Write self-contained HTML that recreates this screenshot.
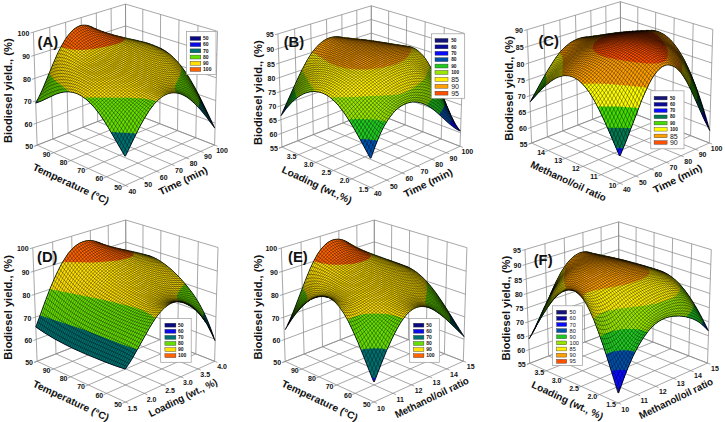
<!DOCTYPE html>
<html><head><meta charset="utf-8"><style>
html,body{margin:0;padding:0;background:#fff;}
svg{display:block;font-family:"Liberation Sans",sans-serif;}
text{fill:#111;}
</style></head><body>
<svg width="725" height="422" viewBox="0 0 725 422">
<defs><pattern id="p_yellowB" patternUnits="userSpaceOnUse" width="1" height="1" patternTransform="matrix(1.25 -1.55 1.25 1.55 0 0)"><rect width="1" height="1" fill="#fff000"/><path d="M0 0H1M0 1H1M0 0V1M1 0V1" stroke="#000" stroke-width="0.2" stroke-opacity="0.8"/></pattern>
<pattern id="p_navy" patternUnits="userSpaceOnUse" width="1" height="1" patternTransform="matrix(1.25 -1.55 1.25 1.55 0 0)"><rect width="1" height="1" fill="#14147a"/><path d="M0 0H1M0 1H1M0 0V1M1 0V1" stroke="#000" stroke-width="0.2" stroke-opacity="0.8"/></pattern>
<pattern id="p_blue" patternUnits="userSpaceOnUse" width="1" height="1" patternTransform="matrix(1.25 -1.55 1.25 1.55 0 0)"><rect width="1" height="1" fill="#0a0ae6"/><path d="M0 0H1M0 1H1M0 0V1M1 0V1" stroke="#000" stroke-width="0.2" stroke-opacity="0.8"/></pattern>
<pattern id="p_yellow" patternUnits="userSpaceOnUse" width="1" height="1" patternTransform="matrix(1.25 -1.55 1.25 1.55 0 0)"><rect width="1" height="1" fill="#ffe000"/><path d="M0 0H1M0 1H1M0 0V1M1 0V1" stroke="#000" stroke-width="0.2" stroke-opacity="0.8"/></pattern>
<pattern id="p_lime" patternUnits="userSpaceOnUse" width="1" height="1" patternTransform="matrix(1.25 -1.55 1.25 1.55 0 0)"><rect width="1" height="1" fill="#99e600"/><path d="M0 0H1M0 1H1M0 0V1M1 0V1" stroke="#000" stroke-width="0.2" stroke-opacity="0.8"/></pattern>
<pattern id="p_green2" patternUnits="userSpaceOnUse" width="1" height="1" patternTransform="matrix(1.25 -1.55 1.25 1.55 0 0)"><rect width="1" height="1" fill="#22c822"/><path d="M0 0H1M0 1H1M0 0V1M1 0V1" stroke="#000" stroke-width="0.2" stroke-opacity="0.8"/></pattern>
<pattern id="p_orange2" patternUnits="userSpaceOnUse" width="1" height="1" patternTransform="matrix(1.25 -1.55 1.25 1.55 0 0)"><rect width="1" height="1" fill="#ffa000"/><path d="M0 0H1M0 1H1M0 0V1M1 0V1" stroke="#000" stroke-width="0.2" stroke-opacity="0.8"/></pattern>
<pattern id="p_green" patternUnits="userSpaceOnUse" width="1" height="1" patternTransform="matrix(1.25 -1.55 1.25 1.55 0 0)"><rect width="1" height="1" fill="#66dd00"/><path d="M0 0H1M0 1H1M0 0V1M1 0V1" stroke="#000" stroke-width="0.2" stroke-opacity="0.8"/></pattern>
<pattern id="p_orange" patternUnits="userSpaceOnUse" width="1" height="1" patternTransform="matrix(1.25 -1.55 1.25 1.55 0 0)"><rect width="1" height="1" fill="#ff6400"/><path d="M0 0H1M0 1H1M0 0V1M1 0V1" stroke="#000" stroke-width="0.2" stroke-opacity="0.8"/></pattern>
<pattern id="p_steel" patternUnits="userSpaceOnUse" width="1" height="1" patternTransform="matrix(1.25 -1.55 1.25 1.55 0 0)"><rect width="1" height="1" fill="#0050aa"/><path d="M0 0H1M0 1H1M0 0V1M1 0V1" stroke="#000" stroke-width="0.2" stroke-opacity="0.8"/></pattern>
<pattern id="p_yellowC" patternUnits="userSpaceOnUse" width="1" height="1" patternTransform="matrix(1.25 -1.55 1.25 1.55 0 0)"><rect width="1" height="1" fill="#ffff00"/><path d="M0 0H1M0 1H1M0 0V1M1 0V1" stroke="#000" stroke-width="0.2" stroke-opacity="0.8"/></pattern>
<pattern id="p_blue2" patternUnits="userSpaceOnUse" width="1" height="1" patternTransform="matrix(1.25 -1.55 1.25 1.55 0 0)"><rect width="1" height="1" fill="#0a0aff"/><path d="M0 0H1M0 1H1M0 0V1M1 0V1" stroke="#000" stroke-width="0.2" stroke-opacity="0.8"/></pattern>
<pattern id="p_red" patternUnits="userSpaceOnUse" width="1" height="1" patternTransform="matrix(1.25 -1.55 1.25 1.55 0 0)"><rect width="1" height="1" fill="#ff5000"/><path d="M0 0H1M0 1H1M0 0V1M1 0V1" stroke="#000" stroke-width="0.2" stroke-opacity="0.8"/></pattern>
<pattern id="p_navy2" patternUnits="userSpaceOnUse" width="1" height="1" patternTransform="matrix(1.25 -1.55 1.25 1.55 0 0)"><rect width="1" height="1" fill="#0a0a9a"/><path d="M0 0H1M0 1H1M0 0V1M1 0V1" stroke="#000" stroke-width="0.2" stroke-opacity="0.8"/></pattern>
<pattern id="p_teal" patternUnits="userSpaceOnUse" width="1" height="1" patternTransform="matrix(1.25 -1.55 1.25 1.55 0 0)"><rect width="1" height="1" fill="#007070"/><path d="M0 0H1M0 1H1M0 0V1M1 0V1" stroke="#000" stroke-width="0.2" stroke-opacity="0.8"/></pattern>
<pattern id="p_tealg" patternUnits="userSpaceOnUse" width="1" height="1" patternTransform="matrix(1.25 -1.55 1.25 1.55 0 0)"><rect width="1" height="1" fill="#007a50"/><path d="M0 0H1M0 1H1M0 0V1M1 0V1" stroke="#000" stroke-width="0.2" stroke-opacity="0.8"/></pattern>
<pattern id="p_green3" patternUnits="userSpaceOnUse" width="1" height="1" patternTransform="matrix(1.25 -1.55 1.25 1.55 0 0)"><rect width="1" height="1" fill="#44dd00"/><path d="M0 0H1M0 1H1M0 0V1M1 0V1" stroke="#000" stroke-width="0.2" stroke-opacity="0.8"/></pattern></defs>
<rect width="725" height="422" fill="#fff"/>
<g><path d="M37.1 145.1L33.4 32.1M52.8 139L49.7 27.1M68.1 133L65.6 22.3M83.1 127.2L81.2 17.6M97.7 121.5L96.3 13M112 115.9L111.1 8.5M125.9 110.5L125.5 4.1M37.1 145.1L125.9 110.5M36.4 123.2L125.8 89.8M35.7 100.9L125.8 68.8M34.9 78.3L125.7 47.5M34.2 55.3L125.6 26M33.4 32.1L125.5 4.1M214.6 145.1L217.5 31.3M195.8 137.7L198 25.6M177.5 130.6L179 19.9M159.8 123.7L160.6 14.5M142.6 117L142.8 9.2M125.9 110.5L125.5 4.1M214.6 145.1L125.9 110.5M215.2 123L125.8 89.8M215.8 100.6L125.8 68.8M216.3 77.8L125.7 47.5M216.9 54.8L125.6 26M217.5 31.3L125.5 4.1M122.4 186.7L214.6 145.1M103.6 178.1L195.8 137.7M85.4 169.7L177.5 130.6M67.8 161.7L159.8 123.7M50.8 153.8L142.6 117M34.3 146.3L125.9 110.5M128.2 186.7L37.1 145.1M144.1 179.5L52.8 139M159.5 172.5L68.1 133M174.6 165.7L83.1 127.2M189.2 159L97.7 121.5M203.5 152.5L112 115.9M217.5 146.2L125.9 110.5M37.1 145.1L34.3 146.3M36.4 123.2L33.5 124.3M35.7 100.9L32.8 101.9M34.9 78.3L32 79.3M34.2 55.3L31.2 56.3M33.4 32.1L30.5 33" fill="none" stroke="#8a8a8a" stroke-width="0.75"/>
<defs><path id="sA" d="M125.1 156.4l-19.2-32.8-7.3-10.8-5.4-6.7-5.7-5.7-6.1-4.6-4.5-2.2-3.3-1.1-4.7-0.7-5 0.2-7.8 2.1-14 6.6-3.5 1.5-2.5 0.5 6.6-13.8 14.1-33.8 4.8-9.5 4.7-7.7 3.5-4.5 4.2-4.3 5.6-3.3 3.5-0.8 5 0.6 12.5 5.1 10.5 3.5 36.5 8.9 11 4.2 8.1 4.6 4.9 3.9 5.6 5.6 6.4 7.9 4.8 7.1 8.3 14.5 17 35-0.1 0.5-8.2-10.9-7.2-8.4-4.8-4.8-5.5-4.5-6.3-3.5-4.5-1.3-5-0.2-4.5 1-4.5 2.3-4 2.9-4.6 4.6-5.2 6.8-8.7 14.7-15.5 31.3z"/><clipPath id="cA"><use href="#sA"/></clipPath></defs>
<use href="#sA" fill="#0a0ae6"/>
<g clip-path="url(#cA)"><path d="M191.6 211l-191.5-0.1 0-210.8 241.8 0 0.1 103-0.4 3.6-29.2 14.8-0.5 2.9-0.7 0.7-33.8 24.6-0.6 0.9 1 10 2 10.8 3.3 11.7 8.6 26.8-0.1 1.1z" fill="#007070" fill-rule="evenodd"/><path d="M56.1 164.2l-0.5-0.4 4-13.7-15.7-36.8-5.3-11.2-1.5-1.8-36.7-18.6-0.4-3.8 0.1-77.8 241.8 0 0.1 69-0.4 4-42.5 21.5 0.6 6.8-1.2 6.2-20.9 20.3-2.2 2.7 1.3 17.8-0.1 4.8-40-19.8-25.2-1.3-55.3 32.1z" fill="#66dd00" fill-rule="evenodd"/><path d="M67.9 119.4l-0.5-0.8 2.1-20.7 0-5.5-0.4-0.8-14-11.2-6.2-6.9-48.4-19.4-0.5-5 0.1-49 241.8 0 0.1 14-0.2 2.3-0.7 1.5-54.7 43.7-5 4.6-0.4 4.9-0.9 3.8-4.5 9.5-1 3.2 0.3 2.8 2.3 3-2.9 16.5-0.1 7-0.6 1-16.5-16.5-4.5-1.3-9.7-1.5-15.3-0.8-43-0.2-0.8 0.3-2.4 2.9-13.5 18.6z" fill="#ffe000" fill-rule="evenodd"/><path d="M81.9 50.1l-10.8-0.6-9.6-2.6-60.9-30.4-0.5-1.6 0-14.8 121.8-0.1 5.2 0.1 1.9 0.5-8.6 34.5 0.7 1.8 3.5 2 0.3 0.7-0.5 1-5 2.6-11.3 3-15 2.8-11.2 1.1z" fill="#ff6400" fill-rule="evenodd"/></g>
<g opacity="0.7"><path d="M123.3 153.5l6.7-14.5 5.8-11.3 5.4-9.6 5.1-7.7 5.1-6.4 5-5 2.5-1.9 2.8-1.9 2.4-1.2 2.8-1.1 2.7-0.7 2.8-0.3 2.7 0.1 2.7 0.4 2.6 0.7 3 1.2 2.9 1.5 2.9 1.8 3.1 2.4 3.1 2.6 3.1 3 3.1 3.3 6 7.5 5.6 8.4M127.2 152.7l-7.8-13.5-6.4-10.6-5.7-8.7-5.1-7.1-5.3-6.5-5-5.2-4.9-4.3-4.8-3.4-4.8-2.4-5.1-1.6-5-0.5-5.2 0.2-5.1 1.2-5.6 2-6 2.9-7.8 4.5M121.4 150.2l5.7-12.5 5.8-11.1 5.4-9.2 5.4-7.8 5.4-6.4 2.5-2.5 2.8-2.5 2.5-1.9 2.8-1.7 2.8-1.4 2.7-1.1 2.8-0.7 3-0.4 3-0.1 3 0.4 3 0.6 3.2 1.2 2.9 1.3 3.2 1.8 3.1 2.2 3.1 2.4 2.8 2.6 2.8 2.9 2.7 3.3 2.5 3.3 5.1 8.1M129.1 148.6l-6.1-10.7-6.1-9.8-6.1-8.8-5.7-7.5-5.9-7-5.6-5.7-5.5-4.7-5.2-3.5-5.4-2.7-5.3-1.6-5.3-0.8-5.4 0.2-5.7 1.1-5.6 2.1-5.4 2.9-5.4 3.9M119.4 146.8l5.5-11.7 5.4-10.2 5.5-8.8 5.4-7.4 5.3-6.1 2.9-2.7 2.8-2.4 2.8-2 2.8-1.7 2.7-1.4 3.1-1.2 3-0.8 3.4-0.5 3-0.2 3.3 0.3 3.2 0.6 3.2 0.9 3.2 1.3 3.2 1.7 2.8 1.7 2.9 2.1 2.8 2.4 2.5 2.6 2.4 3 2.5 3.3 2.4 3.8 2.1 3.8M131 144.5l-5.5-9.5-5.4-8.4-5.8-8.1-6.3-7.9-6.6-7.3-6.2-6.1-5.8-4.8-5.8-3.9-5.7-2.9-5.6-1.8-5.5-1-2.9-0.1-2.9 0.1-5.3 0.9-5 1.8-2.5 1.3-2.4 1.5-4.5 3.7M117.5 143.5l5.1-10.8 5.2-9.4 5.4-8.4 5.4-7.1 5.7-6.1 2.8-2.6 3.1-2.5 2.8-2 3.1-1.8 3.1-1.5 3.1-1.2 3.3-0.9 3.3-0.6 3.3-0.2 3.3 0.1 3.3 0.5 3.2 0.8 3.2 1.1 3.4 1.5 2.9 1.6 2.5 1.8 2.5 2.1 2.5 2.6 2.2 2.6 2.2 3 2.2 3.4 2.1 3.9M132.9 140.4l-5.1-8.6-5.2-7.7-5.7-7.6-6.3-7.4-7.2-7.6-6.9-6.4-6.4-5.2-6.1-3.9-5.6-2.9-5.9-2.1-5.8-1.2-5.8-0.2-2.5 0.3-2.5 0.5-4.5 1.5-2.2 1.2-2.1 1.4-4 3.4M115.6 140.1l4.8-9.8 5.1-9 5.4-8.1 5.5-6.7 6-6.1 5.9-4.9 3.1-2.1 3.1-1.7 3.1-1.5 3.4-1.3 3.3-1 3.3-0.6 3.3-0.4 3.6 0 3.2 0.3 3.5 0.7 3.5 1 3.2 1.3 2.5 1.4 2.6 1.6 2.5 2.1 2.2 2.2 2.2 2.6 1.9 2.6 2.2 3.4 1.9 3.4M134.9 136.5l-4.9-7.9-4.8-6.8-5.4-6.8-6.1-6.7-7.8-7.9-7.4-6.8-6.8-5.4-6.6-4.4-6-3.1-5.9-2.3-5.8-1.4-5.7-0.5-4.8 0.4-4.2 1.3-2.2 1.1-1.9 1.2-3.7 3.1M113.6 136.7l4.9-9.4 5.1-8.5 5.1-7.2 5.7-6.7 6-5.8 6.3-4.9 3.1-2 3.4-1.9 3.1-1.4 3.3-1.3 3.7-1.1 3.3-0.7 3.6-0.4 3.3-0.1 3.5 0.2 3.2 0.4 3.2 0.8 3.2 1.1 2.5 1.2 2.6 1.6 2.2 1.7 2.2 2.1 2.3 2.5 1.9 2.5 3.7 6.3M136.8 132.6l-4.5-7-4.9-6.5-5.1-6-6-6.3-8.8-8.4-7.7-6.8-7.4-5.7-6.6-4.3-6.3-3.3-5.9-2.4-5.8-1.7-5.4-0.8-4.5 0.2-3.9 1-3.8 1.9-3.5 2.8M111.7 133.4l4.8-8.9 5.2-8.1 5.1-6.8 5.7-6.3 6.3-5.8 6.3-4.7 6.5-3.7 6.7-2.8 3.7-1.2 3.3-0.7 3.6-0.6 3.2-0.2 3.6 0 3.2 0.3 3.5 0.7 2.9 0.9 2.5 1 2.3 1.3 2.2 1.6 2.3 2 1.9 2.1 1.9 2.4 3.8 6M138.7 128.8l-4.5-6.5-4.5-5.7-5.1-5.7-5.8-5.6-9.4-8.6-8.3-7.1-7.4-5.5-6.9-4.5-6.2-3.5-5.9-2.6-6.1-2-5.2-1-4.2-0.2-3.9 0.7-3.6 1.6-3.2 2.3M109.8 130.1l4.8-8.3 5.2-7.6 5.1-6.5 5.7-6 6.3-5.5 6.6-4.7 6.5-3.7 7-3 7-2 3.6-0.6 3.2-0.4 3.6 0 3.2 0.2 3.2 0.4 2.9 0.7 2.5 1 2.3 1.1 2.3 1.5 1.9 1.6 1.9 1.9 2 2.3 1.9 2.6 1.9 3.1M140.6 125.1l-4.2-5.6-4.5-5.2-5.1-5.4-5.7-5.3-10.1-8.8-8.6-7-7.7-5.7-6.9-4.5-6.2-3.5-6.2-2.9-6.1-2.3-4.9-1.3-3.9-0.4-3.7 0.3-3.3 1.1-3.2 1.9M107.9 126.9l5.1-8.2 5.2-7.1 5.4-6.4 5.7-5.6 6.3-5.2 6.6-4.5 6.8-3.7 7-3 7-2 3.6-0.7 3.2-0.4 3.6-0.2 3.2 0.1 3.2 0.4 2.6 0.5 2.2 0.8 2.3 1 2.3 1.4 1.9 1.5 2 1.8 1.9 2.1 3.5 5M142.5 121.6l-4.2-5.1-4.5-4.8-4.8-4.7-5.7-5.1-11-9.1-8.6-6.8-7.3-5.4-7-4.5-6.2-3.6-6.5-3.3-6.4-2.8-4.6-1.6-3.9-0.7-3.4 0-3.3 0.7-3 1.3M106 123.8l5.1-7.7 5.5-7 5.4-5.9 6.1-5.6 6.3-5 6.5-4.3 6.8-3.6 7.3-3.1 7-2.1 6.5-1.2 6.5-0.2 3.2 0.2 2.6 0.5 2.3 0.6 2.2 0.9 2 1.1 2 1.3 1.9 1.7 2 2 3.5 4.6M144.4 118.2l-4.2-4.5-4.5-4.5-5.1-4.6-5.7-4.8-11.6-9.2-8.3-6.4-7-5-7-4.6-6.5-3.8-6.8-3.7-6.1-3.1-4.6-1.8-3.7-1.1-3.3-0.4-3.1 0.3-3 0.9M104.1 120.8l5.5-7.5 5.4-6.5 5.8-5.9 6-5.3 6.3-4.8 6.5-4.1 6.8-3.6 7.4-3 6.6-2.1 6.5-1.3 6.5-0.5 2.9 0.1 2.6 0.3 2.3 0.5 2.3 0.8 3.9 2.1 2 1.5 1.9 1.8 3.6 4.2M146.4 115l-9.1-8.3-11.1-9.1-19.6-14.9-6.7-4.7-6.7-4.4-15.9-9.4-5.2-2.9-4.1-1.9-3.4-1.2-3.1-0.7-3-0.2-2.8 0.4M102.2 117.9l5.5-6.9 5.8-6.4 6-5.9 6-5 6.3-4.6 6.6-4 6.8-3.5 7.3-3.1 6.9-2.2 6.2-1.4 6.2-0.6 5.5 0.3 2.3 0.4 2.3 0.7 3.9 1.9 3.7 2.8 3.5 3.8M148.3 112l-11.7-9.4-18.3-13.8-12.3-9-10-6.7-20.9-13-5.8-3.2-3.1-1.5-3.1-1-2.8-0.6-2.8-0.1M100.3 115.2l5.8-6.8 5.8-5.9 6.1-5.6 6.3-5.1 6.6-4.6 6.5-3.9 6.8-3.4 7.3-3 6.6-2.2 6.2-1.5 6.2-0.7 5.2 0.1 4.3 0.9 4 1.6 3.6 2.5 3.6 3.4M150.2 109.2l-36.2-26.2-14-9.7-30-19.3-2.8-1.5-2.8-1.2-2.6-0.8-2.5-0.5M98.4 112.6l6.2-6.6 6.1-5.9 6-5.3 6.3-4.9 6.6-4.4 6.6-3.8 6.7-3.3 7.3-3.1 6.6-2.2 6-1.5 5.8-0.9 5.3 0 4.3 0.6 3.9 1.4 3.7 2.2 3.6 3.1M152.1 106.7l-13.6-9-30.2-21.2-22.4-14.7-14-9.9-5.7-3.4-2.5-1.1-2.6-0.9M96.5 110.1l6.5-6.4 6.4-5.9 6.4-5.3 6-4.4 6.3-4.1 6.8-3.8 7.1-3.5 7.3-3.1 6.3-2.2 5.9-1.5 5.9-0.9 4.9-0.2 4 0.4 4 1.2 3.6 1.9 3.7 2.8M153.9 104.4l-7.4-4.3-8.3-5.4-26.5-18.3-22.5-14.9-18.6-13.9-4-2.5-3.6-1.8M94.7 107.8l6.7-6.4 6.5-5.5 6.3-5.1 6.4-4.5 6.2-3.9 6.8-3.8 7.1-3.4 7.3-3.1 6.3-2.3 5.9-1.6 5.6-1 4.9-0.3 4.1 0.4 3.9 1 3.7 1.7 3.3 2.3M155.8 102.2l-6.8-3.4-8-4.8-27.4-18.6-18.4-12.1-8.5-6.2-15.1-12.3-3.7-2.6-3.1-1.9M92.8 105.7l6.8-6.1 6.7-5.6 6.4-4.9 6.3-4.3 6.6-4 6.8-3.8 7.4-3.5 7.2-3.1 6.3-2.3 5.7-1.5 5.5-1.1 4.7-0.4 4 0.2 3.7 0.9 3.7 1.5 3.3 2M157.7 100.4l-7.1-3.3-8-4.6-45.2-30.1-8.9-6.5-15.3-13.3-6.6-5.1M90.9 103.7l7.1-6.1 6.8-5.4 6.4-4.7 6.3-4.2 6.5-4 6.9-3.6 7.6-3.7 7.3-3.1 6-2.2 5.6-1.7 5.3-1.1 4.6-0.5 4.1 0.1 3.7 0.6 3.6 1.3 3.4 1.9M159.6 98.7l-3.6-1.3-3.6-1.6-8.3-4.7-44.9-29.7-5.3-3.9-4.7-3.8-15.3-14-5.5-4.6M89.1 101.9l6.8-5.7 6.7-5.3 6.4-4.6 6.3-4.1 6.6-3.9 7.1-3.9 8-3.8 7.5-3.3 6-2.2 5.6-1.7 5.3-1.2 4.4-0.6 4 0.1 3.7 0.5 3.4 1.1 3.4 1.7M161.5 97.2l-3.6-1.2-3.6-1.5-3.9-1.9-4.4-2.6-44.9-29.6-5.9-4.4-5.3-4.4-19.6-18.8M87.2 100.2l6.8-5.6 6.5-5 6.3-4.5 6.7-4.2 6.8-4.1 7.2-3.7 8.2-4 7.6-3.3 6-2.3 5.3-1.7 5-1.2 4.3-0.6 4.1-0.1 3.7 0.4 3.4 1 3.3 1.5M163.3 96l-3.6-1.1-3.5-1.5-3.9-1.9-4.5-2.6-38.6-25.2-6.2-4.2-6.3-4.7-5.5-4.9-19.1-19M85.4 98.7l6.1-5.1 6.5-5 6.3-4.4 6.7-4.3 6.9-3.9 7.4-4 8.9-4.3 7.8-3.4 5.7-2.3 5.3-1.7 5-1.2 4.4-0.7 3.7-0.2 3.7 0.3 3.4 0.9 3.4 1.4M165.2 94.9l-3.6-1-3.6-1.5-3.9-1.9-4.1-2.3-38.6-25.2-6.9-4.7-6.2-4.7-5.9-5.3-5.5-5.5-13-13.6M83.6 97.3l5.8-4.9 6.1-4.7 6.4-4.4 6.6-4.3 6.9-3.9 7.8-4.1 9.5-4.6 7.8-3.5 5.7-2.3 5.3-1.8 4.7-1.2 4.4-0.8 3.7-0.2 3.7 0.2 3.4 0.8 3.4 1.3M167 94.1l-3.6-1.1-3.5-1.4-3.9-1.9-4.2-2.4-38.9-25.4-6.8-4.7-6.2-4.8-5.9-5.3-6.1-6.3-12.1-13M81.7 96.1l5.5-4.8 5.8-4.5 6.1-4.2 6.3-4.1 7.2-4.1 7.8-4.1 10.4-5.1 8.2-3.7 5.6-2.3 5.4-1.8 4.7-1.3 4.3-0.8 3.8-0.3 3.7 0.2 3.4 0.8 3.1 1.1M168.8 93.5l-3.2-1-3.6-1.5-3.8-1.9-4.2-2.5-39.5-25.8-6.9-4.7-6.2-4.9-5.9-5.4-6.1-6.3-11.8-12.8M79.9 95l5.2-4.6 5.5-4.4 5.7-4.1 6.4-4 7.2-4.2 7.8-4.2 11-5.4 8.7-4 5.7-2.3 5.3-1.9 4.7-1.3 4.1-0.8 3.8-0.3 3.7 0.2 3.4 0.6 3.1 1.1M170.7 93l-3.3-1.1-3.5-1.5-7.7-4.3-23.5-15.6-17-11-6.6-4.6-6.2-4.9-5.5-5.1-5.8-5.9-12.1-13.1M78.1 94.1l4.9-4.6 5.1-4.2 5.4-4 6.1-3.9 7.2-4.2 7.8-4.2 11.4-5.6 9.3-4.4 5.7-2.3 5.3-2 4.7-1.4 4.4-0.9 3.7-0.3 3.8 0.1 3.4 0.6 3.1 1.1M172.5 92.8l-3.3-1.2-3.2-1.5-7.4-4.3-23.2-15.5-18.5-12.1-6.2-4.4-5.9-4.6-5.6-5.1-5.2-5.3-12.7-13.5M76.3 93.4l4.5-4.6 4.9-4.2 5.1-3.9 5.7-3.8 7.2-4.2 8.2-4.4 11.3-5.6 10.3-4.9 6-2.5 5.3-2 4.7-1.4 4.1-0.8 3.7-0.4 3.7 0.1 3.5 0.6 3.1 1.1M174.3 92.8l-6.2-2.9-7-4.2-21.1-14.4-21-13.8-6.8-4.8-5.6-4.4-5-4.5-18.5-18.7M74.5 92.8l4.5-4.8 4.5-4.2 5.1-4 5.5-3.6 6.9-4.2 7.8-4.2 10.2-5.1 12.1-5.8 6.3-2.7 5.3-2 5-1.6 4.1-0.8 3.7-0.4 3.7 0.1 3.5 0.6 3.1 1.2M176.1 92.9l-5.5-2.9-6.4-4-22-15.3-21.9-14.5-6.9-4.8-5-3.9-4.4-3.9-19-18.5M72.7 92.4l4.2-4.8 4.5-4.4 4.8-4 5.1-3.6 6.6-4 8.2-4.5 22.3-11 6.6-2.9 5.6-2.1 5-1.6 4.4-1 3.7-0.4 3.7 0.2 3.5 0.6 3.1 1.2M177.9 93.2l-4.9-2.9-5.1-3.3-23.9-17.1-22.8-15.1-6.5-4.7-8-6.4-14.2-13.5-5.7-4.9M71 92.1l4.1-5.2 4.2-4.3 4.8-4.2 5.1-3.7 6.3-3.9 7.8-4.4 8.7-4.4 13.1-6.4 6.9-3.1 5.9-2.3 5.3-1.8 4.4-1 4-0.5 3.8 0.2 3.4 0.7 3.4 1.3M179.7 93.7l-9-6.2-24.9-18.3-23.4-15.7-6.5-4.6-7.1-5.7-14.2-12.8-6-4.7M69.2 91.9l3.9-5.1 4.1-4.7 4.5-4.1 5.1-3.9 6-3.9 7.8-4.4 8.4-4.4 12.2-5.9 7.5-3.5 6.2-2.6 5.9-2 4.7-1.1 4.1-0.5 3.7 0.2 3.7 0.8 3.4 1.4M181.5 94.3l-22.4-17.3-9-6.7-9.6-6.8-16.9-11.2-6.8-4.9-5.9-4.6-13.3-11.5-3.7-2.8-3.4-2.1M67.5 91.8l3.5-5 3.5-4.3 3.8-3.9 4.1-3.6 4.5-3.3 5.7-3.6 6.5-3.7 7.8-4 12.5-6.2 7.8-3.5 6.8-2.8 5.9-1.8 5-1.1 4.3-0.2 4 0.5 4 1.4M183.2 95.1l-16.6-14-13.5-10.5-11.7-8.4-22.5-15.3-5-3.8-9.9-8.2-4.6-3.5-3.7-2.5-3.4-1.7M65.7 91.9l3.2-4.9 3.5-4.6 3.5-3.9 3.8-3.6 3.8-3.1 4.8-3.2 5.9-3.6 6.9-3.8 9.8-5 11.5-5.4 7.2-3 6.2-2.2 5.3-1.3 4.6-0.4 4.3 0.3 4 1.2M185 96l-7.7-7.3-8.3-7.3-8.2-6.8-8.7-6.7-10.7-7.8-21-14.1-17.2-13.1-4.6-2.8-4.2-1.9M64 92.1l3.1-5.3 3.2-4.4 3.5-4.2 3.5-3.6 3.8-3.2 4.1-3 5.7-3.7 5.9-3.4 9-4.7 12.1-5.9 7.5-3.2 6.6-2.3 5.5-1.5 5-0.7 4.3 0.2 4 1M186.8 97.1l-7.4-7.8-7.7-7.2-8.5-7.4-9.3-7.4-12-8.7-20.9-14.1-13.4-9.8-4.6-2.9-4-1.8M62.3 92.3l3.1-5.5 3.2-4.7 3.5-4.5 3.4-3.7 3.8-3.4 4.2-3.2 5.6-3.8 5.9-3.5 8.7-4.6 11.6-5.5 7.8-3.4 6.5-2.3 5.6-1.4 4.9-0.6 4.6 0.2 4 1.1M188.5 98.3l-7-8.2-7.7-7.7-9.1-8.3-10.3-8.3-12.2-9-18.8-12.6-11.7-8.1-5.5-3.2-4.5-1.8M60.5 92.7l2.9-5.3 3.1-5.1 3.2-4.4 3.5-4 3.4-3.5 4.1-3.4 5.1-3.6 5.6-3.6 7.7-4.3 9.8-4.9 8.5-3.8 7.2-2.7 6.2-1.7 5.2-0.9 4.7 0 4 0.8M190.2 99.6l-7-8.9-7.6-8.3-8.8-8.3-10.6-8.8-7-5.4-7.3-5.2-25.2-16.6-6.4-3.8-2.6-1.1-2.5-0.9M58.8 93.2l2.9-5.6 3.1-5.4 3.5-5 3.4-4.3 3.5-3.5 4.1-3.6 5-3.8 5.3-3.5 7.2-4.1 8.5-4.4 8.8-3.9 7.2-2.7 6.2-1.7 5.3-0.9 4.7 0 4.3 0.7M191.9 101.1l-3.1-4.7-3.5-4.7-3.8-4.6-3.8-4.2-8.8-8.7-10.9-9.4-6.2-4.8-6.4-4.7-14.3-9.6-15-9.1-4-2-3.7-1.3M57.1 93.7l3.2-6.4 3.1-5.6 3.1-4.8 3.5-4.5 3.5-3.8 4.1-3.8 4.7-3.8 5.3-3.7 6.8-4.1 7.4-3.8 8.5-3.8 7.2-2.8 5.9-1.6 5.6-1 5-0.2 4.3 0.6M138.9 40.8l0.3 0.1M193.7 102.6l-3.2-5.1-3.5-5-3.8-4.9-3.8-4.5-4.1-4.4-4.7-4.6-10.9-9.7-6.1-4.9-6.1-4.5-6.6-4.7-6.9-4.4-7.9-4.8-6.5-3.6-4.3-2-3.7-1.2M55.5 94.4l3.1-6.8 3.1-5.9 3.1-5 3.5-4.8 3.4-4 4.1-4.1 4.7-3.9 5-3.7 6.2-4 6.8-3.6 8.2-3.8 6.9-2.6 6-1.7 5.6-1 5-0.2 4.6 0.6M135.4 40l0.6 0.2M195.4 104.2l-3.2-5.4-3.5-5.4-3.5-4.9-3.7-4.7-4.1-4.6-4.4-4.6-5.3-5-5.6-5-6.1-5.1-6.1-4.6-6.3-4.5-6.6-4.3-6.8-4-6.8-3.6-4.3-2-4-1.2M53.8 95l3.1-7 3.1-6.1 3.4-5.9 3.5-4.9 3.7-4.6 4.1-4.2 4.7-4.2 5-3.8 6.2-4 6.4-3.5 7.6-3.5 6.7-2.4 5.6-1.4 5.7-0.8 5.2 0 4.7 0.7M197 105.9l-3.1-5.8-3.2-5.3-3.4-5.2-3.8-5-3.8-4.5-4.3-4.8-5.3-5.3-5.6-5.1-5.8-5-6.1-4.8-6.4-4.6-6-4-6.2-3.7-5.9-3-4.9-2.2-4.4-1.3M52.1 95.8l3.1-7.3 3.1-6.4 3.4-6.1 3.4-5.3 3.8-4.9 4.1-4.5 4.6-4.4 5-4.1 5.6-3.8 6.1-3.4 7.1-3.3 6.3-2.3 5.7-1.4 5.3-0.7 5.3 0 4.7 0.7M198.7 107.7l-3.1-6.2-3.1-5.6-3.5-5.4-3.8-5.3-3.7-4.8-4.4-4.9-5.3-5.5-5.6-5.3-5.8-5.2-6.1-4.9-6.3-4.6-6-3.9-5.7-3.3-5.5-2.7-5-2-4.3-1.1M50.4 96.6l3.1-7.6 3.4-7.2 3.4-6.3 3.4-5.5 3.8-5.2 4.3-5.1 4.7-4.6 4.7-4 5.2-3.7 5.9-3.4 6.4-3 6.1-2.2 5.4-1.3 5.3-0.6 5 0.1 5 0.9M200.4 109.6l-3.1-6.5-3.2-5.9-3.4-5.8-3.4-5.1-3.8-5-4.1-4.9-4.9-5.4-5.3-5.3-5.5-5.1-5.8-4.9-6.1-4.6-6-4.1-5.3-3.2-5.1-2.5-4.9-2-4.4-1.3M125.5 37.9l-0.3-0.1M124.7 37.7l-0.6 0M48.8 97.4l3-7.7 3.4-7.5 3.4-6.6 3.7-6.3 4.1-5.8 4-5 4.4-4.7 4.6-4.2 5.3-3.9 5.2-3.2 5.5-2.7 5.8-2 5.4-1.3 5.1-0.6 5 0.2 4.8 0.8M122 37.1l0.3 0.1M202.1 111.6l-3.1-6.9-3.2-6.2-3.4-6-3.4-5.4-3.8-5.2-4-5.1-4.7-5.3-4.9-5.2-5.6-5.3-5.5-4.8-6-4.7-5.7-4-5.1-3.1-5-2.6-4.7-1.8-4.4-1.2M47.1 98.2l3.4-8.5 3.4-7.6 3.7-7.4 3.7-6.5 4-6.1 4-5.2 4.4-4.9 4.3-4.1 5-4 4.9-3.1 5.2-2.5 5.1-1.9 5.2-1.1 5.1-0.5 5 0.3 4.8 1M203.7 113.6l-3.1-7.2-3.1-6.3-3.4-6.3-3.4-5.6-3.5-5-4-5.4-4.7-5.6-4.9-5.4-5.2-5.2-5.5-5-5.8-4.7-5.4-3.9-5.1-3.1-4.7-2.5-4.4-1.7-4.4-1.2M132.5 39.4l-0.3 0M45.5 99l3.3-8.6 3.7-8.4 3.7-7.6 4-7.2 4-6.4 4-5.6 4.1-4.7 4.3-4.4 4.3-3.7 4.6-3.1 4.9-2.5 4.9-1.7 4.8-1.1 4.9-0.3 4.7 0.3 4.8 1.1M115.1 35.3l0.3 0.1M205.4 115.6l-3.1-7.3-3.1-6.6-3.4-6.5-3.5-5.8-3.7-5.7-3.7-5.1-4.7-5.9-4.6-5.3-4.9-5.1-5.2-4.9-5.5-4.6-5.4-4.1-4.8-3.1-4.7-2.5-4.4-1.7-4.1-1.1M136 40.2l-0.3-0.1M43.9 99.8l3.6-9.2 4-9.2 3.6-7.7 4-7.6 4-6.6 4-5.9 4.1-5 4-4.3 4.3-3.8 4.3-3 4.3-2.3 4.6-1.6 4.5-1 4.5-0.2 4.5 0.5 4.8 1.2M111.6 34.3l0.3 0.1M207 117.7l-3.1-7.4-3.1-6.7-3.4-6.7-3.4-6-3.7-6-3.7-5.4-4.4-5.7-4.3-5.3-4.6-5-4.9-4.9-4.8-4.3-5.2-4.1-4.8-3.3-4.4-2.5-4.2-1.9-4.1-1.2M42.2 100.6l4.3-10.6 3.9-9.1 4-8.5 4-7.8 3.7-6.4 3.7-5.8 3.6-5 4-4.6 4-3.8 4-3 4-2.2 4.3-1.7 4.3-0.8 4.2-0.2 4.5 0.6 4.5 1.2M208.6 119.8l-3-7.4-3.4-7.4-3.4-6.8-3.4-6.2-3.7-6.2-4.1-6.1-4-5.5-4.3-5.4-4.6-5.3-4.5-4.7-4.6-4.1-4.8-3.9-4.5-3.2-4.2-2.4-4.2-1.9-4.1-1.3M40.6 101.3l9.4-22.2 4-8.6 3.9-8 3.7-6.7 3.4-5.5 3.4-4.8 3.6-4.5 3.7-3.7 3.7-2.9 3.7-2.2 4-1.6 3.9-0.8 4-0.1 4.2 0.7 4.5 1.4M210.2 122l-6.7-15.4-3.4-6.9-3.7-6.9-3.7-6.4-4-6.3-4-5.7-4-5.3-4-4.7-4.2-4.6-4.3-4.1-4.5-3.8-4.2-3-4.2-2.6-4.2-2-3.8-1.2M39 102l12.4-28.7 6.7-14.2 3.4-6.3 3-5.1 3.1-4.5 3.3-4.3 3.4-3.5 3.7-3.1 3.4-2 3.6-1.5 3.7-0.6 3.7 0.1 3.9 0.8 3.9 1.4M211.9 124.2l-7.4-16.5-7.1-13.9-7-12.2-3.7-5.6-3.7-5.2-3.7-4.6-3.9-4.6-4-4-3.9-3.6-3.9-3.1-3.9-2.6-3.9-2.1-3.6-1.5M37.4 102.6l5.1-11.3 10.9-25.3 4.6-9.8 3-5.9 2.7-4.8 3.1-4.7 2.7-3.6 3.4-3.8 3.4-2.9 3.3-2.1 3.1-1.2 3.4-0.6 3.3 0.2 3.7 0.9 3.6 1.5M213.5 126.3l-8.6-18.4-7.4-14.7-6.7-11.9-6.4-9.8-3.4-4.5-3.6-4.4-3.4-3.5-3.6-3.5-3.6-3-3.6-2.6-3.6-2.1-3.6-1.7" fill="none" stroke="#000" stroke-width="0.55"/></g>
<path d="M125.5 156.1l8.4-17.6 5.4-11 5.1-9.3 4.8-7.6 4.7-6.2 2.6-2.8 2.5-2.4 2.1-1.7 2.5-1.7 2.5-1.3 2.4-0.9 2.5-0.6 2.4-0.2 2.4 0.1 2.7 0.4 2.7 0.9 2.6 1.2 2.7 1.5 2.6 1.8 5.4 4.7 5.9 6.2 6.3 7.7 8.1 10.9M124.9 156.2l-16.7-28.8-4.4-7.1-4.1-6-4.7-6.1-4.7-5.1-4.6-4.2-4.6-3.2-4.2-2.1-4.4-1.3-4.7-0.5-4.7 0.4-4 0.9-3.9 1.4-14.1 6.6-5.3 2M35.8 103.1l3-5.9 3.4-7.2 11.4-27.4 4.5-10.1 4.9-9.2 2.4-4 2.4-3.5 3.1-3.6 3-3 3.1-2.1 3.1-1.4 3-0.6 3.1 0.1 3.3 0.8 3.4 1.5M214.7 127.9l-12.8-26.6-5.5-10.9-5.5-9.9-5.2-8.2-6.1-8.1-3-3.4-3.3-3.4-3.3-3-3.3-2.5-3.3-2.1-3-1.6" fill="none" stroke="#000" stroke-width="0.8"/>
<text x="33.1" y="148.8" font-size="7" text-anchor="end" font-weight="bold">50</text>
<text x="32.3" y="126.8" font-size="7" text-anchor="end" font-weight="bold">60</text>
<text x="31.6" y="104.4" font-size="7" text-anchor="end" font-weight="bold">70</text>
<text x="30.8" y="81.8" font-size="7" text-anchor="end" font-weight="bold">80</text>
<text x="30" y="58.8" font-size="7" text-anchor="end" font-weight="bold">90</text>
<text x="29.3" y="35.5" font-size="7" text-anchor="end" font-weight="bold">100</text>
<text x="118.1" y="189.9" font-size="7" text-anchor="middle" font-weight="bold">50</text>
<text x="99.3" y="181.2" font-size="7" text-anchor="middle" font-weight="bold">60</text>
<text x="81.2" y="172.9" font-size="7" text-anchor="middle" font-weight="bold">70</text>
<text x="63.6" y="164.8" font-size="7" text-anchor="middle" font-weight="bold">80</text>
<text x="46.6" y="156.9" font-size="7" text-anchor="middle" font-weight="bold">90</text>
<text x="132.3" y="194" font-size="7" text-anchor="middle" font-weight="bold">40</text>
<text x="148.2" y="186.7" font-size="7" text-anchor="middle" font-weight="bold">50</text>
<text x="163.7" y="179.5" font-size="7" text-anchor="middle" font-weight="bold">60</text>
<text x="178.9" y="172.6" font-size="7" text-anchor="middle" font-weight="bold">70</text>
<text x="193.6" y="165.8" font-size="7" text-anchor="middle" font-weight="bold">80</text>
<text x="208" y="159.2" font-size="7" text-anchor="middle" font-weight="bold">90</text>
<text x="222" y="152.8" font-size="7" text-anchor="middle" font-weight="bold">100</text>
<rect x="186.6" y="31.6" width="29.4" height="43" fill="#fff" stroke="#9a9a9a" stroke-width="0.7"/>
<rect x="190.1" y="36.5" width="10.7" height="3.9" fill="#0a0a80" stroke="#333" stroke-width="0.4"/>
<text x="203.1" y="40.2" font-size="5" font-weight="bold" fill="#222">50</text>
<rect x="190.1" y="42.7" width="10.7" height="3.9" fill="#0a0ae6" stroke="#333" stroke-width="0.4"/>
<text x="203.1" y="46.4" font-size="5" font-weight="bold" fill="#222">60</text>
<rect x="190.1" y="48.9" width="10.7" height="3.9" fill="#007070" stroke="#333" stroke-width="0.4"/>
<text x="203.1" y="52.6" font-size="5" font-weight="bold" fill="#222">70</text>
<rect x="190.1" y="55.1" width="10.7" height="3.9" fill="#66dd00" stroke="#333" stroke-width="0.4"/>
<text x="203.1" y="58.8" font-size="5" font-weight="bold" fill="#222">80</text>
<rect x="190.1" y="61.3" width="10.7" height="3.9" fill="#ffe000" stroke="#333" stroke-width="0.4"/>
<text x="203.1" y="65" font-size="5" font-weight="bold" fill="#222">90</text>
<rect x="190.1" y="67.5" width="10.7" height="3.9" fill="#ff6400" stroke="#333" stroke-width="0.4"/>
<text x="203.1" y="71.2" font-size="5" font-weight="bold" fill="#222">100</text>
<text x="11.8" y="90.7" font-size="11.5" font-weight="bold" text-anchor="middle" textLength="104.7" lengthAdjust="spacingAndGlyphs" transform="rotate(-90 11.8 90.7)">Biodiesel yield., (%)</text>
<text x="69.5" y="187" font-size="10" font-weight="bold" text-anchor="middle" textLength="83" lengthAdjust="spacingAndGlyphs" transform="rotate(25 69.5 187)">Temperature (°C)</text>
<text x="184.5" y="184" font-size="10" font-weight="bold" text-anchor="middle" textLength="53" lengthAdjust="spacingAndGlyphs" transform="rotate(-26 184.5 184)">Time (min)</text>
<text x="37.6" y="46.7" font-size="14.8" font-weight="bold">(A)</text></g>
<g><path d="M281.9 147L277.9 33.9M297.8 140.8L294.6 28.9M313.3 134.7L310.7 24M328.3 128.7L326.5 19.3M343 122.9L341.8 14.7M357.3 117.3L356.8 10.2M371.3 111.7L371.3 5.8M281.9 147L371.3 111.7M281.4 133.4L371.3 99M281 119.7L371.3 86.1M280.5 105.8L371.3 73M280 91.7L371.3 59.8M279.5 77.5L371.3 46.5M279 63.1L371.3 33.1M278.4 48.6L371.3 19.5M277.9 33.9L371.3 5.8M460 146.3L464 33.3M441.2 138.9L444.3 27.5M422.9 131.8L425.2 21.8M405.2 124.9L406.7 16.3M388 118.2L388.7 11M371.3 111.7L371.3 5.8M460 146.3L371.3 111.7M460.5 132.7L371.3 99M461 119L371.3 86.1M461.5 105.1L371.3 73M462 91L371.3 59.8M462.5 76.8L371.3 46.5M463 62.5L371.3 33.1M463.5 48L371.3 19.5M464 33.3L371.3 5.8M367.9 188.8L460 146.3M348.9 180.2L441.2 138.9M330.6 171.8L422.9 131.8M312.8 163.7L405.2 124.9M295.7 155.8L388 118.2M279 148.2L371.3 111.7M373.7 188.8L281.9 147M389.6 181.4L297.8 140.8M405.1 174.2L313.3 134.7M420.1 167.2L328.3 128.7M434.8 160.4L343 122.9M449 153.8L357.3 117.3M462.9 147.4L371.3 111.7M281.9 147L279 148.2M281.4 133.4L278.5 134.5M281 119.7L278 120.8M280.5 105.8L277.5 106.8M280 91.7L277 92.7M279.5 77.5L276.5 78.5M279 63.1L276 64.1M278.4 48.6L275.4 49.5M277.9 33.9L274.9 34.8" fill="none" stroke="#8a8a8a" stroke-width="0.75"/>
<defs><path id="sB" d="M370.6 158.6l-16.2-29.5-10-16-8-10.1-5.9-5.4-4.4-2.8-5-2.2-5-1.1-6 0.3-6 1.8-6.5 3.7-4.2 3.5-5.4 5.6-6.2 7.7 15.5-34.7 5.8-11.8 5-9 5-7.6 5.9-6.6 5.6-4.3 4.8-2.3 4.5-1 5.2 0 30.8 3.5 38.5 6 3.7 1 5.1 2.8 6.2 5.9 4.3 6.1 3.2 5.8 5.5 12 14.4 35.2 4.5 8.8 4.6 6.5-0.5 0.3-2.5-1.3-4.9-3.3-14.9-13.6-8.7-6.4-5.3-2.5-4.7-1.3-6.3-0.3-4 0.8-6.2 2.8-4.5 3.2-3.4 3.1-5.2 6.5-4.5 7.2-4.2 8.5-9.5 24.5z"/><clipPath id="cB"><use href="#sB"/></clipPath></defs>
<use href="#sB" fill="#0a0aff"/>
<g clip-path="url(#cB)"><path d="M290.1 211l-47.5 0-0.6-0.4 0.1-210.5 241.8 0-0.1 100.8-31.9 15.4-0.4 4.3-2.8 4.5-28.8 34.3 4.2 16.3-52-17.2-2-0.4-32.9 16.5-39.1 21-7 14.5-1 0.9z" fill="#0050aa" fill-rule="evenodd"/><path d="M309.9 165.3l-0.3-0.9 2.6-11.8 1-7 0.5-13.5-0.5-2.2-26.3-21.6-0.8-4.8-16-7.9-26.7-11.8-1.3-1 0-82.7 241.8 0-0.2 83.8-39.1 15.2-0.1 6.3-2.1 4.7-8.8 11.6-17.1 19.4-0.2 1.3 2.3 12.5 0 2.1-41.2-16.3-8.3-1.3-9-0.5-19.6 9.7-30.6 16.7z" fill="#22c822" fill-rule="evenodd"/><path d="M314.4 141.4l-0.5 0.1-0.4-2.9 0-18.5-17.1-22-2.5-11.1-51.7-23.9-0.1-63 241.8 0 0 61.9-2 1.3-36 15.3-8.1 4-0.8 7-1.1 3.4-8.6 11.9-12.2 23.2-0.3 1.5 0.9 8.3-0.3 1.1-29-17.1-5.8-1.5-6.5-0.9-16.5-0.5-9 0.5-34.2 21.9z" fill="#99e600" fill-rule="evenodd"/><path d="M314.4 118.6l-0.1-16.2 0.9-10.8-6.1-8.5-7-13-59.7-30.1-0.4-7.6 0.1-32.3 241.8 0 0.1 32-0.3 5-53.4 28.8-1.1 1.7-2.6 7.4-1.7 3-3.8 4-6.5 5.1-5 3.1-4.7 2.3-4.8 1.5-5.7 1-47.8 2.2-16.5 0-15.7 21.4z" fill="#fff000" fill-rule="evenodd"/><path d="M368.1 69.4l-11.5 0.1-10.2-0.9-8.3-2-7.5-3.2-21-13-65.7-47.3-1.5-1.1-0.2-1.6 11.9-0.4 143.5 0 11.8 0.4-5.6 39.5 0 5 0.3 0.5 0.8-1.1 0.5 1.5 0.7-0.2 4.6 2.8 0.5 2.2-1.2 3-2.4 3.3-3.2 2.8-4 2.5-5 2.2-12.1 3.2-15.2 1.8z" fill="#ffa000" fill-rule="evenodd"/></g>
<g opacity="0.7"><path d="M368.8 155.5l4.3-11.5 4.5-10.5 4.6-8.8 4.5-7 4.8-6 2.6-2.6 2.5-2.2 2.9-2.1 2.8-1.6 2.8-1.3 2.8-1 2.5-0.6 2.7-0.4 2.8 0 2.7 0.2 2.7 0.5 2.6 0.8 2.7 1.1 2.9 1.4 4.9 3.1 5.3 4.3 19 17.6M372.7 153.1l-19-31.2-5.1-7.8-4.5-6.1-4.7-5.6-4.7-4.6-4.6-3.5-4.6-2.6-2.8-1.1-2.7-0.8-2.7-0.4-2.9-0.2-3 0.2-2.9 0.6-2.9 0.9-2.5 1.1-2.9 1.5-2.5 1.7-2.7 2.2-2.5 2.3-5.1 5.7-4.7 6.7M366.9 151.9l4.5-11.4 4.6-9.7 4.9-8.6 4.8-7 2.6-3.1 2.6-2.8 2.5-2.4 2.9-2.3 2.8-1.9 3.1-1.8 2.8-1.3 3.1-1 2.8-0.7 3-0.4 3.1 0 3 0.3 2.9 0.6 3 1 2.9 1.2 2.9 1.5 2.8 1.7 3.1 2.3 6.4 5.5 6.2 6.6 6.6 8.1M374.7 147.5l-6.2-8.8-15.4-23.2-4.5-6.2-3.8-4.8-4.4-4.9-4.6-4.3-4.7-3.4-4.6-2.4-2.7-1.1-2.7-0.8-2.7-0.4-3-0.2-2.9 0.1-2.9 0.4-2.9 0.8-2.6 1-2.8 1.4-2.5 1.6-2.5 1.9-2.5 2.2-4.8 5.4-4.5 6.2M364.9 148.3l4.6-10.5 4.9-9.6 5.2-8.5 5.1-7 2.6-2.9 2.9-2.9 2.8-2.5 2.9-2.2 3.1-2 3.2-1.8 3.1-1.3 3-1 3.1-0.7 3-0.4 3 0 3.3 0.3 3 0.5 3.2 1 3.2 1.3 3.1 1.7 3.2 2 2.8 2.2 2.7 2.4 2.8 2.8 5.3 6.6 5 7.5M376.6 142.3l-7.4-9.4-16.7-23.2-7-8.6-4.4-4.5-4.6-4-4.6-3.1-4.6-2.4-2.7-1-2.8-0.7-2.6-0.5-3-0.2-2.9 0.1-2.7 0.3-2.8 0.7-2.6 0.9-2.6 1.2-2.5 1.5-4.7 3.6-4.6 4.8-4.5 6.1M363 144.7l4.9-10.4 5.2-9.3 5.2-7.9 5.4-6.9 5.8-5.8 3.2-2.6 3.1-2.3 3.2-2 3.1-1.6 3.1-1.4 3.3-1.1 3.1-0.7 3.3-0.4 3 0 3.3 0.2 3.2 0.6 3.2 1 3.2 1.3 2.9 1.5 2.8 1.8 2.5 2.1 2.5 2.3 2.4 2.7 2.5 3.1 2.4 3.4 4.4 7.6M378.6 137.5l-3.6-3.7-4.2-4.9-17-22.1-4.1-5-3.5-3.8-4.3-4.3-4.4-3.5-4.3-2.8-4.6-2.3-2.7-1-3-0.9-2.7-0.4-2.9-0.3-3 0-2.6 0.3-2.6 0.5-2.6 0.8-2.5 1-2.3 1.2-2.5 1.7-2.2 1.7-2.4 2.3-2.2 2.3-4.2 5.5M361.1 141.1l5.2-10.1 5.2-8.7 5.5-7.8 5.8-6.8 6-5.8 3.2-2.6 3.5-2.4 3.1-1.9 3.4-1.8 3.1-1.3 3.4-1.1 3-0.7 3.3-0.5 3.3-0.1 3.3 0.2 3.2 0.5 2.9 0.8 2.9 1.1 2.8 1.5 2.6 1.7 2.5 2 2.5 2.5 2.1 2.5 4.3 6.2 4.2 7.7M380.6 133.1l-4.3-3.8-4.5-4.9-4.8-5.7-12.8-15.8-3.8-4.4-3.5-3.6-4.3-3.9-4.4-3.3-4.3-2.7-4.2-2-5.4-1.8-5.7-0.9-2.9-0.1-2.7 0.2-2.6 0.4-2.5 0.7-2.6 0.9-2.2 1.1-4.5 3-4.3 4-4.3 5.2M359.1 137.5l5.6-9.8 5.5-8.6 5.8-7.6 6.1-6.7 6.4-5.8 6.6-4.8 3.1-1.9 3.4-1.7 3.4-1.4 3.4-1.1 3-0.7 3.3-0.5 3.3-0.2 3.2 0.1 3 0.4 2.9 0.8 2.8 1 2.6 1.4 2.5 1.7 2.3 1.8 2.2 2.2 2.2 2.6 4 6 3.9 7.6M382.5 129.1l-4.5-3.6-5.2-5.2-4.9-5.4-13-15.4-6.9-7.2-4.1-3.5-4.3-3.2-4.3-2.6-4.3-2-5.7-1.9-5.6-1-5.3 0-2.6 0.3-2.6 0.6-4.5 1.7-4.5 2.6-4.4 3.7-4 4.6M357.2 134.1l5.9-9.7 5.8-8.4 6.1-7.5 6.1-6.4 6.7-5.7 6.9-4.9 3.4-2 3.4-1.7 3.4-1.4 3.1-1 3.3-0.8 3.3-0.5 3.3-0.2 2.9 0.1 2.9 0.3 2.7 0.6 2.5 1 2.3 1.1 2.3 1.4 2.2 1.8 2.2 2.2 2.2 2.5 2.2 3 1.8 3.1 3.7 7.1M384.5 125.4l-4.9-3.4-5.5-5.1-5.2-5.5-13-14.8-6.9-6.8-4.1-3.3-4.3-3.1-4-2.4-4.3-2-5.4-1.8-5.6-1.2-5.3-0.2-2.6 0.2-2.6 0.4-4.5 1.5-4.5 2.3-4.1 3.2-4 4.1M355.3 130.6l5.8-8.9 6.2-8.3 6.5-7.5 6.4-6.4 6.9-5.8 6.9-4.8 6.8-3.6 6.5-2.4 3.3-0.9 3-0.5 3.3-0.3 2.9 0 2.6 0.2 2.7 0.5 2.6 0.8 2.2 1.1 2.3 1.4 2.2 1.7 2.2 2.1 2 2.3 3.7 5.5 3.7 7M386.4 122.1l-2.6-1.5-2.6-1.8-5.5-4.8-5.5-5.6-13-14.2-6.9-6.6-4.1-3.2-4-2.8-4-2.3-4.2-2.1-5.4-1.9-5.7-1.3-5.3-0.4-4.9 0.4-4.5 1.1-4.5 2-4.2 2.7-4 3.6M353.3 127.3l6.2-8.8 6.5-8.1 6.5-7.1 6.7-6.4 7-5.7 6.9-4.6 6.8-3.7 3.3-1.4 3.4-1.1 6.3-1.5 3.3-0.3 2.9-0.1 2.6 0.2 2.4 0.4 2.3 0.7 2.2 1 2.3 1.3 2 1.4 2.2 2.1 1.9 2.1 3.8 5.3 3.4 6.4M388.4 119.1l-2.7-1.4-2.6-1.6-5.8-4.8-5.5-5.3-13.3-14.1-6.9-6.4-4-3.1-4.1-2.7-3.9-2.3-4-1.9-5.4-2-5.4-1.4-5.2-0.6-5 0.1-4.5 0.8-4.5 1.6-4.2 2.3-4.1 3.2M351.4 124.1l6.5-8.7 6.9-8 6.7-7.1 6.7-6.1 7-5.5 6.9-4.5 6.8-3.6 6.4-2.5 6.3-1.6 5.9-0.6 2.6 0.1 2.4 0.3 2.3 0.6 2.3 0.9 2.2 1.2 2 1.3 2 1.7 1.9 2 3.8 4.9 3.4 6M390.3 116.4l-2.6-1.3-3-1.7-5.8-4.6-5.5-5.2-13.3-13.7-7.2-6.4-3.7-2.9-4-2.6-3.7-2.1-4-2-5.4-2.1-5.3-1.5-5.3-0.8-5-0.1-4.5 0.5-4.6 1.2-4.1 1.9-4.2 2.6M349.5 120.9l6.9-8.4 6.8-7.6 6.7-6.8 7.1-6.3 6.9-5.3 6.6-4.3 6.8-3.6 6.4-2.6 6.3-1.7 5.9-0.8 2.7 0 2.3 0.3 2.3 0.4 2 0.7 2.3 1 2 1.2 1.9 1.5 2 1.7 3.8 4.6 3.5 5.5M392.2 114l-2.6-1.2-2.9-1.7-3-2.1-2.9-2.3-5.8-5.4-13.3-13.3-7.2-6.3-3.7-2.8-3.7-2.4-3.7-2.1-3.9-2-5.5-2.2-5.3-1.6-5-1-5-0.4-4.6 0.2-4.5 0.9-4.5 1.5-4.1 2M347.6 117.9l7.2-8.3 7.1-7.6 7.1-6.8 6.7-5.7 6.9-5.2 6.6-4.2 6.5-3.5 6.4-2.6 6.3-1.8 5.9-0.9 5 0 4.3 1 2.3 0.9 2 1 3.9 3 3.6 3.8 3.5 4.9M394.2 111.8l-2.7-1.1-2.9-1.7-5.8-4.3-5.8-5.2-13.7-13.4-6.9-5.9-7.1-5-7.3-4-5.4-2.3-5.4-1.8-5.3-1.2-5-0.7-4.9 0-4.5 0.4-4.5 1.1-4.2 1.5M345.7 115l7.5-8.2 7.1-7.3 7.1-6.5 7-5.8 6.6-4.9 6.6-4.2 6.5-3.4 6.1-2.5 6-1.9 6-1.1 5-0.2 4.3 0.6 2.3 0.7 2 0.9 3.9 2.4 3.9 3.6 3.5 4.3M396.1 109.9l-2.7-1.1-2.9-1.7-2.9-2-3.3-2.5-5.7-5.2-13-12.5-6.9-5.9-7.1-5-7.4-4.1-5.1-2.3-5.4-1.9-5.3-1.4-5-0.9-4.9-0.4-4.6 0.1-4.8 0.6-4.4 1M343.7 112.2l7.9-8.1 7.2-7 7-6.3 6.7-5.4 6.7-4.8 6.2-4 6.5-3.4 6.1-2.6 6-2 6-1.3 5-0.4 4.6 0.4 4.3 1.2 4 2 3.9 3.1 3.5 3.7M398 108.3l-2.6-1.2-3-1.7-5.8-4.3-5.8-5-13.3-12.7-6.6-5.5-6.8-4.9-7.1-4-5.1-2.4-5.1-2-5.4-1.7-5-1.1-5.2-0.8-4.9-0.3-5.1 0.2-4.7 0.5M341.8 109.6l7.9-7.8 7.5-7 6.7-5.9 6.7-5.3 6.3-4.5 6.3-3.9 6.2-3.4 6.1-2.7 6.3-2.2 6-1.4 5-0.6 4.7 0.1 4.3 0.9 4.2 1.7 3.9 2.5 3.6 3.2M399.9 106.9l-2.6-1.3-3-1.8-5.8-4.3-5.8-5-12.7-12-6.6-5.5-6.8-4.9-6.7-4-4.9-2.4-5.1-2.1-5.1-1.7-5.3-1.5-5.2-1-5.2-0.8-5.4-0.3-5.4 0M339.9 107.2l8.2-7.8 7.5-6.8 6.8-5.7 6.3-5 6.4-4.4 5.9-3.7 6.2-3.4 5.8-2.6 6.4-2.3 5.9-1.6 5.4-0.8 4.6-0.1 4.4 0.5 4.2 1.3 3.9 1.9 3.9 2.8M401.8 105.7l-5.3-3-5.8-4.4-5.5-4.8-13-12.1-6.3-5.3-6.5-4.7-6.7-4.1-4.9-2.5-4.8-2.1-5.1-1.9-5-1.5-5.3-1.4-5.5-1.1-5.7-0.8-6.2-0.7M338.1 104.9l8.5-7.8 7.1-6.3 6.8-5.6 6.4-4.9 6-4.2 5.9-3.7 5.6-3 5.8-2.7 6.1-2.4 6.3-1.8 5.3-1 5-0.4 4.6 0.2 4.3 0.9 4.2 1.6 3.9 2.2M403.7 104.6l-5.3-3.2-5.5-4.2-5.5-4.8-12.7-11.8-5.9-5-6.5-4.8-6.8-4.2-4.6-2.4-4.5-2.1-4.8-2-5.1-1.7-10.5-2.9-14-2.9M336.2 102.9l15.6-13.9 6.8-5.5 6.1-4.6 6-4.1 5.6-3.5 5.6-3.1 5.8-2.7 6.1-2.4 6-1.9 5.7-1.3 5-0.6 4.6 0 4.6 0.6 4.2 1.1 4.2 1.9M405.5 103.8l-4.9-3.3-5.5-4.4-17.2-15.7-6-5.1-6.5-4.9-6.8-4.3-8.8-4.6-9.3-3.8-9.7-3.1-16.9-4.5M334.3 101l15.7-13.6 6.4-5.2 6.1-4.5 5.7-4 5.6-3.4 5.6-3.1 5.5-2.7 6.1-2.5 6.1-2 5.6-1.4 5.3-0.8 5-0.3 4.5 0.3 4.6 0.8 4.2 1.4M407.4 103.1l-4.6-3.3-5.2-4.3-16.6-15.2-5.9-5.2-6.6-5-6.8-4.4-8.5-4.6-9-4-8.6-3-19.9-6.2M332.4 99.3l15.4-13.2 6.4-5.1 6.1-4.5 5.7-3.9 5.3-3.3 5.6-3.1 5.6-2.8 5.8-2.4 6-2.1 6-1.6 5.3-1 4.9-0.5 4.9 0.1 4.6 0.5 4.5 1.1M409.3 102.6l-8.8-7.3-15.7-14.5-6.3-5.5-6.6-5.2-7.1-4.8-8.2-4.6-9.1-4.2-7.4-2.8-15.7-5.3-6.8-2.5M330.6 97.8l15-12.9 6.4-5.1 5.8-4.2 5.7-3.9 5.3-3.4 5.6-3.1 5.6-2.7 5.8-2.5 6-2.2 5.7-1.6 5.6-1.2 5.3-0.6 4.9-0.2 4.8 0.3 4.6 0.8M411.1 102.2l-6.8-6-15.4-14.5-6.6-6-7.2-5.8-7.2-4.9-8.2-4.8-8.8-4.1-8-3.3-16.9-6.1-6.6-2.6M328.7 96.4l14.4-12.3 6.4-5.1 5.8-4.3 5.7-3.9 5.3-3.3 5.7-3.2 5.5-2.8 5.8-2.5 6.1-2.2 5.7-1.7 5.6-1.3 5.3-0.8 5.2-0.3 4.8 0.1 4.8 0.5M413 102l-18.7-18.1-7.6-7.1-7.9-6.5-7.8-5.5-8.3-4.9-9-4.5-7.8-3.2-17.2-6.5-7.4-3.2M326.9 95.2l13.7-11.8 6.1-4.9 6.1-4.5 5.7-4 5.4-3.4 5.6-3.2 5.6-2.8 5.8-2.5 5.7-2.2 6-1.9 5.7-1.3 5.5-0.9 5.3-0.5 5.1-0.1 4.8 0.4M414.8 102l-14.2-14.7-9.6-9.2-8.5-7.3-8.4-6.2-8.6-5.2-9.1-4.6-8-3.5-17.6-6.8-7.7-3.4M325 94.2l13.4-11.7 6.2-4.9 6-4.6 5.8-3.9 5.3-3.4 5.6-3.2 5.6-2.8 5.8-2.6 5.8-2.2 5.7-1.8 5.6-1.4 5.6-1 5.2-0.6 5.5-0.2 5.1 0.3M416.6 102.1l-11.3-12.6-10.2-10.3-9.1-8.1-4.4-3.5-4.7-3.3-8.6-5.3-9.4-4.9-8.4-3.7-18.1-7.2-7.4-3.3M323.2 93.4l12.7-11.4 6.2-5 5.7-4.4 5.8-4 5.6-3.6 5.7-3.3 5.5-2.8 5.9-2.7 5.8-2.2 6-1.9 5.6-1.4 5.6-1.1 5.5-0.6 5.5-0.2 5.1 0.2M418.4 102.3l-10-12-5.1-5.6-4.8-4.9-4.7-4.5-4.7-4.1-4.7-3.8-4.7-3.4-8.9-5.6-9.8-5.1-7.4-3.3-18.5-7.4-8.3-3.7M321.4 92.7l6.2-5.9 6.2-5.4 6.1-5.1 5.8-4.4 5.7-4.1 5.7-3.7 5.6-3.2 5.9-3.1 5.8-2.6 5.8-2.2 6-1.9 5.7-1.5 5.6-1 5.5-0.6 5.4-0.2 5.1 0.2M420.2 102.7l-4.5-6-4.8-6.1-4.5-5.2-4.8-5.1-4.7-4.7-4.7-4.2-4.7-3.9-5-3.7-4.7-3.1-4.6-2.8-10-5.3-8.7-3.9-18.1-7.3-7.7-3.3M319.6 92.2l5.9-5.8 5.8-5.3 5.8-4.9 6.1-4.8 5.8-4.1 5.9-3.9 5.7-3.3 5.9-3.1 5.8-2.7 6.1-2.3 6-1.9 5.7-1.4 5.5-1 5.6-0.6 5.4-0.1 5.1 0.2M422 103.2l-4.2-6.1-4.4-6-4.5-5.5-4.5-5-4.4-4.5-4.7-4.4-5.1-4.3-5-3.8-4.9-3.3-4.9-3.1-5.2-2.8-5.5-2.8-10.4-4.6-23.8-9.5M317.8 91.8l5.9-5.9 5.8-5.5 5.8-5 5.8-4.6 5.7-4.2 6-4 6-3.5 5.8-3.1 5.9-2.6 6.1-2.4 6-1.9 5.6-1.3 5.6-1 5.5-0.5 5.5 0 5.1 0.4M423.8 103.9l-4.2-6.6-4.1-5.9-4.2-5.4-4.4-5.3-4.5-4.7-4.7-4.5-5-4.3-5-3.9-5-3.4-5.2-3.3-5.5-3-5.7-2.9-12.6-5.4-21.4-8.2M316 91.6l5.5-5.9 5.5-5.3 5.5-5 5.8-4.7 5.7-4.3 6-4.1 6-3.6 5.9-3.1 5.9-2.8 6-2.4 6.1-1.9 5.6-1.4 5.6-1 5.6-0.5 5.2 0 5.1 0.5M407.5 46.2l0.6 0.1M425.6 104.6l-3.9-6.4-4.1-6.4-4.1-5.7-4.2-5.1-4.4-5-4.7-4.6-4.7-4.2-5.4-4.2-5.2-3.6-5.6-3.5-5.8-3.2-6-3-6.9-3.1-7.7-3.1-18.7-6.7M314.2 91.5l5.2-5.8 5.5-5.5 5.5-5.1 5.5-4.6 5.7-4.4 6-4.2 6-3.7 5.9-3.2 5.8-2.8 6.1-2.4 6.1-2 5.6-1.4 5.6-0.9 5.3-0.5 5.2 0.1 4.8 0.6M427.3 105.5l-3.8-6.9-3.8-6.2-4.1-6.1-4.1-5.3-4.5-5.1-4.4-4.6-4.7-4.2-5.3-4.3-5.3-3.7-5.8-3.7-6.1-3.4-6.7-3.3-7.8-3.3-8.2-3.3-8.1-2.8-8.6-2.6M312.4 91.5l4.9-5.6 5.2-5.5 5.1-5 5.5-4.8 5.4-4.3 5.7-4.1 5.7-3.7 5.9-3.4 5.9-2.9 5.8-2.5 5.7-2 5.7-1.6 5.4-1 5-0.6 4.9 0 4.9 0.4M400.2 45.1l0.3 0M429.1 106.5l-3.8-7.3-3.8-6.6-3.8-5.9-4.1-5.6-4.5-5.3-4.4-4.7-4.7-4.3-5.3-4.4-5.6-4-6.1-3.9-6.4-3.5-7-3.3-8.3-3.6-7.9-2.9-7.9-2.5-7.7-2M310.7 91.7l4.8-5.9 4.9-5.3 4.8-4.9 5.1-4.7 5.5-4.5 5.4-4.1 5.6-3.8 6-3.5 5.5-2.9 5.9-2.6 5.7-2.1 5.7-1.7 5.4-1.1 5-0.6 5-0.1 4.6 0.5M430.8 107.6l-3.5-7.2-3.7-7-3.8-6.2-4.1-5.9-4.4-5.6-4.5-4.7-4.7-4.5-5.3-4.4-5.9-4.3-6.1-3.9-6.7-3.6-7.3-3.5-8.3-3.4-7.9-2.8-7.2-2.1-7.2-1.5M308.9 92.1l4.5-5.8 4.9-5.7 4.8-5 4.8-4.6 5.4-4.7 5.4-4.2 5.7-3.9 5.6-3.5 5.6-3 5.8-2.6 5.5-2.1 5.8-1.8 5.3-1.1 5-0.6 4.7-0.1 4.6 0.5M432.5 108.9l-3.4-7.7-3.8-7.4-3.8-6.5-3.7-5.7-4.1-5.4-4.4-5-4.7-4.6-5-4.3-5.9-4.4-6.2-4-6.4-3.6-7.3-3.5-8.6-3.6-7.6-2.6-7-1.9-6.6-1.2M343.2 37.4l-0.6-0.1M307.2 92.5l4.5-6 4.5-5.5 4.8-5.4 4.8-4.7 5.1-4.6 5.1-4.1 5.7-4 5.6-3.6 5.6-3.2 5.8-2.7 5.5-2.2 5.8-1.8 5.3-1.1 5.1-0.7 4.7 0 4.3 0.5M434.2 110.2l-3.4-8.1-3.4-7.1-3.5-6.4-3.7-6-4.1-5.7-4.1-5-4.4-4.6-5-4.5-5.6-4.4-6.2-4.1-6.4-3.7-6.9-3.5-8.4-3.5-7.7-2.7-6.7-1.8-6.3-1.1M347.3 37.9l-0.3 0M305.4 93.1l4.5-6.4 4.5-5.7 4.5-5.2 4.8-4.9 5.1-4.8 5.1-4.2 5.4-3.9 5.6-3.8 5.6-3.2 5.5-2.7 5.5-2.2 5.8-1.9 5.4-1.2 4.7-0.6 4.7 0 4.4 0.5M436 111.6l-3.1-7.7-3.5-7.6-3.4-6.7-3.8-6.4-3.7-5.6-4.1-5.2-4.1-4.4-4.7-4.5-5.6-4.6-5.5-3.9-6.2-3.8-6.6-3.4-8.4-3.7-7.7-2.8-6.5-1.8-6-1M352.2 38.4l-0.9-0.1M303.7 93.8l4.2-6.2 4.2-5.6 4.4-5.5 4.5-4.9 4.8-4.7 4.8-4.2 5-4 5.3-3.7 5.3-3.3 5.6-3 5.2-2.3 5.5-2 5.4-1.4 5.1-0.9 4.4-0.3 4.4 0.4M382.4 42.2l0.8 0.2M437.6 113l-3-8-3.4-7.9-3.5-7-3.7-6.6-3.8-5.8-3.7-5-4.1-4.6-4.7-4.6-5.6-4.8-5.5-4-5.9-3.6-6.3-3.3-7.9-3.4-8-3-6.4-1.7-5.8-0.9M302 94.6l3.8-6 4.2-5.9 4.2-5.3 4.4-5.2 4.5-4.7 4.7-4.4 5.1-4.2 5.3-3.9 5.3-3.4 5.3-3 5.2-2.4 5.2-2 5.4-1.6 5.1-0.9 4.5-0.3 4.4 0.2M379.4 41.8l0.6 0.1M439.3 114.6l-3-8.4-3.1-7.5-3.4-7.3-3.4-6.5-3.8-6.1-3.7-5.3-4.1-4.9-4.4-4.5-5.3-4.7-5.2-4-5.5-3.7-6.1-3.3-7.3-3.3-8-3-6.2-1.8-5.8-1M359.5 39.1l-0.3 0M300.3 95.6l3.8-6.3 4.2-6.2 4.1-5.5 4.5-5.4 4.4-4.8 4.5-4.3 5-4.4 5-3.8 5-3.4 5.3-3.1 5.2-2.6 5.2-2 5.2-1.5 5-1 4.5-0.4 4.4 0.3M376.5 41.3l0.6 0.1M441 116.1l-3-8.6-3.1-7.8-3.4-7.5-3.4-6.7-3.8-6.3-3.7-5.5-4.1-5.1-4-4.4-5-4.6-4.9-3.9-5.2-3.6-5.8-3.3-6.7-3.1-7.8-3-6.5-1.9-5.5-1.1M364.5 39.7l-0.6-0.1M298.6 96.7l3.8-6.6 4.2-6.4 4.1-5.8 4.1-5.3 4.5-5 4.4-4.5 4.7-4.3 4.7-3.8 5-3.6 5-3 4.9-2.6 5.2-2.2 5.2-1.6 5.1-1.1 4.5-0.4 4.1 0.2M372.7 40.7l1.2 0.2M442.7 117.7l-3.1-8.9-3-7.9-3.4-7.8-3.4-6.9-3.4-6-3.7-5.7-4.1-5.4-4-4.6-4.7-4.5-4.9-4.2-5.3-3.6-5.2-3.1-6-2.9-6.9-2.7-6.6-2.1-5.8-1.2M368.3 40.1l-0.3 0M296.9 97.9l3.8-6.8 4.2-6.7 4.1-6.1 4.1-5.5 4.4-5.2 4.5-4.7 4.7-4.5 5-4.2 5-3.6 4.9-3.1 5-2.5 4.9-2 5.1-1.6 5.1-1 4.5-0.3 4.1 0.3M444.3 119.2l-3-8.9-3-8.1-3.4-8-3.4-7.1-3.4-6.2-3.7-6-4.1-5.5-4-4.8-4.6-4.7-4.7-4-4.9-3.6-4.9-3-5.8-2.9-6-2.3-6.8-2.2-5.6-1.1M372.1 40.6l-0.6 0M295.3 99.2l3.8-7.1 3.8-6.4 4.1-6.4 4.1-5.7 4.1-5.2 4.4-5 4.4-4.4 4.7-4.2 4.7-3.7 4.6-3.1 4.7-2.7 4.9-2.2 4.8-1.7 4.9-1.1 4.8-0.5 4.1 0.1M446 120.8l-3-9-3.1-8.2-3.3-8.1-3.4-7.3-3.4-6.4-3.7-6.2-3.7-5.4-4.1-5.1-4.3-4.7-4.3-3.9-4.6-3.6-4.9-3.2-5.2-2.7-5.4-2.2-6.3-2-5.6-1.3M377.1 41.4l-0.6-0.1M375.6 41.2l-0.6-0.1M293.6 100.6l3.8-7.3 4.1-7.2 4.1-6.6 4.1-5.9 4.1-5.4 4.4-5.2 4.4-4.6 4.7-4.4 4.7-3.7 4.6-3.2 4.6-2.6 4.9-2.2 4.9-1.6 4.8-0.9 4.5-0.4 4.2 0.3M447.6 122.3l-3.3-9.8-3.3-9-3.4-8-3.3-7.3-3.4-6.5-3.7-6.3-3.7-5.5-4-5.2-4.1-4.5-4.3-4.1-4.3-3.4-4.6-3-4.8-2.6-5.2-2.1-5.7-1.8-5.6-1.2M292 102.2l3.7-7.5 4.1-7.5 3.8-6.3 4.1-6.3 4.1-5.7 4-5.2 4.1-4.6 4.4-4.4 4.4-3.8 4.3-3.2 4.3-2.7 4.3-2.2 4.6-1.8 4.6-1.2 4.5-0.6 4.2-0.1M361.3 39.3l0.9 0.1M449.3 123.7l-3.3-9.6-3.4-8.9-3.3-8.1-3.4-7.4-3.3-6.7-3.7-6.6-3.7-5.8-4-5.5-4-4.7-4-4-4-3.4-4.3-3-4.6-2.5-4.5-1.9-5.1-1.7-5.4-1.2M384.7 42.6l-0.6-0.1M383.2 42.4l-0.3 0M290.4 103.8l4-8.2 4.1-7.7 4-7.1 4.1-6.5 4.1-5.9 4.1-5.4 4-4.8 4.4-4.5 4-3.6 4.4-3.3 4.3-2.7 4.3-2.1 4.3-1.6 4.2-1 4.6-0.6 4.2 0.1M450.9 125.1l-3.3-9.3-3.6-9.6-3.7-8.7-3.6-8.1-3.7-7.3-3.7-6.6-3.7-5.9-3.6-5.2-3.7-4.5-3.7-3.8-4-3.4-4-2.8-4.2-2.4-4.3-1.8-4.5-1.4-5.1-1M387.9 43.2l-0.6-0.1M288.7 105.6l4.4-9.1 4-7.8 4.1-7.4 4-6.8 4.1-6.2 4.1-5.6 4-5 3.8-4.1 4-3.8 4-3.2 4-2.7 4.4-2.2 4.2-1.7 4.3-1 4.2-0.5 4.2 0.1M452.5 126.4l-7.5-19.7-3.6-8.7-3.7-8.1-3.6-7.4-3.4-6.3-3.7-6.2-3.3-5-3.4-4.4-3.4-3.8-3.7-3.4-3.6-2.8-3.7-2.3-3.9-1.8-4.3-1.5-4.5-1M392.3 43.9l-0.5-0.1M287.1 107.5l8.7-18 4.4-8.1 4-7 4-6.5 3.8-5.4 4-5.3 3.8-4.3 3.7-3.7 4-3.3 4-2.7 4-2.1 4-1.5 4.3-1 4.2-0.4 4.2 0.2M454.1 127.6l-9-22.4-7.6-17.1-6.7-13.3-3.3-5.7-3.1-4.7-3-4.1-3.4-3.9-3.3-3.2-3.4-2.6-3.4-2.2-3.6-1.7-3.9-1.3-3.9-0.9M395.6 44.4l-0.3-0.1M285.5 109.5l9.3-19.6 4.3-8.4 4.1-7.3 4-6.8 3.7-5.7 3.7-5.1 3.8-4.4 3.7-3.8 3.7-3.2 3.7-2.6 4-2.1 4-1.5 3.9-0.8 4-0.3 4.2 0.3M455.7 128.7l-13.5-31.6-5.8-12.7-5.7-11.5-2.8-4.8-2.7-4.3-2.7-3.8-3.1-3.7-3-3-3.1-2.5-3.3-2.2-3.4-1.6-3.3-1.2-3.6-0.8M399.1 44.9l-0.3 0M284 111.6l10.1-21.8 8-15.8 3.7-6.5 3.4-5.6 3.4-5 3.4-4.4 3.4-3.8 3.7-3.4 3.4-2.6 3.7-2.2 3.7-1.6 3.7-0.9 3.6-0.5 4 0.2M347 37.9l0.3 0.1M457.4 129.7l-6.4-13.3-11.4-26.4-4.6-10-4.5-9.1-4.2-7.3-2.8-3.9-2.7-3.4-2.7-2.9-2.8-2.3-3-2.1-3.1-1.6-3-1.1-3.3-0.8M402.3 45.4l-0.3-0.1M282.4 113.8l11.9-26.1 7.4-15 3.4-6.3 3.4-5.7 3.1-4.8 3-4.2 3.4-3.9 3.4-3.3 3.4-2.6 3.7-2.2 3.4-1.4 3.7-0.9 3.6-0.3 4 0.3M459 130.5l-3.4-5.6-4-7.9-4.2-9.3-12.5-29.6-4.2-8.7-3.7-6.4-2.4-3.6-2.4-3.1-2.4-2.6-2.8-2.5-2.4-1.8-2.7-1.5-2.8-1.1-3-0.8M405.5 45.9l-0.6-0.1M404 45.7l-0.3 0" fill="none" stroke="#000" stroke-width="0.55"/></g>
<path d="M371.1 158.1l3.9-11.5 4.3-10.6 4.2-8.8 4.5-7.6 4.6-6 2.2-2.4 2.5-2.4 2.6-1.9 2.5-1.6 2.5-1.3 2.8-1 2.2-0.6 2.4-0.3 2.5-0.1 2.4 0.1 4.8 1.1 5 2.2 4.1 2.4 4.3 3.3 12.8 11.7 4.3 3.6 4 2.8 3.8 1.8M370.4 158.5l-10-18.6-6.1-10.9-5.5-9.1-5.1-7.7-5-6.5-4.7-5-4.7-3.9-2.4-1.6-2.5-1.3-2.7-1.1-2.7-0.8-2.7-0.4-2.7-0.1-2.7 0.2-2.9 0.6-2.6 0.8-2.8 1.2-2.6 1.5-2.8 1.9-2.8 2.2-2.7 2.5-5.4 6.1-5.2 7.2M281.1 115.4l13.8-30.6 6.1-13 6.4-12 2.8-4.5 2.7-3.9 3.1-3.8 3.4-3.5 3.1-2.6 3.4-2.1 3.4-1.5 3.3-0.9 3.4-0.3 3.7 0.2M340.6 37.1l0.9 0.1M460.3 130.8l-2.2-2.7-2.2-3.2-2.1-3.8-2.4-4.9M450.8 114.9l-3.9-8.9-12.2-30-3.6-7.7-3.6-6.4-2.1-3.2-2.4-3.1-2.2-2.3-2.4-2.2-2.4-1.8-2.5-1.3-2.7-1.1-2.7-0.6" fill="none" stroke="#000" stroke-width="0.8"/>
<text x="277.8" y="150.7" font-size="7" text-anchor="end" font-weight="bold">55</text>
<text x="277.3" y="137" font-size="7" text-anchor="end" font-weight="bold">60</text>
<text x="276.8" y="123.3" font-size="7" text-anchor="end" font-weight="bold">65</text>
<text x="276.3" y="109.3" font-size="7" text-anchor="end" font-weight="bold">70</text>
<text x="275.8" y="95.2" font-size="7" text-anchor="end" font-weight="bold">75</text>
<text x="275.3" y="81" font-size="7" text-anchor="end" font-weight="bold">80</text>
<text x="274.8" y="66.6" font-size="7" text-anchor="end" font-weight="bold">85</text>
<text x="274.2" y="52" font-size="7" text-anchor="end" font-weight="bold">90</text>
<text x="273.7" y="37.3" font-size="7" text-anchor="end" font-weight="bold">95</text>
<text x="363.5" y="192" font-size="7" text-anchor="middle" font-weight="bold">1.5</text>
<text x="344.6" y="183.3" font-size="7" text-anchor="middle" font-weight="bold">2.0</text>
<text x="326.3" y="174.9" font-size="7" text-anchor="middle" font-weight="bold">2.5</text>
<text x="308.6" y="166.8" font-size="7" text-anchor="middle" font-weight="bold">3.0</text>
<text x="291.5" y="158.9" font-size="7" text-anchor="middle" font-weight="bold">3.5</text>
<text x="377.8" y="196.2" font-size="7" text-anchor="middle" font-weight="bold">40</text>
<text x="393.8" y="188.6" font-size="7" text-anchor="middle" font-weight="bold">50</text>
<text x="409.3" y="181.3" font-size="7" text-anchor="middle" font-weight="bold">60</text>
<text x="424.5" y="174.2" font-size="7" text-anchor="middle" font-weight="bold">70</text>
<text x="439.2" y="167.3" font-size="7" text-anchor="middle" font-weight="bold">80</text>
<text x="453.5" y="160.5" font-size="7" text-anchor="middle" font-weight="bold">90</text>
<text x="467.4" y="154" font-size="7" text-anchor="middle" font-weight="bold">100</text>
<rect x="431.4" y="33.8" width="33.3" height="64.5" fill="#fff" stroke="#9a9a9a" stroke-width="0.7"/>
<rect x="435" y="38.5" width="13" height="3.9" fill="#14147a" stroke="#333" stroke-width="0.4"/>
<text x="451.2" y="42.2" font-size="4.8" font-weight="bold" fill="#222">50</text>
<rect x="435" y="44.9" width="13" height="3.9" fill="#0a0a9a" stroke="#333" stroke-width="0.4"/>
<text x="451.2" y="48.6" font-size="4.8" font-weight="bold" fill="#222">60</text>
<rect x="435" y="51.3" width="13" height="3.9" fill="#0a0aff" stroke="#333" stroke-width="0.4"/>
<text x="451.2" y="55" font-size="4.8" font-weight="bold" fill="#222">70</text>
<rect x="435" y="57.7" width="13" height="3.9" fill="#0050aa" stroke="#333" stroke-width="0.4"/>
<text x="451.2" y="61.4" font-size="4.8" font-weight="bold" fill="#222">80</text>
<rect x="435" y="64.1" width="13" height="3.9" fill="#22c822" stroke="#333" stroke-width="0.4"/>
<text x="451.2" y="67.8" font-size="4.8" font-weight="bold" fill="#222">90</text>
<rect x="435" y="70.5" width="13" height="3.9" fill="#99e600" stroke="#333" stroke-width="0.4"/>
<text x="451.2" y="74.2" font-size="4.8" font-weight="bold" fill="#222">100</text>
<rect x="435" y="77.4" width="13" height="3.9" fill="#fff000" stroke="#333" stroke-width="0.4"/>
<text x="451.2" y="82.3" font-size="7" fill="#444">85</text>
<rect x="435" y="84.3" width="13" height="3.9" fill="#ffa000" stroke="#333" stroke-width="0.4"/>
<text x="451.2" y="89.2" font-size="7" fill="#444">90</text>
<rect x="435" y="91.2" width="13" height="3.9" fill="#ff5000" stroke="#333" stroke-width="0.4"/>
<text x="451.2" y="96.1" font-size="7" fill="#444">95</text>
<text x="262.3" y="92.7" font-size="11.5" font-weight="bold" text-anchor="middle" textLength="104.7" lengthAdjust="spacingAndGlyphs" transform="rotate(-90 262.3 92.7)">Biodiesel yield., (%)</text>
<text x="315.5" y="188.1" font-size="10" font-weight="bold" text-anchor="middle" textLength="76" lengthAdjust="spacingAndGlyphs" transform="rotate(25 315.5 188.1)">Loading (wt.,%)</text>
<text x="429.5" y="186.1" font-size="10" font-weight="bold" text-anchor="middle" textLength="53" lengthAdjust="spacingAndGlyphs" transform="rotate(-26 429.5 186.1)">Time (min)</text>
<text x="283.7" y="47.2" font-size="14.8" font-weight="bold">(B)</text></g>
<g><path d="M531.6 143L527.1 29.7M547.4 136.9L543.6 24.7M562.8 130.9L559.8 19.9M577.8 125.1L575.5 15.2M592.5 119.4L590.8 10.6M606.8 113.8L605.8 6.1M620.8 108.4L620.4 1.7M531.6 143L620.8 108.4M531 127.4L620.8 93.7M530.4 111.6L620.7 78.8M529.7 95.7L620.6 63.7M529.1 79.5L620.6 48.5M528.4 63.1L620.5 33.1M527.8 46.5L620.5 17.5M527.1 29.7L620.4 1.7M709.3 143L712.8 29.5M690.6 135.7L693.2 23.6M672.4 128.5L674.2 17.9M654.7 121.6L655.7 12.3M637.5 114.9L637.8 6.9M620.8 108.4L620.4 1.7M709.3 143L620.8 108.4M709.8 127.4L620.8 93.7M710.3 111.6L620.7 78.8M710.8 95.6L620.6 63.7M711.3 79.4L620.6 48.5M711.8 63L620.5 33.1M712.3 46.3L620.5 17.5M712.8 29.5L620.4 1.7M617 184.5L709.3 143M598.2 175.9L690.6 135.7M580 167.6L672.4 128.5M562.4 159.5L654.7 121.6M545.3 151.7L637.5 114.9M528.7 144.1L620.8 108.4M622.8 184.5L531.6 143M638.6 177.3L547.4 136.9M654.1 170.3L562.8 130.9M669.2 163.5L577.8 125.1M683.9 156.9L592.5 119.4M698.2 150.4L606.8 113.8M712.2 144.1L620.8 108.4M531.6 143L528.7 144.1M531 127.4L528.1 128.5M530.4 111.6L527.4 112.7M529.7 95.7L526.8 96.7M529.1 79.5L526.1 80.5M528.4 63.1L525.5 64.1M527.8 46.5L524.8 47.4M527.1 29.7L524.1 30.6" fill="none" stroke="#8a8a8a" stroke-width="0.75"/>
<defs><path id="sC" d="M619.9 156.1l-0.6-0.5-15.9-37-8.7-17.5-4-6.7-5-7-5.6-5.9-4-2.9-5-2.3-4.5-0.8-4.7 0.5-4.8 1.6-6 3.5-5 3.9-5 4.8-9.7 10.6-0.1-0.5 14-25.5 10-16 4-5.3 4.8-5.3 8-6.2 5.8-2.8 5.5-1.5 35.7-5 27.5-2 6.3 0 3.7 0.8 6.8 3 3.7 2.7 4.5 4.2 5.8 7.4 6.8 11.2 5.7 12 6.8 17 7.2 21.8 5.3 18.7-4.6-8.7-12.9-29-5.3-10.3-4.2-6.7-5.6-6.1-3.2-2.2-4.8-1.3-2.5 0.3-4.7 2.2-4.5 4.2-4.1 5.6-2.7 4.8-7.5 16.2-17.2 45-5.5 13z"/><clipPath id="cC"><use href="#sC"/></clipPath></defs>
<use href="#sC" fill="#0a0a9a"/>
<g clip-path="url(#cC)"><path d="M683.9 211l-199.8-0.1 0-210.8 240.8 0-0.1 121.8-0.9 0.6-14.8 4.5-1.2 1.1-37.3 18.7-0.5 1.2 0.4 8.6 2.3 13.3 11.1 41.1z" fill="#0a0aff" fill-rule="evenodd"/><path d="M524.9 210.9l-40 0.1-0.9-0.4 0.1-210.5 240.8 0 0.1 100.3-0.4 1.7-20.5 6.9-0.6 0.6-1.4 5.3-32.7 14.1-0.1 7.1 0.7 15 2.4 17-0.3 0.5-47-19.7-2-0.6-7 0.1-70.9 29-20.3 33.5z" fill="#007a50" fill-rule="evenodd"/><path d="M558.1 148.9l-0.5-0.2 2.6-9.6 1.8-9.2 0.7-5.8-0.6-1.6-20.5-18-7-6.8-0.5-3.9-25.1-12.7-24.4-13.2-0.6-4 0.1-63.8 240.8 0 0 80.4-0.8 0.7-26 9.9-0.5 0.8-0.3 5.2-1.2 4.4-27.1 12.4-0.2 5 0.6 23.7-38.3-14.5-23-0.4-50 21.2z" fill="#44dd00" fill-rule="evenodd"/><path d="M563.6 123.9l-0.7-0.1-0.1-0.9 1.7-14-0.1-2-18.8-21 0.9-7.5-0.9-4.5-61.3-37-0.2-36.8 240.8 0 0.1 54-0.4 3.5-34 14.7 0.3 7.6-1.1 7.7-20.9 10.8-0.4 2.5 0.2 15.7-0.3 1.8-29.8-10.5-22-1.3-17.2 0-2.3 0.4-33.5 16.9z" fill="#ffff00" fill-rule="evenodd"/><path d="M565.9 100.5l-0.4-7.6-3.4-16.8 0.9-15.2-0.5-3.3-1.2-2.5-5.7-5.7-58.7-49 7.5-0.4 220.5 0.1 0.1 19-0.1 5.5-0.5 1.8-43.9 26.2-0.2 1.5 2 9.3-0.4 10.7-13.1 10-0.7 12.8-21-9.5-36.7-3.3-13.5-0.5-13 0.2-1.5 0.3-16.5 16.4z" fill="#ffa000" fill-rule="evenodd"/><path d="M656.4 63.6l-9.5-0.1-13.5-1.5-16.5-2.5-11.5-2.5-6.3-2.2-4.2-2.7-2.1-3 0-3.2 2.2-3.8 3.9-3.2 5.7-2.8 7-2 11.5-2 8.5-0.9 13.3-0.1 7.2 1 4.6 2.3 4.4 4.5 4.9 6.7 1.8 5.5-0.1 5.8-1.8 3.6-3.5 2.1-6 1z" fill="#ff5000" fill-rule="evenodd"/></g>
<g opacity="0.7"><path d="M617.8 152l5.8-13.8 14.8-37.8 4.2-9.7 3.9-8 4.4-7.8 1.9-2.8 2.3-2.7 2.2-2.3 2.2-1.8 2.2-1.3 2.1-0.9 2.2-0.4 2.5 0 2.1 0.5 2.4 1 2.4 1.6 2.4 2 2.3 2.6 2.3 3 4.3 6.7 4.7 8.8 16.5 35.3M621.7 152.1l-8.1-18.9-6.2-13.6-5.4-11.3-5.2-9.4-4.7-7.6-4.8-6.2-2.2-2.4-2.5-2.3-2.1-1.8-2.5-1.6-2.5-1.3-2.7-1-2.4-0.5-2.7-0.3-2.6 0.2-2.7 0.4-2.6 0.8-2.6 1.1-2.6 1.4-2.8 1.8-5.8 4.6-6.2 6-8 8.7M615.9 147.3l5.4-12.8 14.9-36.4 4.5-10.1 3.8-7.7 4.5-7.5 2.2-3 2.2-2.7 2.2-2.1 2.2-1.8 2.2-1.3 2.2-0.9 2.5-0.5 2.4 0 2.5 0.5 2.4 1 2.4 1.5 2.3 1.9 2.4 2.4 2.6 3.1 4.8 7.2 5.3 9.4 5.7 11.6 8.7 19M623.6 147.5l-7.1-16.4-6.1-13.3-5.8-11.5-5.2-9.1-5.1-7.8-4.7-5.9-4.7-4.6-2.5-2-2.4-1.5-2.5-1.3-2.7-1-2.4-0.6-2.7-0.3-2.7 0.1-2.6 0.3-2.7 0.7-2.8 1.1-2.6 1.3-2.8 1.7-5.9 4.3-6.5 6.1-7.4 7.8M613.9 142.7l4.9-11 14.8-35.2 4.5-9.7 4.1-8.1 4.5-7.4 2.2-3 2.2-2.6 2.3-2.2 2.2-1.8 2.1-1.4 2.5-1.1 2.5-0.6 2.5-0.2 2.4 0.4 2.7 0.9 2.4 1.2 2.7 2 2.6 2.4 2.6 2.9 2.6 3.3 2.9 4.1 5.5 9.5 6 11.9 6.8 15.2M625.6 142.7l-6.5-14.7-6.2-12.9-5.4-10.4-5.5-9.3-5.1-7.5-5-6.2-2.5-2.5-2.5-2.2-2.5-1.8-2.5-1.6-2.4-1.2-2.8-1-2.4-0.6-2.7-0.3-2.6 0-2.7 0.3-2.6 0.6-2.9 0.9-2.9 1.3-2.8 1.6-5.9 4.1-6.2 5.5-7.5 7.4M612 138.1l19.3-43.8 4.8-10 4.2-7.8 4.8-7.5 2.2-2.9 2.2-2.4 2.2-2.1 2.2-1.8 2.2-1.3 2.5-1.1 2.5-0.7 2.7-0.2 2.8 0.3 2.7 0.9 2.7 1.3 2.7 1.9 2.6 2.2 2.6 2.7 2.6 3.2 2.8 3.9 5.6 9 5.7 11.1 6.1 13.5M627.5 137.7l-6.2-13.6-5.8-11.8-5.8-10.6-5.4-8.8-5.1-7.1-5.1-5.9-5-4.5-2.4-1.8-2.8-1.7-2.5-1.2-2.7-1-2.7-0.7-2.7-0.3-2.7 0-2.6 0.2-2.7 0.6-2.9 0.9-2.8 1.2-2.9 1.5-5.8 3.8-6.3 5.2-7.3 6.7M610 133.6l19-41.5 4.8-9.6 4.5-8 4.8-7.2 4.5-5.2 2.2-2.1 2.5-1.9 2.2-1.4 2.5-1.1 2.4-0.6 2.8-0.3 2.7 0.2 2.8 0.7 2.7 1.1 2.9 1.8 2.7 2.1 2.9 2.7 2.6 2.9 2.8 3.6 2.8 4.1 2.8 4.5 5.5 10.2 5.5 12.4M629.4 132.6l-5.8-12.4-5.8-11.4-5.8-10.1-5.5-8.4-5.4-7.1-5-5.5-5-4.3-2.5-1.7-2.8-1.6-2.4-1.2-2.8-0.9-2.7-0.7-2.7-0.4-2.7 0-2.6 0.2-2.6 0.4-2.9 0.8-2.9 1.1-2.9 1.4-5.9 3.6-6.3 4.7-7.2 6.4M608.1 129.1l18.7-39.1 5.1-9.8 4.5-7.7 4.8-6.9 2.2-2.7 2.5-2.7 2.2-1.9 2.5-1.9 2.2-1.3 2.5-1.1 2.8-0.7 2.8-0.3 2.7 0.1 2.7 0.6 2.7 1 3 1.6 2.9 2.1 3 2.5 2.6 2.7 2.8 3.4 2.5 3.4 2.8 4.3 5.2 9.4 5.3 11.6M631.4 127.5l-5.9-12-5.5-10.2-5.8-9.7-5.4-7.9-5.4-6.7-5.1-5.2-5.3-4.4-5.2-3.2-2.5-1.1-2.7-0.9-2.7-0.7-2.7-0.4-2.7-0.1-2.7 0.2-2.6 0.4-2.9 0.7-5.5 2.2-5.9 3.2-6.3 4.4-7.6 6M606.1 124.7l18.7-37.3 5.2-9.4 4.4-7.4 4.8-6.6 4.8-5.2 2.2-1.9 2.5-1.9 2.2-1.2 2.5-1.2 2.8-0.8 2.7-0.4 2.8 0 3 0.5 3 0.9 3 1.4 2.9 1.9 2.9 2.3 2.9 2.7 2.6 2.9 2.8 3.6 2.5 3.7 2.8 4.6 2.4 4.5 4.8 10.2M633.3 122.3l-5.9-11.4-5.4-9.7-5.5-8.6-5.5-7.5-5.4-6.4-5.3-5.2-5.3-4.1-5.3-3-5.2-2-2.7-0.7-2.7-0.3-2.7-0.2-2.6 0.2-5.3 0.9-5.5 1.9-5.9 3-6.4 3.9-7.8 5.7M604.2 120.4l19-36.1 5.2-8.9 4.4-7 4.8-6.3 4.4-4.6 2.2-1.9 2.6-1.8 2.5-1.5 2.4-1.1 2.8-0.9 3.1-0.4 2.7-0.1 3.1 0.4 3 0.9 3 1.2 2.9 1.7 2.9 2.1 2.9 2.5 2.6 2.6 2.5 3.1 2.6 3.5 2.5 3.8 2.4 4.3 4.8 9.8M635.2 117.1l-5.2-9.7-5.5-9.3-5.4-8.2-5.5-7.1-5.4-6.1-5.4-5-5.3-4-5.5-3.1-5.2-1.9-5.5-1.1-5.3-0.1-5.3 0.8-5.5 1.7-5.9 2.7-6.4 3.6-8.2 5.3M602.3 116.2l19-34.3 5.1-8.5 4.5-6.7 4.8-6 4.7-4.8 4.7-3.5 2.5-1.4 2.5-1.1 2.8-0.9 3.1-0.5 2.7-0.1 3.1 0.3 3 0.6 2.9 1.1 3 1.4 2.9 1.9 2.9 2.3 2.6 2.4 2.6 2.8 2.5 3.3 2.5 3.6 2.5 4 4.5 8.9M637.2 112l-5.2-9.2-5.5-8.8-5.5-7.6-5.5-6.7-5.4-5.7-5.3-4.6-5.3-3.7-5.6-3-5.2-1.8-5.1-1-5.4-0.2-5.3 0.7-5.5 1.5-5.7 2.3-6.1 3.1-9.1 5.1M600.3 112.2l19.4-33.1 4.8-7.6 4.5-6.3 4.7-5.8 4.8-4.6 4.7-3.5 2.5-1.4 2.5-1.1 2.8-0.9 3.1-0.7 3-0.2 3 0.2 3 0.6 3 0.9 3 1.2 2.9 1.6 2.6 1.9 2.6 2.2 2.6 2.5 2.5 3 2.6 3.3 2.4 3.8 4.6 8.3M639.1 106.9l-5.2-8.6-5.5-8.2-5.2-6.8-5.4-6.3-5.4-5.3-5.4-4.4-5.3-3.5-5.6-2.8-5.2-1.8-5.1-1-5.1-0.3-5.3 0.6-5.2 1.2-5.7 2-6 2.6-10.1 5M598.4 108.3l19.7-31.8 4.8-7.2 4.5-6 4.4-5.2 4.8-4.4 4.7-3.4 2.5-1.4 2.5-1.2 2.8-0.9 3-0.7 3.1-0.3 3 0.1 3.3 0.4 3 0.8 3 1 2.9 1.5 2.6 1.6 2.6 2 2.6 2.4 2.6 2.7 2.5 3.1 2.2 3.1 4.6 7.7M641 102l-5.2-8.1-5.2-7.2-5.1-6.4-5.5-5.9-5.4-5-5.4-4.2-5.6-3.5-5.6-2.6-5.2-1.6-5.1-1-5.1-0.3-5 0.5-4.9 1-5.5 1.7-17 6.8M596.5 104.5l5.2-7.6 15.1-23.3 4.8-6.8 4.2-5.3 4.4-4.9 4.8-4.2 4.7-3.3 5-2.4 2.7-1 3.1-0.7 3.1-0.3 3 0 3.3 0.3 3 0.6 3 0.9 2.9 1.3 2.6 1.5 2.7 1.8 2.5 2.1 2.6 2.5 2.5 2.9 2.2 2.8 4.4 6.8M643 97.3l-4.9-7.2-5.2-6.8-5.2-6-5.4-5.5-5.4-4.7-5.4-3.9-5.7-3.3-5.5-2.5-4.9-1.5-5.2-1-5.1-0.3-5 0.3-4.7 0.8-4.9 1.3-18.5 6.3M594.6 101l5.8-8.1 15.2-22 4.4-6 4.2-5 4.4-4.7 4.8-4 4.7-3.2 4.6-2.2 2.8-1 3.1-0.7 3.1-0.4 3-0.1 3.3 0.2 3 0.4 3 0.8 2.9 1.1 2.7 1.2 2.6 1.6 2.6 1.9 2.5 2.2 4.8 5.2 4.4 6.1M644.9 92.8l-4.9-6.7-5.2-6.4-5.2-5.6-5.4-5.1-5.4-4.4-5.4-3.6-5.3-2.9-5.6-2.4-4.9-1.4-5.2-1-4.8-0.3-5 0.2-4.1 0.6-4.7 1-14.7 4.4-5.2 1.3M592.6 97.6l6.2-8 15.5-21.2 4.5-5.6 3.8-4.4 4.4-4.5 4.5-3.6 4.7-3.1 4.6-2.2 2.8-1 3.1-0.8 3.1-0.4 3-0.2 3.3 0 3 0.4 3 0.6 2.9 0.9 2.7 1.1 2.6 1.4 2.6 1.6 2.6 2 4.8 4.6 4.4 5.5M646.8 88.5l-4.9-6.3-5.2-5.9-5.1-5.2-5.2-4.5-5.4-4.1-5.4-3.4-5.3-2.8-5.6-2.2-4.9-1.4-4.9-0.9-4.8-0.4-5 0.2-3.8 0.4-4.1 0.8-15.1 3.8-6.4 1.3M590.7 94.5l6.9-8.3 15.4-20.1 4.2-5 3.5-3.8 4.4-4.3 4.5-3.5 4.4-2.9 4.6-2.2 2.8-1 3.1-0.9 3.1-0.5 3-0.3 3-0.1 3.3 0.2 3 0.5 3 0.7 5.2 2.1 2.6 1.4 2.6 1.7 4.8 4 4.8 5.1M648.7 84.5l-4.9-5.9-5.2-5.5-5.1-4.9-5.2-4.2-5.1-3.6-5.3-3.2-5.4-2.6-5.6-2.1-4.6-1.2-4.8-0.9-4.9-0.4-4.7 0-7.1 0.8-16 3.5-7.3 1.1M588.8 91.6l7.2-8.1 16.1-19.9 7-7.7 4.1-3.8 4.5-3.4 4.4-2.8 4.6-2.2 5.9-1.9 5.8-0.9 6.3-0.1 3 0.3 3 0.6 2.9 0.8 2.7 1 5.2 2.6 4.8 3.5 4.7 4.5M650.7 80.8l-4.9-5.5-4.9-4.9-5.2-4.6-5.1-3.9-5.1-3.4-5.4-3-5.4-2.5-5.6-2-4.6-1.2-4.8-0.8-4.6-0.4-4.7-0.1-7.7 0.9-16.3 3-7 0.6M586.9 89l7.5-8 16.5-19.3 6.7-7 4.1-3.7 4.4-3.2 4.4-2.7 4.3-2 5.9-2 5.8-1 6.3-0.2 6 0.6 5.3 1.4 5.2 2.2 5.1 3.2 4.8 3.8M652.6 77.5l-4.9-5.2-4.9-4.6-4.9-4.1-5.1-3.7-5.1-3.2-5.4-2.9-5.3-2.3-5.6-1.9-4.7-1.2-4.5-0.7-4.6-0.5-4.8 0-7.3 0.6-16.7 2.7-3.9 0.3-3.7 0.1M585 86.6l6.9-6.9 16.4-18.4 7.4-7.5 4.1-3.5 4.1-3 4.4-2.6 4.3-2.1 5.9-2 5.8-1.1 6.1-0.5 5.9 0.4 5.6 1.1 5.3 1.8 5.1 2.6 5.1 3.5M654.5 74.6l-4.6-4.6-4.9-4.5-4.8-3.9-5.2-3.6-5.1-3-5.4-2.7-5.3-2.2-5.3-1.8-4.7-1.1-4.5-0.8-4.6-0.4-4.5-0.1-7.4 0.5-17 2.4-4.2 0.2-3.9-0.1M583.1 84.5l7.2-6.9 16.2-17.4 7.3-7.1 4.1-3.5 4.1-2.9 4.4-2.6 4.4-2 5.5-1.9 5.8-1.3 6.1-0.6 6 0.1 5.6 0.8 5.5 1.5 5.2 2.2 5.1 2.9M656.4 72.1l-4.6-4.5-4.5-4-4.9-3.8-4.8-3.2-5.2-3-5-2.5-5.4-2.1-5.6-1.8-4.6-1.1-4.6-0.8-4.6-0.5-4.5-0.1-7.4 0.3-17 2.2-4.6 0.1-4.2-0.2M581.3 82.6l7.2-6.6 16.4-17 7.3-6.9 3.8-3.1 4.1-2.8 4.1-2.4 4.4-2.1 5.5-2 5.9-1.3 6-0.8 6-0.1 5.6 0.6 5.6 1.1 5.4 1.9 5.1 2.4M658.3 70l-4.6-4.4-4.6-4-4.5-3.4-4.8-3.1-5.2-2.9-5-2.4-5.4-2.1-5.6-1.7-4.3-1-4.6-0.8-4.6-0.5-4.5-0.2-7.4 0.3-17.4 1.9-4.8 0.1-4.2-0.4M579.4 81l7.5-6.7 16.2-16.2 7-6.4 3.8-3 4.1-2.8 4-2.4 4.4-2.1 5.6-2 5.5-1.4 6.1-0.9 5.9-0.4 6 0.3 5.5 0.9 5.5 1.5 5.4 2M660.2 68.2l-4.3-4.1-4.5-3.9-4.6-3.3-4.8-3.2-4.8-2.6-5.1-2.3-5.4-2.1-5.6-1.7-4.7-1-4.6-0.8-4.5-0.5-4.5-0.2-7.5 0.2-17.6 1.7-4.9 0-4.2-0.4M577.6 79.6l7.5-6.5 16.1-15.7 7-6.3 3.8-2.9 4.1-2.8 4.1-2.3 4-2 5.6-2.1 5.5-1.4 5.8-1 6-0.5 5.6 0 5.9 0.6 5.8 1.1 5.7 1.7M662.1 66.9l-4.3-4.2-4.6-3.9-4.5-3.3-4.5-2.9-4.8-2.6-5.1-2.3-5.4-2-5.3-1.6-4.7-1.1-4.6-0.7-4.5-0.6-4.6-0.2-7.7 0.1-17.7 1.5-4.8 0-4.5-0.4M575.7 78.4l7.5-6.4 16.2-15.3 7-6.1 3.8-2.9 3.7-2.5 4.1-2.3 4.1-2 5.2-2 5.6-1.6 5.7-1.1 6-0.7 6-0.2 5.9 0.4 5.7 0.8 6.1 1.3M663.9 65.8l-4.2-4.2-4.2-3.7-4.3-3.1-4.5-3-4.8-2.6-4.8-2.2-5.4-2-5.6-1.7-4.7-1.1-4.6-0.8-4.6-0.5-4.8-0.3-8 0-17.8 1.4-4.8-0.1-4.5-0.4M573.9 77.4l7.2-6 16.1-15 7-6 3.8-2.9 3.8-2.5 4.1-2.3 4-2 5.3-2 5.5-1.7 5.8-1.2 5.7-0.8 5.9-0.3 5.9 0.1 6.1 0.5 6.3 0.9M665.8 65.2l-3.9-4.1-4.3-3.8-4.2-3.2-4.5-3-4.5-2.5-4.8-2.3-5.1-1.9-5.6-1.7-4.7-1.2-4.9-0.9-4.9-0.6-4.8-0.3-8.4 0-18 1.2-4.8 0-4.2-0.4M572.1 76.7l6.8-5.7 16.2-14.8 7-6 3.8-2.8 3.7-2.5 4.1-2.3 4.1-2 5.2-2.1 5.3-1.6 5.4-1.3 6.1-1 5.9-0.5 6.2-0.1 6.1 0.3 6.6 0.6M667.7 64.9l-4-4.2-3.9-3.7-4.2-3.4-4.2-2.9-4.5-2.6-4.8-2.3-5.1-2-5.6-1.8-5-1.2-4.9-0.9-4.9-0.6-5.2-0.4-8.3 0-18.3 1.1-4.6 0-4.2-0.4M570.2 76.1l6.6-5.4 15.8-14.4 7-5.9 3.8-2.8 4.1-2.8 4.1-2.3 4-2 5-2 5.2-1.7 5.5-1.4 5.7-1 6-0.7 6.2-0.3 6.4 0 7.2 0.3M669.5 64.9l-3.9-4.4-3.9-3.9-3.9-3.3-4.2-3-4.5-2.7-4.5-2.2-5.1-2.1-5.6-1.8-5-1.3-5.3-1-5.2-0.7-5.1-0.4-8.7 0-18.6 1-4.2 0-4-0.2M568.4 75.8l7.2-6.1 15.5-14 6.4-5.3 3.8-2.9 3.7-2.5 4.1-2.4 4.1-2 4.9-2.1 5.3-1.8 5.5-1.4 5.7-1.2 6-0.8 6.2-0.4 6.7-0.2 7.5 0.1M671.3 65.3l-3.9-4.7-3.9-4.1-3.9-3.5-4.2-3.1-4.5-2.8-4.4-2.3-5.1-2.1-5.4-1.7-5.3-1.4-5.2-1-5.2-0.8-5.5-0.4-8.9 0-18.6 1-7.6-0.2M566.6 75.6l6.6-5.6 14.8-13.5 7-5.8 4.1-3.1 3.8-2.5 4.1-2.4 4-2.1 5-2.2 5.2-1.8 5.2-1.4 5.8-1.2 5.9-0.9 6.3-0.6 6.7-0.4 8-0.2M673.1 66l-3.5-4.7-3.9-4.3-3.9-3.8-4.2-3.3-4.2-2.8-4.5-2.4-4.7-2.1-5.7-2-5.3-1.4-5.6-1.2-5.5-0.8-5.7-0.4-8.7-0.1-18.3 1-7.9 0M564.9 75.6l20-18.1 7.7-6.5 4.1-3.1 3.8-2.6 4-2.4 4.4-2.3 5-2.2 4.9-1.7 5.2-1.6 5.7-1.2 6-1 6.3-0.7 15.3-0.9M674.9 67l-3.5-5-3.9-4.7-3.9-3.9-3.8-3.3-4.2-3-4.5-2.6-4.8-2.2-5.6-2-5.7-1.6-5.5-1.2-5.8-0.9-6.1-0.5-9.8 0-17.7 1-6.8 0.2M563.1 75.8l18.7-17.3 8.3-7.1 4.1-3.1 4.1-2.8 4.1-2.5 4.4-2.3 5-2.2 4.9-1.9 5.2-1.5 5.7-1.4 6-1 6.2-0.8 15.7-1.1M676.7 68.4l-3.5-5.4-3.9-5-3.9-4.3-3.8-3.5-4.2-3.2-4.5-2.7-4.7-2.3-5.4-2-5.6-1.7-5.9-1.3-6.1-0.9-6.4-0.6-5.3-0.1-5.9 0.1-22.4 1.5M561.3 76.2l17.2-16.2 8.9-7.8 4.4-3.5 4.1-2.8 4.4-2.7 4.4-2.4 4.9-2.3 5.3-1.9 5.2-1.6 5.7-1.4 6-1.1 6.2-0.8 15.7-1.2M678.5 70l-3.5-5.8-3.6-5-3.5-4.3-3.9-3.9-4.1-3.4-4.2-2.8-4.4-2.4-5.4-2.2-5.9-2-5.9-1.4-6.2-1.1-6.6-0.7-6.3-0.1-6.8 0.1-19.3 1.6M587.3 36.8l-0.3 0M559.6 76.7l15.8-15.4 9.9-8.8 4.4-3.5 4.4-3.1 4.4-2.7 4.4-2.4 5-2.3 5.2-2 5.2-1.6 5.7-1.4 6-1.1 6.2-0.9 15.7-1.2M680.3 72l-3.2-5.8-3.6-5.5-3.5-4.6-3.5-3.9-3.9-3.6-4.1-3.1-4.5-2.6-4.7-2.3-6-2.2-5.9-1.7-6.1-1.2-6.4-0.8-6.6-0.3-7.1 0-7.6 0.5-8.9 1M593.9 36l-0.9 0.1M591.6 36.3l-0.8 0.1M557.9 77.3l14.1-14.3 9.9-9 4.5-3.7 4.4-3.3 4.1-2.6 4.3-2.6 5-2.4 4.9-2.1 5.2-1.8 5.2-1.4 5.7-1.3 6-1 6.5-0.7 7.3-0.6M646.1 30.4l2.9-0.1M682 74.2l-3.2-6.2-3.2-5.4-3.5-5.1-3.5-4.3-3.8-3.9-3.9-3.1-4.1-2.7-4.4-2.4-5.7-2.3-5.9-1.9-6.2-1.5-6.4-1-6.6-0.4-7.1-0.1-7.3 0.4-7.5 0.9M599.1 35.2l-0.9 0.2M596.8 35.6l-0.5 0.1M556.1 78.1l12.9-13.5 9.9-9.3 4.4-3.8 4.4-3.4 4.1-2.8 4.4-2.7 4.7-2.4 4.9-2.3 4.9-1.8 5.2-1.6 5.4-1.3 5.7-1.1 6-0.8 6.1-0.5M640.6 30.7l1.7-0.1M645.8 30.4l0.8 0M683.7 76.7l-2.8-6.1-3.2-5.9-3.2-5.1-3.5-4.7-3.5-4-3.8-3.6-3.8-2.8-4.5-2.7-5.3-2.5-5.9-2.2-5.9-1.6-6.1-1.1-6.7-0.7-6.8-0.3-7.1 0.3-7.3 0.7M603.8 34.5l-0.9 0.1M554.4 79l11.6-12.6 9.6-9.4 8.5-7.3 4.1-3 4.1-2.6 4.3-2.6 4.4-2.1 4.6-2 4.9-1.8 5.1-1.5 5.2-1.2 5.3-0.9 5.7-0.7M632.3 31.2l1.8-0.2M635.9 30.9l1.1-0.1M685.5 79.5l-2.9-6.6-3.1-6.3-3.2-5.5-3.2-4.7-3.5-4.4-3.5-3.5-3.8-3.2-3.8-2.6-5.4-2.8-5.6-2.4-5.9-1.8-5.8-1.3-6.4-0.9-6.6-0.4-6.8 0-6.7 0.6M608.7 33.8l-1.1 0.1M606.7 34l-0.6 0.1M605 34.3l-0.3 0.1M552.7 80l10.6-12 9.6-9.7 8.5-7.6 4.1-3.1 4.1-2.8 4.3-2.6 4.4-2.3 4.6-2.1 4.6-1.7 4.9-1.5 5.1-1.3 5.4-1.1 5.3-0.7M628.8 31.4l1.5-0.1M632 31.1l0.9 0M687.2 82.5l-2.9-7.1-2.8-6.2-3.1-6-3.2-5.1-3.5-4.7-3.5-3.9-3.8-3.5-3.8-2.8-4.7-2.7-5.6-2.6-5.6-2-5.9-1.6-6.1-1-6.6-0.5-6.8-0.1-6.4 0.5M612 33.3l-0.9 0.1M610 33.5l-0.3 0.1M551 81.2l10.3-12.1 9.2-9.7 8.5-7.8 4.1-3.3 4.1-2.8 4.3-2.8 4.4-2.3 4.3-2.1 4.6-1.8 4.9-1.6 5.1-1.4 5.1-1 5.1-0.7M625.9 31.7l0.8-0.1M628.8 31.4l0.3 0M688.8 85.7l-2.8-7.6-2.8-6.6-3.1-6.4-3.2-5.5-3.1-4.6-3.5-4.3-3.5-3.5-3.8-3.1-4.7-3-5.3-2.8-5.6-2.2-5.5-1.7-5.8-1.1-6.4-0.8-6.5-0.1-6.5 0.3M615.8 32.8l-1.1 0.1M549.3 82.4l9.6-11.7 8.9-9.8 4.4-4.4 4.1-3.7 4.1-3.4 3.8-2.8 4-2.7 4.4-2.6 4.3-2.2 4.3-1.8 4.6-1.7 4.5-1.3 4.9-1.2 5-0.8M620.8 32.2l0.9-0.1M623.5 31.9l0.3-0.1M690.5 89l-2.8-8-2.8-7.1-3.1-6.8-3.1-5.9-3.2-4.9-3.5-4.6-3.4-3.7-3.8-3.3-4.7-3.3-5.3-3-5.6-2.4-5.6-1.7-5.8-1.3-6.3-0.7-6.5-0.2-6.2 0.3M617 32.6l-0.3 0M547.7 83.8l9.2-11.8 8.9-10.2 8.2-8.1 4.1-3.5 4-3.1 4.1-2.8 4-2.5 4.3-2.2 4.3-2 4.6-1.7 4.6-1.4 4.8-1.1 4.8-0.9M618.8 32.4l0.6-0.1M692.2 92.5l-2.8-8.5-2.8-7.5-2.8-6.6-3.1-6.3-3.1-5.3-3.2-4.6-3.4-4.1-3.8-3.7-4.4-3.4-5.3-3.3-5.3-2.6-5.2-2-5.5-1.4-5.8-1-6.3-0.4-5.9 0.1M621.7 32.1l-0.9 0M546 85.2l8.9-11.8 8.5-10.2 8.2-8.4 4.1-3.7 3.8-3.1 4-2.9 4-2.6 4.1-2.2 4.3-2 4.3-1.7 4.2-1.4 4.5-1.2 4.8-1M614.6 32.9l0.6-0.1M693.8 96l-2.7-8.9-2.8-7.8-2.8-7-3.1-6.7-3.1-5.7-3.1-4.8-3.5-4.4-3.8-4-4.4-3.7-4.9-3.3-5.3-2.9-5.3-2.1-5.5-1.6-5.4-1-6-0.5-6.2 0.1M623.8 31.8l-0.3 0.1M544.4 86.7l8.8-12.2 8.2-10.2 7.9-8.4 4.1-3.9 3.7-3.2 3.7-2.8 4.1-2.7 4-2.4 4-2 4-1.6 4.3-1.5 4.5-1.3 4.5-0.9M611.1 33.4l0.6-0.1M695.4 99.7l-2.7-9.3-2.7-8.3-2.8-7.2-3.1-7.1-3.1-6-3.1-5.1-3.5-4.7-3.7-4.3-4.4-4-4.7-3.4-4.9-3-5.3-2.4-5.2-1.7-5.4-1.2-6.1-0.6-5.9 0M626.4 31.6l-0.3 0M542.7 88.3l8.5-12.3 8.2-10.5 7.9-8.8 3.7-3.7 3.8-3.4 3.7-2.9 3.7-2.7 3.7-2.2 4-2.2 4-1.7 4.3-1.6 4.3-1.3 4.5-1M607.6 33.9l0.9-0.1M609.4 33.6l0.3 0M697.1 103.3l-2.7-9.6-2.8-8.6-2.7-7.6-3.1-7.3-3.1-6.4-3.1-5.4-3.4-5-3.5-4.2-4.3-4.4-4.7-3.8-5-3.3-4.9-2.5-5.2-1.9-5.2-1.3-5.7-0.7-5.7-0.1M629.4 31.3l-0.3 0.1M541.1 89.9l8.8-13.1 8.2-10.8 7.8-9.1 3.7-3.8 3.5-3.2 3.7-3 3.7-2.7 3.7-2.3 4-2.2 4-1.7 4.3-1.6 4.2-1.2 4.5-0.9M606.1 34.1l0.3 0M698.7 107l-2.7-9.9-2.7-8.9-2.7-7.8-3.1-7.7-3.1-6.7-3.1-5.7-3.4-5.4-3.8-4.8-4-4.4-4.7-4.1-4.6-3.3-4.9-2.8-4.9-2-5.2-1.5-5.4-0.8-5.7-0.2M633.2 31.1l-1.2 0M539.5 91.6l8.8-13.5 8.1-11.3 7.5-9.1 6.8-7 3.4-2.9 3.5-2.6 3.7-2.5 3.7-2.1 3.7-1.8 3.9-1.6 4-1.2 4.2-1M601.4 34.9l0.6-0.1M602.9 34.6l0.3 0M700.3 110.7l-2.7-10.1-3-10.1-2.7-8-3.1-7.9-3-6.8-3.4-6.5-3.4-5.6-3.8-5-4.3-4.9-4.7-4.3-4.6-3.5-4.9-2.8-4.9-2.1-5.2-1.4-5.4-0.7-5.3-0.1M537.9 93.3l9-14.3 7.8-11.3 7.5-9.4 3.4-3.9 3.4-3.4 3.4-3.1 3.5-2.6 3.7-2.5 3.7-2.2 3.6-1.7 4-1.6 4-1.1 4.2-1M599.7 35.1l0.3 0M701.9 114.3l-2.7-10.3-2.7-9.2-2.7-8.4-3-8.2-3.1-7.3-3.3-6.9-3.4-5.9-3.4-5.1-4.1-5.1-4.3-4.5-4.3-3.8-4.6-3.2-4.6-2.4-4.9-1.8-4.8-1.1-5.1-0.4M536.3 95l9.3-15.2 7.8-11.6 7.1-9.4 6.5-7.3 3.1-2.9 3.4-2.8 3.4-2.4 3.7-2.3 3.7-1.8 3.7-1.5 3.9-1.2 4-0.9M596.5 35.6l0.6-0.1M703.4 117.8l-2.9-11.4-3-10.2-3-9.2-3-8.2-3.3-7.9-3.4-6.9-3.4-5.9-3.7-5.6-4.3-5.5-4.3-4.6-4.3-3.7-4.6-3.1-4.6-2.3-4.9-1.7-5.1-0.8-5.1-0.2M534.7 96.8l9.9-16.6 7.8-12 6.8-9.3 3.4-4.2 3.1-3.3 3-3 3.4-2.8 3.4-2.5 3.4-2 3.7-1.8 3.7-1.4 3.6-1.1 4-0.8M594.8 35.9l0.3-0.1M705 121.2l-2.9-11.3-3-10.3-2.9-9.3-3.1-8.4-3.3-8.2-3.3-7.2-3.4-6.4-3.7-6-4-5.5-4-4.7-4-3.9-4.3-3.4-4.3-2.6-4.5-1.9-4.6-1.1-4.7-0.5M533.1 98.6l10.5-18.1 7.4-11.9 6.8-9.7 3.1-3.9 3.1-3.5 3.1-3.1 3.4-2.9 3.3-2.5 3.4-2 3.4-1.6 3.7-1.4 3.6-1 4-0.7M592.8 36.2l0.3-0.1M706.6 124.5l-2.9-11.1-3.3-11.3-3.2-10.1-3.3-9.2-3.4-8.2-3.3-7.4-3.7-7-3.7-6.2-3.9-5.7-4-4.8-4-4-4.3-3.4-4.3-2.6-4.5-1.8-4.5-1-4.5-0.3M531.5 100.4l11.7-20.7 6.8-11.2 6.1-9.2 5.9-7.4 3.1-3.2 3-2.8 3.1-2.4 3.1-2 3.4-1.7 3.4-1.4 3.3-0.9 3.7-0.8M589 36.6l0.6 0M590.8 36.4l0.3 0M708.1 127.6l-3.2-11.9-3.5-11.9-3.3-10-3.5-10-3.7-9-3.6-8.1-3.6-7.1-4-6.7-4-5.8-4-4.8-3.9-3.9-4.3-3.3-4.3-2.4-4.2-1.5-4.5-0.8-4.5 0" fill="none" stroke="#000" stroke-width="0.55"/></g>
<path d="M620.1 155.9l6.1-14.9 15.1-39.8 3.9-9.2 3.5-7.5 4.2-7.5 1.9-2.8 2.2-2.8 1.9-2 2.2-1.9 2.2-1.4 2.2-0.8 2.2-0.4 2.1 0.1 2.1 0.5 2.4 1.2 2.1 1.4 2.4 2.2 2.1 2.4 2.3 3.2 3.7 6.1 3.9 7.6 13.4 29.9 5.5 11M619.4 155.8l-9-21.4-5.9-13.3-5.5-11.5-4.8-9.2-4.7-7.9-4.5-5.9-4.3-4.6-2.2-1.8-2.5-1.6-2.4-1.3-2.5-0.9-2.4-0.6-2.7-0.2-2.3 0.1-2.7 0.5-2.6 0.9-2.6 1.1-2.5 1.5-2.8 1.9-5.9 4.8-6.2 6.3-8.2 9.2M530.3 101.7l12.6-22.9 6.1-10.6 5.8-9 5.5-7.3 2.8-3 3.1-2.9 3-2.5 3.1-2 3.1-1.6 3.4-1.4 3.3-0.9 3.4-0.6M586.4 36.9l0.6-0.1M709.7 130.5l-3.5-12.4-3.5-11.6-3.6-10.8-3.6-10-3.6-9.2-3.6-8.3-3.6-7.5-3.3-6.1-3.7-5.8-3.7-4.9-3.6-4.1-3.7-3.3-3.6-2.6-4-2-3.9-1.2-4.2-0.5" fill="none" stroke="#000" stroke-width="0.8"/>
<text x="527.5" y="146.6" font-size="7" text-anchor="end" font-weight="bold">55</text>
<text x="526.9" y="131" font-size="7" text-anchor="end" font-weight="bold">60</text>
<text x="526.2" y="115.2" font-size="7" text-anchor="end" font-weight="bold">65</text>
<text x="525.6" y="99.2" font-size="7" text-anchor="end" font-weight="bold">70</text>
<text x="524.9" y="83" font-size="7" text-anchor="end" font-weight="bold">75</text>
<text x="524.3" y="66.6" font-size="7" text-anchor="end" font-weight="bold">80</text>
<text x="523.6" y="49.9" font-size="7" text-anchor="end" font-weight="bold">85</text>
<text x="522.9" y="33.1" font-size="7" text-anchor="end" font-weight="bold">90</text>
<text x="612.6" y="187.7" font-size="7" text-anchor="middle" font-weight="bold">10</text>
<text x="593.9" y="179" font-size="7" text-anchor="middle" font-weight="bold">11</text>
<text x="575.8" y="170.7" font-size="7" text-anchor="middle" font-weight="bold">12</text>
<text x="558.2" y="162.6" font-size="7" text-anchor="middle" font-weight="bold">13</text>
<text x="541.1" y="154.8" font-size="7" text-anchor="middle" font-weight="bold">14</text>
<text x="626.8" y="191.8" font-size="7" text-anchor="middle" font-weight="bold">40</text>
<text x="642.8" y="184.5" font-size="7" text-anchor="middle" font-weight="bold">50</text>
<text x="658.3" y="177.4" font-size="7" text-anchor="middle" font-weight="bold">60</text>
<text x="673.5" y="170.4" font-size="7" text-anchor="middle" font-weight="bold">70</text>
<text x="688.2" y="163.7" font-size="7" text-anchor="middle" font-weight="bold">80</text>
<text x="702.6" y="157.1" font-size="7" text-anchor="middle" font-weight="bold">90</text>
<text x="716.6" y="150.7" font-size="7" text-anchor="middle" font-weight="bold">100</text>
<rect x="650.8" y="90.8" width="33.2" height="58" fill="#fff" stroke="#9a9a9a" stroke-width="0.7"/>
<rect x="654.1" y="96.3" width="13" height="3.6" fill="#14147a" stroke="#333" stroke-width="0.4"/>
<text x="669.9" y="99.7" font-size="4.8" font-weight="bold" fill="#222">50</text>
<rect x="654.1" y="102.5" width="13" height="3.6" fill="#0a0a9a" stroke="#333" stroke-width="0.4"/>
<text x="669.9" y="105.9" font-size="4.8" font-weight="bold" fill="#222">60</text>
<rect x="654.1" y="108.8" width="13" height="3.6" fill="#0a0aff" stroke="#333" stroke-width="0.4"/>
<text x="669.9" y="112.2" font-size="4.8" font-weight="bold" fill="#222">70</text>
<rect x="654.1" y="115" width="13" height="3.6" fill="#007a50" stroke="#333" stroke-width="0.4"/>
<text x="669.9" y="118.4" font-size="4.8" font-weight="bold" fill="#222">80</text>
<rect x="654.1" y="121.3" width="13" height="3.6" fill="#44dd00" stroke="#333" stroke-width="0.4"/>
<text x="669.9" y="124.7" font-size="4.8" font-weight="bold" fill="#222">90</text>
<rect x="654.1" y="127.5" width="13" height="3.6" fill="#ffff00" stroke="#333" stroke-width="0.4"/>
<text x="669.9" y="131" font-size="4.8" font-weight="bold" fill="#222">100</text>
<rect x="654.1" y="134.1" width="13" height="3.6" fill="#ffa000" stroke="#333" stroke-width="0.4"/>
<text x="669.9" y="138.7" font-size="7" fill="#444">85</text>
<rect x="654.1" y="140.7" width="13" height="3.6" fill="#ff5000" stroke="#333" stroke-width="0.4"/>
<text x="669.9" y="145.2" font-size="7" fill="#444">90</text>
<text x="513" y="88.5" font-size="11.5" font-weight="bold" text-anchor="middle" textLength="104.7" lengthAdjust="spacingAndGlyphs" transform="rotate(-90 513 88.5)">Biodiesel yield., (%)</text>
<text x="567" y="184.3" font-size="10" font-weight="bold" text-anchor="middle" textLength="82" lengthAdjust="spacingAndGlyphs" transform="rotate(25 567 184.3)">Methanol/oil ratio</text>
<text x="679" y="181.8" font-size="10" font-weight="bold" text-anchor="middle" textLength="53" lengthAdjust="spacingAndGlyphs" transform="rotate(-26 679 181.8)">Time (min)</text>
<text x="538.4" y="46.1" font-size="14.8" font-weight="bold">(C)</text></g>
<g><path d="M37.1 361.3L32.8 247.8M56 353.9L52.6 241.9M74.3 346.7L71.7 236.2M92.1 339.8L90.3 230.6M109.3 333L108.2 225.2M126.1 326.4L125.7 220M37.1 361.3L126.1 326.4M36.3 339.4L126 305.8M35.4 317.1L125.9 284.9M34.6 294.4L125.9 263.6M33.7 271.3L125.8 242M32.8 247.8L125.7 220M214.6 361.3L218 247.5M195.8 353.9L198.3 241.7M177.6 346.7L179.3 236M159.9 339.7L160.9 230.5M142.7 333L143 225.2M126.1 326.4L125.7 220M214.6 361.3L126.1 326.4M215.3 339.3L126 305.8M215.9 316.9L125.9 284.9M216.6 294.2L125.9 263.6M217.3 271.1L125.8 242M218 247.5L125.7 220M122.5 403.4L214.6 361.3M103.6 394.7L195.8 353.9M85.4 386.2L177.6 346.7M67.8 378L159.9 339.7M50.7 370.1L142.7 333M34.2 362.4L126.1 326.4M128.3 403.4L37.1 361.3M147.3 394.7L56 353.9M165.7 386.2L74.3 346.7M183.5 378L92.1 339.8M200.8 370.1L109.3 333M217.5 362.4L126.1 326.4M37.1 361.3L34.2 362.4M36.3 339.4L33.4 340.5M35.4 317.1L32.5 318.1M34.6 294.4L31.6 295.4M33.7 271.3L30.7 272.2M32.8 247.8L29.8 248.7" fill="none" stroke="#8a8a8a" stroke-width="0.75"/>
<defs><path id="sD" d="M125.4 368.9l-7-2-13-4.7-32-13.5-19.8-10.3-10.2-6.2-7.5-5.3 14.2-38.3 6.7-15.5 5-9.7 6.3-9.9 6.4-6.9 5.1-3.5 5-2 3.3-0.6 5.5 0.3 19 6.1 35.7 8.4 8.8 3.8 6.8 4.3 7.7 6.1 7.5 7.3 7.6 8.6 6.7 8.7 5.7 9 6 11.5 4.8 11 3.7 10.3 0.5 2.1-7.7-14.9-5-7-5.8-6.1-5.8-4.2-6.5-3-5-1-2.2 0-3 0.8-4.5 2.2-4.5 3.5-7.3 8.2-7.5 11.9-16.4 29.5-7.3 11z"/><clipPath id="cD"><use href="#sD"/></clipPath></defs>
<use href="#sD" fill="#0a0ae6"/>
<g clip-path="url(#cD)"><path d="M191.4 421.9l-191.3 0 0-210.8 241.8 0 0.1 115.3-0.4 3.6-26.5 8.9-21.5 9.2-14.6 6.8-0.1 11.7 2.2 16.8 2.8 12.3 7.6 25.7-0.1 0.5z" fill="#007070" fill-rule="evenodd"/><path d="M179.1 373.7l-41.7-24.1-15.3-5.2-38-14.6-44.5-14.5-39.2-14.6-0.4-4.1 0.1-85.5 241.8 0 0.1 78.8-0.4 3.8-37.2 18.9-0.8 0.9-0.5 2.4 0.2 2 1 2.5-0.4 1.1-24.1 16.1-0.5 2.3-0.5 13.2 0.3 20.6z" fill="#66dd00" fill-rule="evenodd"/><path d="M178.9 335.1l-29.5-21.1-4.3-2.5-4.5-2-11.4-3.4-26.3-6.4-52.5-10.4-49.8-19.8-0.6-4.1 0.1-54.3 241.8 0 0.1 17-0.4 6.4-54 46.4-5.8 6.2-4 5.8-1 4 1.4 3 1.6 1.2 6.1 1.7 2.1 1.3-2.4-0.3-1.5 0.6-2.7 6.1-3 8.9-0.3 2 0.9 8.2-0.1 5.5z" fill="#ffe000" fill-rule="evenodd"/><path d="M91.4 262.4l-28.5-0.3-12.3-6.5-50.1-28.7-0.5-5.8 0.1-10 127-0.1 9.8 0.4-7.7 37.5 0.3 2 2.8 1.2 1.3 1.3 0.1 1-0.5 1-2.1 1.5-2.9 1.2-9.1 2.2-11.7 1.3-16 0.8z" fill="#ff6400" fill-rule="evenodd"/></g>
<g opacity="0.7"><path d="M123.3 368.5l3.2-4.9 3.9-6.4 16.7-29.3 4.1-6.5 3.5-4.9 4.7-5.5 2.5-2.4 2.5-2 2.5-1.7 2.4-1.3 2.5-0.9 2.4-0.6M174.8 302l0.9-0.2M177.5 301.7l2.1 0.1 2.4 0.4 2.4 0.7 2.3 0.9 4.6 2.7 4.6 3.8 4.4 4.8 4.4 5.7 4.3 6.8 4.4 8.3M127.2 366.4l-36.7-15.1-9.6-4.3-8.2-3.9-8.5-4.4-8.6-4.9-8.8-5.5-9.2-6.3M121.4 367.9l5.8-9.6 16.7-28.9 5.1-7.9 4.4-5.9 2.5-2.9 2.8-2.8 2.8-2.4 2.8-2 2.8-1.5 2.7-1.1 2.7-0.7 2.8-0.4M178.5 301.9l0.9 0.1M180 302.1l3.9 0.9 3.7 1.7 3.8 2.2 3.7 2.9M195.9 310.5l1.7 1.6M202 317l4.9 6.4 4.7 7.5M129.1 363.5l-12.8-6-29.3-12.6-13.6-6.6-7.9-4.3-8.1-4.8-8.5-5.6-9.5-6.6M119.5 367.2l16-27.9 5.5-9.1 6-9.1 5.4-6.8 2.8-3 3.1-2.8 3.1-2.3 3.1-1.8 3-1.4 3.4-0.9 3-0.4 3.3 0M182.2 302.6l0.3 0M184.5 303.3l0.3 0.2M186.3 304.1l0.3 0.1M188 304.9l0.6 0.3M198.4 312.7l5.8 6.1 5.6 7.3M131.1 360.4l-5.8-3.1-6.4-3.1-29.1-12.8-7.8-3.6-7.1-3.7-7.6-4.3-7.8-4.8-8.5-5.8-9.8-7.1M117.5 366.6l13.9-24.4 7-11.7 7-10.3 3.1-4 3.2-3.5 3.4-3.2 3.4-2.7 3.4-2.2 3.4-1.6 3.3-1 3.6-0.7 3.6 0 3.9 0.4M194.3 308.6l3.4 2.6 3.3 3 3.5 3.5 3.5 3.9M133 357.2l-6.1-3.4-6.4-3.3-29.1-12.9-7.8-3.8-7.1-3.8-7.6-4.4-7.8-5.1-8.6-6.1-9.6-7.2M115.6 365.9l12.6-22.5 8.6-14.2 3.8-5.6 3.8-5.1 3.8-4.4 3.4-3.5 3.7-3.1 4-2.7 4-2 4-1.3 3.9-0.7 4.2-0.1 4.1 0.5 4.4 1.2M184.4 302.6l0.9 0.4M187.6 303.9l4.5 2.5 4.5 2.9 4.7 3.7 4.9 4.4M135 353.9l-6.2-3.6-6.4-3.2-29.1-13.2-7.8-3.8-7.1-3.9-7.7-4.6-8.1-5.4-8.5-6.4-9.4-7.4M113.7 365.3l7.7-14.3 6.4-11.3 5.8-9.3 5.1-7.4 4.7-6.2 4.7-5.1 4.7-4.1 4.9-3.4 5.2-2.4 2.7-0.9 2.8-0.6 2.6-0.3 2.7-0.1 2.7 0.2 2.9 0.4 5.8 1.6 6 2.7 6.4 3.7 6.9 5M136.9 350.5l-5.8-3.4-6.1-3.1-29.5-13.4-8.2-4.1-7.1-3.9-7.9-4.9-8.1-5.7-8.6-6.7-9.1-7.6M111.8 364.6l7.1-13.4 6.1-10.8 5.7-9.3 5.1-7.5 5-6.6 4.7-5.2 4.7-4.2 5-3.5 5.2-2.6 2.7-1 2.7-0.7 5.4-0.8 5.6 0.2 5.8 1.2 6 2 6.5 3.1 7.4 4.3M138.8 347l-6.1-3.4-7.1-3.5-21.2-9.6-8.3-3.9-7.2-3.7-6.5-3.7-8.2-5.2-8.5-6.1-8.6-7-8.8-7.8M109.9 363.9l6.4-12.4 5.8-10.3 5.4-9 5.4-8 5.1-6.7 4.7-5.3 5-4.6 4.9-3.6 5.2-2.9 5.5-2 5.4-1 5.6-0.1 5.8 0.7 6.4 1.6 6.7 2.5 7.5 3.5M140.7 343.4l-11.9-6-29-13.1-8.1-4.2-7.1-4.1-8.6-5.5-8.4-6.3-8.6-7.3-8.9-8.3M108 363.2l5.8-11.3 5.8-10.5 5.4-9 5.4-8.1 5-6.7 5.1-5.7 4.9-4.7 5-3.7 5.2-3 5.5-2.1 5.4-1.3 5.6-0.4 5.9 0.3 6.3 1.2 6.8 2 7.8 2.9M142.7 339.9l-9.7-4.6-28.8-12.9-9.1-4.7-8.4-4.7-8.8-5.9-8.8-6.7-8.6-7.6-8.6-8.5M106.2 362.4l5.7-11.4 5.5-9.9 5.4-9 5.4-8.1 5-6.7 5-5.8 5-4.7 5-3.8 5.2-3.1 5.2-2.3 5.7-1.5 5.6-0.7 5.9 0 6.3 0.7 6.8 1.5 8.1 2.4M144.6 336.4l-23.7-10.2-12.1-5.5-10.6-5.3-9.3-5.4-9.2-6.2-9-7.1-8.7-8-8.3-8.7M104.3 361.7l5.4-10.9 5.5-10 5.4-9.1 5-7.6 5.1-6.8 5-5.9 5-4.8 5-4 5.2-3.3 5.2-2.4 5.7-1.9 5.6-1 5.9-0.3 6.4 0.4 7.1 1.1 8.4 1.9M146.5 333l-16.4-6.5-15.4-6.7-12.5-6.2-10.9-6.2-5-3.3-4.7-3.4-9.1-7.3-8.6-8.2-8.4-9.2M102.4 361l5.5-11 5.1-9.4 5.4-9.2 5-7.7 5.1-6.8 5-5.9 5-5 5-4 5.2-3.5 5.5-2.7 5.4-1.9 5.9-1.3 5.9-0.5 6.4 0.1 7.1 0.7 8.4 1.5M148.4 329.6l-6.5-2.1-6.7-2.5-14.3-5.9-15-7.3-6.4-3.5-5.7-3.4-5-3.3-5.1-3.7-4.6-3.6-4.7-4.1-4.4-4.1-4.3-4.4-4.3-4.8-4-4.8M100.6 360.2l5.4-11 5.1-9.5 5.1-8.6 5-7.8 5.1-6.8 5-6 5-5 5.3-4.4 5.2-3.6 5.5-2.8 5.4-2 6-1.5 6.1-0.8 6.4-0.1 6.9 0.4 8.4 1.1M150.3 326.3l-5.8-1.5-5.8-1.8-6.4-2.4-7-2.9-8.4-3.9-7.9-4-6.7-3.7-6.3-3.8-5.4-3.5-5-3.7-4.7-3.8-4.7-4.1-4.3-4.2-4.4-4.6-4.3-4.9-4-5.1M98.7 359.5l5.1-10.4 5.1-9.6 5.1-8.7 5-7.8 5.1-7 5-6 5-5.2 5.3-4.5 5.2-3.6 5.5-3 5.7-2.3 6-1.7 6.2-1 6.4-0.3 7.1 0.2 8.2 0.8M152.2 323.2l-5.5-1.1-5.5-1.5-5.8-2-6.3-2.5-8.1-3.7-8.6-4.3-7.3-4-6.7-4-5.3-3.6-5.3-3.9-5-4.1-4.7-4.2-4.4-4.3-4.3-4.7-4.4-5.1-4-5.3M96.9 358.8l5.1-10.5 5-9.6 5.1-8.7 5.1-7.9 5-6.9 5-6.1 5-5.2 5.3-4.6 5.2-3.7 5.5-3.1 5.7-2.4 6-1.9 6.2-1.1 6.7-0.6 7.1 0 7.9 0.6M154.1 320.2l-5.2-0.7-5.2-1.2-5.4-1.6-6-2.4-7.6-3.3-9.2-4.6-7.7-4.2-6.9-4.2-5.7-3.8-5.3-4-5-4.1-4.7-4.2-4.6-4.7-4.4-4.8-4.3-5.3-4.1-5.4M95 358l5.1-10.5 5.1-9.6 5.1-8.8 5-7.8 5-7 5.1-6.1 4.9-5.2 5.3-4.7 5.6-4 5.4-3.2 5.8-2.5 5.9-1.9 6.2-1.3 6.7-0.8 7.2-0.2 7.6 0.4M156 317.4l-4.9-0.3-4.8-0.9-5.5-1.5-5.7-2.1-7.2-3.2-9.3-4.6-8-4.4-6.9-4.2-6-4.1-5.6-4.2-5.1-4.1-4.9-4.5-4.7-4.8-4.4-4.9-4.3-5.4-4-5.6M93.2 357.3l5.1-10.6 5-9.6 5.1-8.8 5.1-7.9 5-7 5-6.1 5-5.3 5.2-4.7 5.6-4.1 5.5-3.3 5.7-2.6 6-2.1 6.5-1.6 6.7-0.9 6.8-0.3 7.6 0.3M157.9 314.9l-4.6-0.1-4.8-0.7-5.2-1.3-5.7-2-6.9-3-9.3-4.7-8-4.4-7.3-4.4-6-4.1-5.6-4.2-5.3-4.3-5-4.6-4.7-4.8-4.6-5.3-4.4-5.5-4-5.6M91.4 356.5l5-10.6 5.1-9.7 5.1-8.7 5-8 5-7 5-6.2 5-5.3 5.3-4.8 5.5-4.1 5.5-3.4 5.7-2.8 6.3-2.3 6.5-1.7 6.7-1 6.9-0.5 7.3 0.2M159.8 312.5l-4.6 0.2-4.8-0.5-5.2-1.2-5.4-1.9-6.6-2.9-9.1-4.6-8.2-4.6-7.3-4.5-6.3-4.2-5.9-4.5-5.4-4.4-4.9-4.6-4.7-4.9-4.7-5.3-4.3-5.5-4.1-5.8M89.6 355.7l4.7-9.9 5.1-9.8 5-8.9 5-8 5.1-7.1 5-6.2 5.3-5.8 5.2-4.8 5.6-4.3 5.4-3.4 6.1-3.1 6.3-2.4 6.4-1.7 6.7-1.2 6.9-0.6 7.1 0.1M161.7 310.4l-4.6 0.4-4.5-0.4-4.9-1-5.4-1.8-6.3-2.7-8.4-4.3-8.7-4.8-7.5-4.7-6.4-4.3-6.2-4.7-5.6-4.7-5-4.6-4.7-4.8-4.6-5.3-4.4-5.5-4.3-6.1M87.7 355l4.8-10 5-9.8 5.1-8.9 5-8 5-7.2 5-6.3 5.3-5.8 5.3-4.9 5.5-4.3 5.5-3.6 6-3.1 6.3-2.5 6.5-2 6.7-1.3 6.9-0.6 7.1-0.1M163.6 308.6l-4.6 0.4-4.6-0.2-4.8-1-5.1-1.7-6-2.6-7.5-3.8-9-5.1-7.9-4.8-6.6-4.6-6.3-4.7-5.6-4.6-5.3-4.8-4.9-5.1-4.7-5.3-4.3-5.6-4.4-6M85.9 354.2l4.8-10 5-9.9 5-8.9 5.1-8 5-7.2 5-6.4 5.3-5.8 5.2-5 5.6-4.4 5.8-3.8 6-3.2 6.3-2.6 6.5-2 6.7-1.4 6.8-0.7 6.8-0.1M165.5 307l-4.3 0.5-4.6-0.2-4.8-0.9-5.1-1.6-5.7-2.5-6.9-3.6-9-5.1-8.2-5.1-7-4.7-6.2-4.7-5.9-4.9-5.3-4.8-5-5.1-4.7-5.2-4.6-5.8-4.3-6M84.1 353.4l4.8-10 5-9.9 5-9 5-8.1 5.1-7.2 5-6.4 5.2-5.9 5.3-5 5.5-4.5 5.8-3.9 6.1-3.3 6.2-2.7 6.5-2.1 6.7-1.5 6.9-0.8 6.8-0.1M167.3 305.5l-4.3 0.7-4.2-0.1-4.5-0.8-5.2-1.6-5.3-2.3-6.3-3.3-9.3-5.3-8.3-5.2-6.9-4.7-6.6-4.9-5.9-4.9-5.6-5-5-4.9-4.9-5.5-4.7-5.7-4.6-6.3M82.3 352.7l4.8-10.2 5-9.9 5-9 5-8.1 5-7.3 5-6.4 5.3-5.9 5.3-5.1 5.5-4.6 5.8-4 6-3.3 6.6-2.9 6.5-2.2 6.7-1.5 6.6-0.9 6.8-0.2M169.2 304.4l-4.3 0.6-4.3-0.1-4.5-0.8-4.8-1.5-5.1-2.2-5.6-3-9.3-5.4-8.3-5.2-7.3-4.9-6.6-4.9-6.2-5.1-5.6-4.9-5.3-5.2-4.9-5.4-4.9-5.9-4.7-6.1M80.6 351.9l4.7-10.2 5-10 5-9 5-8.2 5-7.3 5-6.4 5.3-6 5.2-5.2 5.6-4.6 5.7-4 6.1-3.5 6.6-3 6.5-2.2 6.7-1.6 6.6-0.9 6.8-0.2M171 303.4l-3.9 0.6-4.3 0-4.5-0.8-4.8-1.6-4.8-2-5.3-2.9-8.8-5.1-8.2-5.3-7.3-4.9-6.9-5.1-6.6-5.3-5.9-5.1-5.2-5.1-5.3-5.5-4.9-5.8-4.9-6.3M78.8 351.1l4.7-10.2 5-10 5-9.1 5-8.2 5-7.4 5.3-6.9 5.3-6 5.2-5.1 5.8-4.9 5.8-4 6.1-3.5 6.5-3 6.5-2.2 6.4-1.5 6.7-0.9 6.5-0.2M172.9 302.6l-4 0.6-4.3-0.1-4.2-0.7-4.5-1.5-4.4-1.9-5.4-2.9-7.8-4.7-8.3-5.3-7.6-5.1-7.2-5.3-6.8-5.5-6.2-5.3-5.6-5.2-5.5-5.7-5-5.6-4.9-6.1M77 350.3l4.7-10.3 5-10.1 5-9.1 5-8.2 5-7.4 5.3-7 5.3-6 5.2-5.2 5.8-5 5.8-4 6-3.6 6.6-3 6.5-2.3 6.4-1.5 6.6-0.9 6.6-0.2M174.7 302l-4 0.6-3.9-0.1-4.2-0.8-4.2-1.3-4.4-2-4.8-2.6-14.9-9.3-7.9-5.4-7.6-5.5-7.1-5.6-6.5-5.5-6.2-5.6-5.5-5.5-5.2-5.7-5.2-6.1M75.2 349.5l4.7-10.4 5-10.1 5-9.2 5-8.3 5-7.4 5.3-7 5.2-6.1 5.3-5.2 5.8-5 5.8-4.2 6-3.5 6.6-3.1 6.5-2.3 6.4-1.6 6.6-0.9 6.6-0.1M174.2 302.1l-3.6 0-3.9-0.5-3.9-1-4.2-1.6-4.1-2.1-4.7-2.7-15.5-10.1-14.5-10.5-6.9-5.4-6.2-5.2-5.9-5.3-5.5-5.4-5.2-5.4-5.2-5.9M73.4 348.7l4.7-10.4 5-10.2 5-9.3 5-8.3 5-7.5 5.3-7 5.2-6.2 5.6-5.6 5.8-5 5.8-4.1 6-3.6 6.6-3.1 6.5-2.2 6.4-1.6 6.3-0.8 6.6 0M178.3 301.5l-1.3 0.2M175.7 301.8l-3.3 0-3.6-0.5-3.9-1.1-3.8-1.6-4.1-2.1-4.4-2.6-13.7-9.1-15.5-11.1-13.4-10.7-6.2-5.4-5.8-5.4-5.8-5.7-5.5-5.8M71.7 347.8l4.6-10.4 5-10.3 5-9.3 5-8.4 5-7.5 5.3-7.1 5.2-6.2 5.6-5.6 5.8-5.1 5.8-4.2 6-3.6 6.6-3.1 6.5-2.2 6.4-1.6 6.3-0.7 6.6 0M180.1 301.5l-2.3 0.3M175.8 301.8l-3.2-0.4-3.3-0.8-3.5-1.2-3.8-1.8-7.9-4.6-12.8-8.7-15.2-11.1-13.1-10.4-12.6-10.9-11.8-11.4M69.9 347l4.7-10.6 5-10.3 4.9-9.3 5.3-9 5-7.5 5.3-7.1 5.2-6.2 5.6-5.6 5.8-5.1 5.8-4.1 6-3.6 6.6-3.1 6.5-2.2 6.4-1.4 6.3-0.7 6.3 0.1M181.9 301.7l-3.3 0.2M177 301.7l-2.6-0.4-3-0.8-5.7-2.3-6.7-3.8-8.5-5.8-17.5-12.6-14.1-10.9-13.8-11.5-14.7-13.1M68.2 346.1l4.6-10.6 5-10.4 5-9.4 5.3-9 4.9-7.6 5.3-7.1 5.3-6.3 5.5-5.7 5.8-5 6.1-4.4 6.3-3.7 6.3-2.9 6.2-2.1 6.4-1.3 6.3-0.6 6.3 0.2M183.7 302.1l-3.6-0.1M177.4 301.6l-4.5-1.3-5.1-2.3-5.4-3.1-6.6-4.5-17.9-13.1-13.6-10.4-11.5-9.2-20.6-17M66.4 345.3l4.7-10.8 4.9-10.4 5-9.5 5-8.6 5.2-8.1 5.3-7.2 5.3-6.3 5.5-5.7 5.8-5.1 6.1-4.4 6.3-3.7 6.3-2.8 6.2-2.1 6.4-1.3 6.4-0.5 6.2 0.4M185.5 302.7l-4-0.3M180.9 302.2l-0.7-0.1M178.3 301.6l-4.3-1.5-4.1-2.1-4.5-2.6-5.3-3.7-28-21.1-27.7-21.9-10.3-7.7M64.7 344.4l4.6-10.8 5-10.6 4.9-9.6 5.3-9.1 5.3-8.2 5.2-7.1 5.3-6.3 5.5-5.7 5.8-5.1 5.8-4.1 6.3-3.7 6.3-2.8 6.2-2 6.4-1.2 6.4-0.4 6.2 0.5M187.2 303.4l-4.9-0.8M179.4 301.7l-3.6-1.5-3.5-1.9-3.8-2.4-4.1-2.8-53.6-41.3-8.1-5.9-6.8-4.5M63 343.5l4.6-10.9 4.9-10.7 5-9.6 5.2-9.3 5.3-8.2 5.3-7.2 5.2-6.3 5.5-5.7 5.9-5.1 6-4.4 6.4-3.6 6.2-2.7 6.2-1.8 6.4-1.1 6.1-0.2 6.3 0.7M189 304.3l-4.9-1.1M180.2 301.6l-6.1-3.3-7-4.8-29.3-23-24-18.4-8.7-5.9-7.4-4.2M61.2 342.6l4.6-11 5-10.8 4.9-9.7 5.3-9.4 5.2-8.2 5.3-7.3 5.5-6.7 5.6-5.7 5.8-5 5.8-4.1 6.3-3.6 6.2-2.6 6.2-1.8 6.5-0.9 6 0 6.3 0.8M190.7 305.4l-2.9-0.8-3.3-1.3M181.6 301.9l-5.4-3.2-6.1-4.4-27.2-21.9-23.5-18.1-5.6-3.8-5.2-3.3-4.5-2.5-4.6-2M59.5 341.7l4.9-11.9 4.9-10.8 5-9.8 5.2-9.3 5.3-8.3 5.2-7.3 5.3-6.3 5.5-5.7 5.8-5 6.1-4.3 6-3.3 6.3-2.5 6.2-1.7 6.4-0.7 6.1 0.1 6.2 1M192.4 306.6l-4.9-1.9M186.6 304.2l-0.4-0.2M183 302.2l-4.5-2.9-5-3.8-26.7-22.1-11.4-9-11-8.3-6.5-4.4-5.7-3.6-5.2-2.5-4.8-1.9M57.8 340.7l4.9-11.9 4.9-10.9 4.9-9.9 5.3-9.5 5.2-8.3 5.3-7.4 5.5-6.7 5.5-5.6 5.8-5 6.1-4.1 6-3.2 6.3-2.4 6.2-1.5 6.1-0.5 6.1 0.3 6.3 1.3M194.1 308l-5.8-2.9M184.4 302.6l-4.4-3.2-4.8-3.8-16.5-14.4-9.8-8.2-9.1-7.2-8.9-6.8-7.4-5.2-6.1-3.8-5.5-2.8-5.1-1.9M56.1 339.8l4.8-12.1 4.9-11 5-10 5.2-9.6 5.3-8.4 5.2-7.4 5.2-6.4 5.6-5.7 5.8-5 5.7-4 6.1-3.1 6.2-2.4 6.3-1.4 6.1-0.4 6.1 0.4 6 1.4M195.8 309.6l-5.1-3.1M185.8 303.1l-8.2-6.8-15-13.6-8.3-7.2-8.8-7.2-9-7-8.9-6.3-6.7-4.2-6-3-5.5-1.7M54.3 338.8l4.6-11.5 4.9-11.2 4.6-9.6 4.9-9.2 5-8.2 4.9-7.3 5.2-6.8 5.3-5.7 5.5-5 5.5-4.1 5.7-3.3 5.7-2.4 6-1.7 5.9-0.7 5.8 0.1 5.7 0.9M140.1 253.3l0.6 0.1M197.5 311.3l-4.8-3.4M187.9 304.1l-7-6.2-14.7-13.8-6.7-6.1-8.6-7.3-8.4-6.7-9.5-7-7.4-4.7-6.4-3.3-2.9-1-2.8-0.8M52.6 337.8l4.6-11.6 4.9-11.3 4.6-9.7 4.9-9.4 4.9-8.3 5-7.4 4.9-6.4 5.2-5.8 5.2-4.8 5.5-4.1 5.4-3.1 5.8-2.4 5.6-1.6 5.9-0.7 5.9 0.2 5.8 1M199.2 313.2l-3.5-2.9M195 309.8l-0.3-0.3M189.9 305.2l-25.9-25.1-8.6-7.6-8.5-6.9-9.8-7.3-8-5.2-6.4-3.2-2.9-1.1-2.8-0.8M50.9 336.8l4.6-11.7 4.6-10.8 4.5-9.9 5-9.5 4.6-8 4.9-7.6 4.6-6.2 4.9-5.7 4.9-4.7 5.2-4.1 5.5-3.3 5.4-2.4 5.7-1.7 5.6-0.8 5.6 0.1 5.5 0.9M132.9 251.6l0.6 0.1M200.9 315.3l-3.9-3.7M191.9 306.5l-16.6-17.2-7.4-7.4-8.3-7.6-8.5-7.2-9.6-7.3-8.9-5.8-3.5-2-3.2-1.4-2.9-1.1-2.8-0.7M49.2 335.8l4.6-11.8 4.5-10.9 4.6-10.1 4.6-9.1 4.6-8.2 4.6-7.3 4.6-6.3 4.6-5.5 5-4.9 4.8-3.9 5.2-3.3 5.2-2.4 5.4-1.6 5.3-0.8 5.3-0.1 5.6 0.8M128.3 250.6l0.3 0M202.5 317.5l-2.2-2.5M195.5 309.7l-13.5-15-9.3-9.9-8.6-8.4-8.5-7.5-9.7-7.5-9.2-6.2-3.5-2-3.5-1.7-3.2-1.2-2.9-0.8M123.1 249.4l-0.3 0M47.5 334.8l4.6-12 4.5-11 4.6-10.2 4.6-9.3 4.6-8.3 4.6-7.4 4.6-6.4 4.6-5.5 4.9-4.8 4.9-3.9 4.9-3 5.1-2.2 5.1-1.4 5.4-0.7 5.3 0.2 5.6 1.1M204.1 319.9l-2.8-3.6M198.4 312.7l-10.6-13-10-11.3-9.2-9.5-8.9-8.2-9.6-7.8-4.8-3.5-4.7-3.1-3.9-2.2-3.5-1.8-3.2-1.2-3.2-0.9M45.9 333.7l4.5-12 4.5-11.2 4.6-10.4 4.2-8.8 4.6-8.6 4.3-7.1 4.3-6.2 4.3-5.3 4.6-4.8 4.6-3.8 4.9-3.2 4.9-2.3 5.1-1.5 5.1-0.6 5 0.1 5.3 0.9M205.5 322l-1.6-2.3M203.3 318.8l-9.5-13-9.3-11.6-9.6-10.8-9.5-9.4-5.2-4.6-4.8-4-4.8-3.7-4.8-3.2-4.4-2.8-4.1-2.2-3.5-1.5-3.5-1M129.7 250.9l-0.3-0.1M44.2 332.6l4.5-12.1 4.5-11.3 4.6-10.5 4.2-9.1 4.3-8.1 4.3-7.3 4-6 4.3-5.5 4.3-4.5 4.3-3.8 4.5-3 4.6-2.3 4.8-1.5 4.9-0.6 5 0 5.1 0.9M117 248l0.6 0.2M206.8 324.1l-8.5-13.3-4.4-6.2-4.6-6.2-9.3-11.3-4.9-5.3-5.2-5.3-5.2-4.9-5.2-4.5-5.1-4-4.7-3.4-4.8-3-4.4-2.4-3.8-1.6-3.8-1.1M42.5 331.6l4.5-12.3 4.5-11.5 4.5-10.7 4.3-9.2 4.3-8.3 3.9-7 4.3-6.5 4-5.2 4.3-4.6 4.3-3.6 4.3-2.9 4.6-2.1 4.8-1.4 4.8-0.4 4.8 0.3 5.1 1.1M209 328.1l-3.8-7-4-6.9-4-6.4-4.1-6-4.3-5.8-4.6-5.9-5-5.7-4.9-5.2-5.2-5.2-5.1-4.7-5.1-4.3-4.8-3.6-5.1-3.3-5-2.8-4.1-1.9-3.8-1.1M40.8 330.5l4.8-13.1 4.5-11.6 4.5-10.9 4.3-9.3 4.2-8.5 4-7 4-6.2 3.7-4.8 4-4.4 4.3-3.7 4.2-2.8 4.3-1.9 4.6-1.2 4.5-0.4 4.8 0.4 4.8 1.2M210.6 331.1l-3.4-7.1-3.7-7.1-3.7-6.5-3.8-6-4-5.9-4.3-5.8-4.3-5.4-4.9-5.5-5.2-5.5-5.2-5-5.1-4.5-5.1-3.9-5.4-3.7-5-2.9-4.4-2-3.8-1.2M138.7 252.9l-0.3 0M39.1 329.3l9.3-24.9 4.2-10.4 4.3-9.6 3.9-8.1 4-7.4 3.6-5.9 3.7-5.1 4-4.6 4-3.6 4-2.7 4.3-2 4.2-1.2 4.3-0.3 4.5 0.4 4.8 1.2M212.1 334.4l-3-7.2-3.4-7.3-3.4-6.6-3.7-6.6-3.7-5.9-4-5.8-4-5.2-4.6-5.6-5.5-6-5.2-5.2-5.1-4.7-5.1-4.1-5.4-3.8-5.1-3-4.7-2.3-4.1-1.3M37.5 328.2l9.8-26.7 4.2-10.5 3.9-9.1 4-8.3 3.6-6.9 3.7-6.1 3.4-4.7 3.6-4.3 4-3.7 4-2.7 4-1.9 4-1 4.3-0.2 4.5 0.5 4.5 1.4M213.7 337.8l-3-8-3.1-7.3-3.3-7.2-3.4-6.5-3.4-5.9-3.7-5.7-4-5.6-4.3-5.5-5.2-5.9-5.5-5.8-5.4-5.1-5.1-4.2-5.4-3.9-5.1-3-5-2.4-4.4-1.4" fill="none" stroke="#000" stroke-width="0.55"/></g>
<path d="M125.2 369.1l3.3-4.6 3.9-6.2 16.7-29.8 3.8-6.3 3.5-5.2 4.1-5.2 4.3-4.3 4.4-3.1 2.1-1.2 2.2-0.8M174.1 302.2l0.6-0.2M176.8 301.6l3.6 0 3.9 0.7 3.5 1.4 3.8 2.3 3.7 3 3.3 3.6 3.6 4.5 3.3 4.9M208.2 326.6l3.4 6.7 3.4 7.4M125.2 369.1l-10.8-3.6-12.6-4.8-16.5-6.7-12.7-5.8-9.9-4.9-9.2-5-9-5.5-8.7-5.8M35.8 327l10.1-27.7 4.2-10.7 3.9-9.2 3.7-7.9 3.6-7.1 3.7-6.2 3.3-4.9 3.7-4.2 3.7-3.4 4-2.6 4-1.7 4-0.8 4.2 0 4.3 0.9 4.5 1.7M214.9 340.4l-2.7-7.9-3-7.9-3-7.2-3.1-6.4-3.3-6.3-3.4-5.7-3.7-5.5-4-5.3-5.2-6.2-5.4-6-5.5-5.3-5.1-4.4-5.1-3.8-5.1-3.2-5-2.5-4.4-1.5" fill="none" stroke="#000" stroke-width="0.8"/>
<text x="33" y="364.9" font-size="7" text-anchor="end" font-weight="bold">50</text>
<text x="32.2" y="343" font-size="7" text-anchor="end" font-weight="bold">60</text>
<text x="31.3" y="320.6" font-size="7" text-anchor="end" font-weight="bold">70</text>
<text x="30.4" y="297.9" font-size="7" text-anchor="end" font-weight="bold">80</text>
<text x="29.5" y="274.7" font-size="7" text-anchor="end" font-weight="bold">90</text>
<text x="28.6" y="251.2" font-size="7" text-anchor="end" font-weight="bold">100</text>
<text x="118.1" y="406.6" font-size="7" text-anchor="middle" font-weight="bold">50</text>
<text x="99.3" y="397.8" font-size="7" text-anchor="middle" font-weight="bold">60</text>
<text x="81.1" y="389.3" font-size="7" text-anchor="middle" font-weight="bold">70</text>
<text x="63.6" y="381.1" font-size="7" text-anchor="middle" font-weight="bold">80</text>
<text x="46.6" y="373.2" font-size="7" text-anchor="middle" font-weight="bold">90</text>
<text x="132.3" y="410.8" font-size="7" text-anchor="middle" font-weight="bold">1.5</text>
<text x="151.5" y="401.9" font-size="7" text-anchor="middle" font-weight="bold">2.0</text>
<text x="170" y="393.3" font-size="7" text-anchor="middle" font-weight="bold">2.5</text>
<text x="187.9" y="384.9" font-size="7" text-anchor="middle" font-weight="bold">3.0</text>
<text x="205.2" y="376.9" font-size="7" text-anchor="middle" font-weight="bold">3.5</text>
<text x="222" y="369" font-size="7" text-anchor="middle" font-weight="bold">4.0</text>
<rect x="160.7" y="318.5" width="30.5" height="43.8" fill="#fff" stroke="#9a9a9a" stroke-width="0.7"/>
<rect x="164.9" y="323.2" width="11" height="3.9" fill="#0a0a80" stroke="#333" stroke-width="0.4"/>
<text x="178" y="326.9" font-size="5" font-weight="bold" fill="#222">50</text>
<rect x="164.9" y="329.3" width="11" height="3.9" fill="#0a0ae6" stroke="#333" stroke-width="0.4"/>
<text x="178" y="333" font-size="5" font-weight="bold" fill="#222">60</text>
<rect x="164.9" y="335.4" width="11" height="3.9" fill="#007070" stroke="#333" stroke-width="0.4"/>
<text x="178" y="339.1" font-size="5" font-weight="bold" fill="#222">70</text>
<rect x="164.9" y="341.5" width="11" height="3.9" fill="#66dd00" stroke="#333" stroke-width="0.4"/>
<text x="178" y="345.2" font-size="5" font-weight="bold" fill="#222">80</text>
<rect x="164.9" y="347.6" width="11" height="3.9" fill="#ffe000" stroke="#333" stroke-width="0.4"/>
<text x="178" y="351.3" font-size="5" font-weight="bold" fill="#222">90</text>
<rect x="164.9" y="353.7" width="11" height="3.9" fill="#ff6400" stroke="#333" stroke-width="0.4"/>
<text x="178" y="357.4" font-size="5" font-weight="bold" fill="#222">100</text>
<text x="11.8" y="307.4" font-size="11.5" font-weight="bold" text-anchor="middle" textLength="104.7" lengthAdjust="spacingAndGlyphs" transform="rotate(-90 11.8 307.4)">Biodiesel yield., (%)</text>
<text x="69.5" y="403.7" font-size="10" font-weight="bold" text-anchor="middle" textLength="83" lengthAdjust="spacingAndGlyphs" transform="rotate(25 69.5 403.7)">Temperature (°C)</text>
<text x="184.5" y="400.7" font-size="10" font-weight="bold" text-anchor="middle" textLength="75" lengthAdjust="spacingAndGlyphs" transform="rotate(-26 184.5 400.7)">Loading (wt., %)</text>
<text x="37" y="261.5" font-size="14.8" font-weight="bold">(D)</text></g>
<g><path d="M285.2 361.4L281.3 248M304.1 354L301 242M322.5 346.8L320.2 236.3M340.3 339.8L338.8 230.7M357.6 333L356.8 225.3M374.4 326.4L374.3 220M285.2 361.4L374.4 326.4M284.4 339.5L374.4 305.8M283.7 317.2L374.3 284.8M282.9 294.5L374.3 263.5M282.1 271.4L374.3 241.9M281.3 248L374.3 220M463.3 361.2L466.9 247.7M444.4 353.8L447.2 241.8M426.1 346.6L428.1 236.1M408.4 339.7L409.6 230.6M391.1 333L391.7 225.2M374.4 326.4L374.3 220M463.3 361.2L374.4 326.4M464 339.2L374.4 305.8M464.7 316.9L374.3 284.8M465.4 294.2L374.3 263.5M466.1 271.2L374.3 241.9M466.9 247.7L374.3 220M371.1 403.3L463.3 361.2M352.2 394.6L444.4 353.8M333.9 386.2L426.1 346.6M316.1 378.1L408.4 339.7M298.9 370.2L391.1 333M282.3 362.6L374.4 326.4M376.9 403.3L285.2 361.4M395.9 394.6L304.1 354M414.3 386.1L322.5 346.8M432.2 377.9L340.3 339.8M449.4 370L357.6 333M466.2 362.3L374.4 326.4M285.2 361.4L282.3 362.6M284.4 339.5L281.5 340.6M283.7 317.2L280.7 318.2M282.9 294.5L279.9 295.5M282.1 271.4L279.1 272.4M281.3 248L278.3 248.9" fill="none" stroke="#8a8a8a" stroke-width="0.75"/>
<defs><path id="sE" d="M374.1 382.3l-0.8-1.2-15.6-39.5-10.5-22.5-3.8-6.5-4.4-6.2-4.6-4.9-3.3-2.4-4.5-2-5.7-0.6-5.5 1.1-5 2.2-6 4.5-4.6 4.6-6.2 7.6-6.1 8.9 8.2-19.5 12.6-33 6.5-14 2.8-4.8 4.7-6.5 5.2-5 5.4-2.8 5.2-0.8 5.3 1.1 18.7 9.8 13.3 5.3 31 11.1 5.5 2.8 4.6 3 9.2 8.3 10.4 12.6 9.3 13.9 17.7 28.5-17.5-16.6-4.6-3.9-6.6-4.6-4.5-2.2-6-1.6-5.3 0.3-5.5 2.3-4 2.9-4 4.3-4.8 6.8-5 8.8-8.7 18.7-12.5 31.7z"/><clipPath id="cE"><use href="#sE"/></clipPath></defs>
<use href="#sE" fill="#0a0ae6"/>
<g clip-path="url(#cE)"><path d="M483.6 422l-32.2 0-11-20.3-56.8-21.3-7.7-2.6-3-0.1-6.3 1.9-66.7 26.4-0.8 0.6-9.2 15.3-47.8 0 0-210.8 241.8 0 0.1 210-0.4 0.9z" fill="#007070" fill-rule="evenodd"/><path d="M316.4 367.7l-0.5-0.6 1.8-9 1-8.2 0.5-9-0.6-2.4-27-18.1-0.2-1 0.8-4.5-0.6-1-49.4-20.8-0.1-82 241.8 0 0.1 72.5-0.4 5.8-35 21.8-0.1 0.9 1.4 5.8 0 5.2-13.5 13.7-10.1 10.8 0.2 3.5 2.9 15.3-0.3 0.6-30.3-13.4-10.7-4.2-6.7-0.9-8.3-0.3-12.8 1.2-43.9 18.3z" fill="#66dd00" fill-rule="evenodd"/><path d="M320.1 335l-0.5-0.5 0.9-13.1-14.2-18-0.1-0.8 1.2-3-0.2-3-1.8-4.5-2.8-4.1-60.2-24.4-0.4-1.2 0.1-51.3 241.8 0-0.3 19.3-37.4 34-19.7 17 0.5 9-1.9 11.5 1.1 3 3.3 3.5-6.7 17.5 0.6 7.5-0.7 0-6.3-4.5-13-10-3.5-1.6-5.5-1.8-6.3-1.2-14.7-0.9-10.5 0.9-8.5 2.3-34.3 18.4z" fill="#ffe000" fill-rule="evenodd"/><path d="M344.9 264.6l-8 0.2-7.8-0.4-7.5-1.1-7.7-1.9-71-35.4-0.5-0.5-0.4-2.9 0.1-11.5 135.8-0.1 4.9 0.4-15.4 39.8 0 0.7 3.2 3 0.3 1.2-0.6 1.3-3.2 2.4-5.7 2.2-7.8 1.7-8.7 0.9z" fill="#ff6400" fill-rule="evenodd"/></g>
<g opacity="0.7"><path d="M372.1 377.8l6.4-15.9 5.8-13.3 5.5-11.4 4.8-8.9 4.8-7.5 4.4-5.6 2.3-2.3 2.1-1.9 2.2-1.6 2.5-1.4 2.5-1 2.4-0.7 2.5-0.3 2.7 0.1 2.7 0.4 2.6 0.7 2.7 1 2.9 1.4 6.3 3.9 6.5 5 7.2 6.6 8.3 8.7M376 377.5l-12.3-28.8-7.8-16.8-3.5-7-3.5-6.3-3.2-5.1-3.2-4.4-3.4-4-3.4-3.2-3.4-2.4-3.7-1.8-3.7-0.9-3.5-0.3-3.9 0.5-3.8 1.2M313.1 298.5l-3.7 1.8-3.4 2.3-3.7 3.1-3.3 3.3-3.5 4.2-3.2 4.5-3.2 4.9-3.1 5.5M370.1 372.9l6.8-15.4 5.8-12.3 5.2-9.9 5.1-8.8 4.8-6.9 4.4-5.3 2.2-2.1 2.5-2.1 2.2-1.4 2.5-1.3 2.4-1 2.8-0.7 2.7-0.3 2.7 0 2.7 0.3 3 0.7 2.9 1 3.2 1.4 3.2 1.6 3.4 2.2 6.5 4.8 6.5 6.1 6.7 7.4M377.9 372.4l-10.7-23.1-6.7-13.8-6.4-11.9-5.8-9.1-2.8-3.9-2.8-3.3-2.9-2.9-2.8-2.3-2.7-1.9-3.1-1.7-2.7-1-3.1-0.7M318.9 296.7l-0.3 0M317.7 296.9l-4.4 1.1-4 1.8-3.9 2.4-3.7 3-3.5 3.7-3.5 4.4-3.5 5.1-3.4 6M368.2 367.9l6.8-14.1 5.8-11.3 5.4-9.7 5.2-8.1 4.7-6.4 4.8-5.2 2.2-2 2.5-1.9 2.1-1.3 2.5-1.3 2.8-1 2.7-0.7 2.7-0.4 3 0 3 0.3 3 0.6 3.2 1 3.5 1.4 3.2 1.5 3.1 1.8 3.1 2.1 3.1 2.4 6 5.6 5.9 6.7M379.8 367.4l-9.3-18.7-6.2-11.6-5.7-10.2-5.1-8.1-5.1-6.9-4.7-5.3-5-4.4-2.4-1.7-2.5-1.4-3-1.3-3.1-1-3-0.5-2.9-0.3-3.3 0.2-3.2 0.5-3.2 0.9-2.8 1.2-2.9 1.6-2.5 1.7-2.5 2.1-2.5 2.5-2.4 2.9-2.4 3.3-4.4 7.5M366.2 363l7.2-13.5 6.1-10.8 5.4-8.8 5.1-7.4 4.8-5.9 4.7-4.7 4.7-3.6 2.5-1.5 2.5-1.2 2.7-1 3.1-0.7 3-0.4 3 0 3.3 0.3 3.2 0.6 3.5 1 3.2 1.2 3.2 1.4 2.8 1.6 3.1 2 2.8 2.2 5.4 5.1 5.1 6.1M381.8 362.4l-9.4-16.9-6.4-11.2-5.8-9.2-5.4-7.9-5.1-6.3-4.7-4.9-4.9-4.1-5.2-3.2-3.1-1.3-3-1-3-0.7-3.3-0.4-3.2-0.1-3.2 0.3-3.2 0.7-2.9 0.9-2.5 1.2-2.5 1.6-2.5 1.9-2.2 2.1-2.5 2.7-2.1 2.8-4.2 6.8M364.3 358l7.8-13.1 6.1-9.8 5.8-8.5 5.1-6.6 4.7-5.4 4.7-4.3 4.7-3.3 4.9-2.5 2.8-0.9 3-0.7 3.1-0.4 3.3-0.1 3.2 0.2 3.3 0.4 3.5 0.9 3.1 1 2.9 1.2 2.9 1.4 2.8 1.8 2.7 2 2.8 2.4 2.5 2.5 4.8 5.8M383.7 357.6l-9.7-15.9-6.4-10.1-5.8-8.4-5.4-7.2-5-5.8-5-4.9-5.3-4.1-5.2-3.1-3-1.4-3.3-1.2-3-0.7-3.3-0.6-3.2-0.2-3.2 0-2.9 0.4-2.9 0.7-2.6 1.1-2.2 1.2-2.5 1.7-2.2 1.9-2.2 2.2-2.1 2.6-4 6M362.4 353.2l9-13.6 6.1-8.8 5.8-7.6 5.1-6 4.7-4.8 4.7-3.9 4.7-3 4.9-2.2 3.1-1 3-0.7 3-0.4 3.3-0.1 3.3 0.1 3.5 0.4 3.2 0.7 3.2 0.9 2.8 1.2 2.6 1.3 2.5 1.5 2.5 1.8 2.5 2.1 2.5 2.4 4.5 5.5M385.7 352.9l-10.7-15.7-6.4-9.1-5.8-7.6-5.4-6.5-5-5.3-5.3-4.7-5.2-3.9-5.2-3-3.1-1.4-3.3-1.2-6.2-1.6-3.3-0.4-2.9-0.2-2.9 0.2-2.6 0.5-2.5 0.8-2.3 1-2.2 1.3-2.2 1.6-2.2 2-1.9 2.1-4 5.4M360.4 348.4l17.1-22.3 5.5-6.4 4.7-5.1 4.8-4.3 4.6-3.6 4.7-2.7 4.9-2.1 3.1-0.9 3-0.7 3-0.4 3.3-0.2 3.2 0 3.6 0.4 3.2 0.5 2.8 0.8 5.2 2.1 2.5 1.5 2.5 1.7 4.7 4.2 4.3 5.1M387.6 348.4l-18.1-23.5-5.7-6.9-5.4-5.9-5-4.9-5.3-4.4-5.2-3.7-5.5-3.2-6.3-2.7-6.6-1.9-2.9-0.5-2.9-0.3-2.6 0-2.6 0.3-2.3 0.5-2.3 0.8-2.2 1.1-1.9 1.2-2.2 1.8-1.9 1.8-3.8 4.6M358.5 343.6l19.7-22.4 4.8-5 4.4-4.3 4.4-3.7 4.7-3.2 4.6-2.6 4.9-1.9 6.1-1.6 3.3-0.5 3.3-0.2 6.4 0.2 2.9 0.4 2.9 0.7 4.9 1.9 2.5 1.4 2.2 1.5 4.4 3.8 4.3 4.9M389.5 344l-19.6-22.8-5.4-5.9-5.1-5.1-5.3-4.8-5.3-4.2-5.2-3.5-5.5-3.1-6.3-2.8-6.5-2.2-5.6-1.1-2.6-0.1-2.3 0.1-4.3 0.8-2.2 0.8-2 1-3.8 2.8-3.8 3.9M356.5 339.1l7.2-6.8 16.1-16.4 7.6-6.8 4.3-3.3 4.7-2.9 4.6-2.3 4.6-1.7 6.1-1.5 6.5-0.8 6.2 0.1 2.9 0.4 2.6 0.6 4.8 1.8 4.5 2.6 4.2 3.5 4 4.5M391.5 339.8l-22.6-23.4-9.1-8.7-5.3-4.4-5.3-3.9-5.2-3.4-5.5-3.1-6.3-2.9-6.2-2.3-5.3-1.2-4.6-0.4-4.3 0.4-3.9 1.3-3.9 2.2-3.5 3M354.6 334.6l3.9-2.8 4.3-3.5 17-15.7 7.5-6.2 4.4-3 4.3-2.4 4.6-2.2 4.6-1.6 6.4-1.5 6.2-0.7 5.6 0 5.2 0.8 4.5 1.6 4.5 2.4 4.2 3.3 3.8 4.1M393.4 335.8l-8.1-7.2-18.2-17.3-7.3-6.3-4.9-3.9-5.3-3.7-5.2-3.3-5.4-3-6.3-3-6-2.4-4.9-1.4-4.4-0.6-4 0-3.9 0.8-3.6 1.5-3.6 2.3M352.7 330.3l4.6-2.5 5.2-3.7 5.1-4.2 12.8-10.9 7.2-5.3 4.4-2.7 4.3-2.2 4.3-1.8 4.5-1.6 6-1.3 6.3-0.8 5.2 0 5 0.7 4.2 1.4 4.3 2.2 3.8 2.9 3.8 3.8M395.3 332l-4.6-3.4-4.8-3.9-18.5-16.1-7.8-6.4-9.9-6.9-5.2-3.3-5.1-2.8-6-3-5.6-2.4-4.7-1.6-4.1-0.9-4-0.4-4 0.3-3.6 0.9-3.3 1.5M350.7 326.2l2.7-0.9 2.6-1.2 5.9-3.5 5.4-4 13.4-10.6 7.2-4.9 4-2.3 4.3-2 4.3-1.7 4.5-1.4 5.7-1.3 6-0.7 4.9-0.1 4.7 0.6 4.2 1.3 4 1.9 3.9 2.8 3.5 3.3M397.2 328.4l-5.5-3.4-5.8-4.3-19.4-15.7-8.1-6.1-9.2-6.3-9.7-5.6-6-3.1-5-2.3-4.4-1.7-4.1-1.2-3.7-0.6-3.7-0.2-3.4 0.3-3.3 0.8M348.8 322.3l2.7-0.5 2.9-0.9 3.3-1.5 3.2-1.8 5.8-3.9 14-10.4 3.7-2.5 4.1-2.4 4-2 4.3-1.9 3.9-1.4 4.3-1.3 5.6-1.2 5.4-0.6 4.6-0.1 4.4 0.5 4 1.1 3.9 1.8 3.6 2.4 3.6 3.1M399.2 325.1l-5.3-2.7-5.5-3.5-6.1-4.3-15.2-11.8-7.7-5.7-9.9-6.5-10.2-6.1-10.1-5.2-4.1-1.7-3.8-1.4-3.7-1-3.4-0.6-3.4-0.2-3.1 0.1M346.9 318.7l2.6-0.2 2.7-0.5 2.9-0.9 3-1.3 6.1-3.5 14.6-10.4 7.2-4.4 4.6-2.4 4.6-2 4.9-1.7 4.8-1.4 5.3-1.1 5.1-0.6 4.3-0.1 4.1 0.5 4 1 3.6 1.6 3.6 2.1 3.3 2.7M401.1 322l-6.3-2.7-6.7-3.9-6.1-4.2-14.2-10.6-8.4-6-10.4-6.7-10.5-6.2-8.9-4.8-7.3-3.3-6.6-2.2-6.2-1.2M345 315.3l3 0.2 2.9-0.3 3.3-0.9 3.3-1.3 6.1-3.3 14.2-9.7 7.5-4.4 4.6-2.3 4.9-2 4.9-1.7 4.8-1.3 5-1.1 4.8-0.5 4-0.1 4.1 0.4 3.7 0.8 3.7 1.4 3.3 1.9 3.3 2.4M403 319.2l-3.3-1-3.6-1.5-3.9-1.9-3.9-2.3-6-4-14.2-10.3-9-6.2-10.6-6.8-11.4-6.9-7.4-4.1-6.6-3.4-6.1-2.6-5.7-2.1M343.1 312.1l3 0.6 3.3-0.1 3.2-0.6 3.6-1.2 2.9-1.4 3.5-2 14-9.1 8.1-4.6 4.9-2.3 4.9-2 4.8-1.6 4.8-1.3 4.8-0.9 4.4-0.6 4 0 3.8 0.3 3.7 0.8 3.4 1.2 3.3 1.7 3.1 2M404.9 316.7l-3.6-0.9-3.6-1.3-3.9-1.8-4.2-2.3-7-4.5-19.4-13.6-14-9.1-19.6-11.9-16.4-9.1M341.2 309.3l3.3 0.9 3.3 0.1 3.6-0.5 3.6-1.2 2.9-1.2 3.5-1.9 14.2-9.1 8.4-4.6 4.9-2.2 4.9-1.9 4.8-1.6 5.1-1.3 4.5-0.9 4.1-0.5 3.8-0.1 3.7 0.3 3.4 0.7 3.4 1.1 3.1 1.4 3.1 1.8M406.8 314.4l-4-0.7-4.2-1.4-4.5-2.1-5.2-2.8-5.7-3.7-23-15.8-33.1-21.2-12.1-8M339.3 306.8l3.3 1.1 3.7 0.3 3.6-0.4 3.8-1.1 2.9-1.3 3.3-1.6 14.5-9.1 8.7-4.6 4.9-2.2 5.2-2 4.8-1.5 5.1-1.3 4.1-0.8 3.8-0.4 3.8-0.1 3.4 0.2 3.5 0.6 3.1 0.8 3.1 1.3 3 1.6M408.7 312.5l-4.6-0.7-4.9-1.6-5.2-2.4-5.8-3.3-22.5-15.2-31.5-20.9-9.3-6.6-8.1-6.4M337.4 304.5l3.3 1.3 3.7 0.5 3.9-0.3 3.9-1.1 2.9-1.2 3.5-1.8 14.2-8.6 9-4.7 4.9-2.2 5.2-2 5.1-1.6 5.1-1.3 3.8-0.7 3.8-0.5 3.5-0.1 3.5 0.2 3.4 0.5 3.1 0.8 3.1 1.1 2.8 1.4M410.5 310.9l-4.9-0.7-5.5-1.8-5.8-2.8-6.4-3.7-40-26.8-9.8-6.7-10.5-8-9-7.9M335.5 302.6l3.7 1.5 3.6 0.5 4-0.3 3.9-1 2.9-1.2 3.5-1.7 14.2-8.5 9.3-4.9 5.2-2.2 5.1-2 5.2-1.6 4.7-1.2 3.9-0.7 3.8-0.5 3.5-0.1 3.1 0.1 3.2 0.4 3.1 0.7 3.1 1 2.8 1.2M412.4 309.5l-2.6-0.2-2.7-0.5-2.9-0.8-2.9-1.1-6.1-3-7.3-4.4-33.6-22.5-13.7-9.6-5.6-4.2-5.3-4.4-4.6-4.2-4.6-4.7M333.6 300.9l3.7 1.6 3.7 0.6 3.9-0.2 3.9-1 2.9-1.1 3.5-1.8 14.9-8.7 9.2-4.8 5.2-2.2 4.9-1.9 5.1-1.6 4.8-1.2 7.3-1.2 3.5-0.2 3.2 0 3.1 0.3 3.2 0.7 3.1 0.9 2.8 1.1M414.3 308.5l-3-0.4-3-0.6-2.9-0.9-3.2-1.2-6.8-3.4-8.2-5.1-29.6-19.9-14.9-10.6-5.6-4.4-5.2-4.6-5-4.8-4.6-5M331.8 299.5l3.7 1.6 3.6 0.6 4-0.2 4.2-1.1 2.9-1.1 3.5-1.7 14.5-8.6 9.6-4.9 5.2-2.2 4.8-1.9 4.9-1.5 4.7-1.3 7.4-1.2 3.5-0.3 3.2 0 3.1 0.3 3.1 0.5 3.1 0.8 2.8 1.1M416.1 307.6l-3.9-0.5-4-1.1-4.2-1.6-4.5-2.2-8.9-5.3-21.1-14.1-17.5-12.1-10.7-8.1-4.7-4-4.3-4.1-4.1-4.2-4-4.7M330.3 298.6l3.7 1.4 3.6 0.5 3.9-0.3 3.9-1 2.9-1.2 3.5-1.7 14.9-8.7 9.3-4.7 9.7-4 4.8-1.6 4.8-1.3 7.4-1.4 3.5-0.3 3.4 0 3.2 0.2 3.1 0.5 3.1 0.7 2.8 0.9M418 307l-4-0.6-4.2-1.3-4.6-1.8-4.8-2.4-9.2-5.7-24.4-16.4-14.7-10.5-9.8-7.7-4.4-3.9-4.1-4-4-4.3-3.8-4.5M329.4 298.1l3.4 1 3.6 0.3 3.9-0.5 3.9-1.2 6.1-2.8 14.2-8.3 9-4.7 9.8-4.1 4.8-1.6 4.5-1.3 7.6-1.6 3.5-0.3 3.5-0.1 3.5 0.1 3.1 0.4 3.1 0.7 3.1 0.9M419.8 306.7l-4.3-0.9-4.2-1.4-4.6-2-4.8-2.5-9.5-5.9-26.5-18-13.5-9.8-9.1-7.4-4.1-3.8-4.1-4.1-3.8-4.2-3.5-4.2M326.3 296.8l3.7 1.3 3.6 0.4 3.9-0.4 4.2-1.2 2.9-1.2 3.6-1.8 14.5-8.6 9.3-4.8 9.7-4.1 4.9-1.6 4.4-1.3 7.4-1.5 3.5-0.4 3.5-0.1 3.5 0.1 3.1 0.4 3.1 0.6 3.1 0.9M421.6 306.5l-4.3-1.1-4.2-1.5-4.5-2.1-5.1-2.8-9.9-6.2-28-19.2-12.2-9-8.9-7.4-4.1-3.8-3.8-3.9-6.9-8.2M324.4 296.4l3.7 1 3.7 0.3 3.9-0.6 3.9-1.1 2.9-1.3 3.5-1.7 14.8-8.9 9-4.7 9.5-4.1 4.8-1.6 4.5-1.3 7.7-1.6 7-0.6 3.4 0.1 3.2 0.3 3.4 0.7 3.1 0.8M423.4 306.5l-4.2-1.3-4.3-1.7-4.8-2.4-5.1-2.9-10.5-6.8-29.1-20.1-11.1-8.3-8.5-7.2-7.6-7.6-6.7-7.8M322.6 296.2l3 0.7M326.3 297l3 0 3-0.3 3.2-0.9 3.2-1.2 5.8-2.9 13.6-8.2 8.1-4.4 9.1-4.2 8.8-3.1 4.2-1.1 4.1-0.9 4.1-0.6 3.8-0.2 3.8 0 3.4 0.3 3.7 0.6 3.4 0.9M425.2 306.8l-4.2-1.6-4.3-1.9-4.8-2.6-5.1-3.1-7-4.5-18.3-12.6-16.1-11.4-10.1-7.6-8-6.8-7.3-7.2-6.6-7.8M320.8 296.2l2 0.3M323.5 296.6l0.7 0.1M325.5 296.7l2.6-0.2 3-0.6 2.9-1 2.9-1.2 5.5-2.9 13.2-8.2 8.1-4.5 8.9-4.1 8.8-3.2 4.5-1.2 4.1-0.9 4.1-0.6 4.1-0.3 3.8 0 3.7 0.3 3.7 0.7 3.4 0.9M427 307.2l-4.2-1.9-4.2-2.2-10-5.9-29.3-20.2-13.9-9.9-9.2-7.1-7.6-6.6-7-6.9-6.4-7.2M319.1 296.4l2.3 0.2M323.7 296.5l2.6-0.4 2.7-0.7 5.5-2.2 5.4-3 13.6-8.6 7.8-4.4 8.9-4.2 8.5-3.2 4.5-1.3 4.4-1 4.1-0.6 4.1-0.3 4.1 0 3.7 0.3 3.7 0.7 3.7 1M428.8 307.7l-8.1-4.4-9.7-6.1-33.2-23.3-12.7-9.1-8.5-6.7-7.1-6.1-6.4-6.2-6-6.7M317.3 296.8l3-0.2M321.6 296.4l4.9-1.3 5.5-2.4 5.5-3.1 13.3-8.6 7.7-4.5 9-4.4 8.5-3.3 4.5-1.3 4.4-1.1 4.4-0.7 4.1-0.3 4.1 0 4 0.4 4 0.8 3.7 1M430.6 308.4l-7.5-4.6-8.7-5.8-38.4-27.3-11.1-8.1-7.7-6-6.4-5.6-6.1-5.8-5.8-6.1M315.5 297.3l3-0.5M320.1 296.4l5.3-1.9 5.8-3 5.1-3.2 13.3-8.8 8.4-5 7.7-3.7 7.6-3 4.8-1.5 4.4-1 4.5-0.7 4.4-0.3 4 0 4.1 0.5 3.9 0.8 4 1.2M432.4 309.3l-10.4-7.3-21.8-16-24.8-17.6-10.8-8-6.8-5.3-6.1-5.2-5.8-5.3-5.2-5.2M313.8 298l2.6-0.7M317.1 297.1l5.2-2.2 5.8-3.2 5.5-3.6 12.9-9 8.1-5 8-4.1 7.6-3.1 4.9-1.5 4.7-1.2 4.8-0.7 4.4-0.3 4.3 0.1 4.1 0.5 4 0.8 3.9 1.3M434.1 310.2l-30.3-23.3-30.2-21.7-10.4-7.7-10.8-8.8-9.9-8.9M312 298.9l5.6-2.5 6.2-3.5 5.8-3.9 14.2-10.4 7.5-4.8 7.7-4.2 7.6-3.3 4.9-1.7 4.8-1.3 4.7-0.8 4.4-0.4 4.4 0 4.1 0.4 4.3 0.9 3.9 1.3M435.8 311.3l-13.1-11.3-13-10.4-11.8-8.9-33.2-23.8-10.8-8.4-9.5-8M310.9 299.5l4.9-2.8 5.6-3.6 18.1-13.8 7.2-5 8.7-5.1 4.3-2.1 3.9-1.7 5.2-1.8 4.8-1.3 4.7-0.9 4.8-0.4 4.3 0.1 4.4 0.5 4.3 1 4 1.4M437.6 312.4l-6.8-6.5-7-6.3-7.3-6.2-7.9-6.3-12.7-9.5-30.9-22.1-18.8-14.2M308.6 301l8.7-6.3 17.6-14.2 7.2-5.5 4.4-2.9 4.3-2.7 4.3-2.3 4-1.9 5.2-2.1 4.8-1.5 4.8-1 4.7-0.6 4.7-0.1 4.4 0.4 4.3 0.9 4 1.3M439.3 313.7l-7.1-7.5-7.3-7-7.9-7-8.8-7.1-8-6.1-9.5-6.9-30.6-21.5-12.1-8.2M306.9 302.3l7.4-6.3 16.3-14.3 7.2-5.9 4.7-3.5 4.4-2.9 4.3-2.5 4.3-2.2 5.2-2.3 4.8-1.6 4.8-1.2 4.8-0.6 4.7-0.2 4.4 0.3 4.3 0.9 4.1 1.2M441 315l-7.3-8.4-7.7-7.8-8.2-7.5-9.3-7.7-13.9-10.4-20.7-14.4-12.6-8.4-10.1-6M350.7 244.1l-0.6-0.4M305.2 303.7l18.9-18.4 9.8-8.8 4.6-3.8 4.7-3.3 4.7-3 4.6-2.5 5.2-2.4 5.1-1.8 5.1-1.2 4.8-0.7 4.7-0.1 4.4 0.4 4.4 1 4.3 1.5M442.7 316.3l-7.3-9-7.6-8.2-8.5-8.1-9.4-7.9-13.5-10.2-18.1-12.4-12.3-8-5.2-3-4.6-2.4M303.5 305.2l15.3-16.7 10.5-10.4 4.7-4.2 4.6-3.8 4.7-3.3 4.6-2.8 5-2.6 4.8-2 4.9-1.5 4.8-0.9 4.7-0.4 4.5 0.1 4.3 0.7 4.4 1.3M444.4 317.8l-7.3-9.7-7.6-8.7-8.5-8.4-9.6-8.3-6.5-5.1-7.1-5.2-16.5-11.3-12.1-7.5-4.9-2.7-4.6-2.1M301.8 306.8l13.7-16.6 5.4-6.1 5-5.3 4.7-4.5 4.7-4.1 4.7-3.6 4.6-3.1 4.6-2.6 4.9-2.2 4.9-1.7 4.8-1.1 4.8-0.5 4.4 0.1 4.4 0.7 4.4 1.2M446.1 319.3l-7.3-10.3-7.6-9.1-8.4-8.7-9.7-8.6-5.9-4.7-6.4-4.9-14.2-9.7-7.4-4.7-5.6-3.3-4.9-2.6-4.7-2M300.1 308.6l12.7-17 5.4-6.6 5-5.8 4.7-5 4.7-4.4 4.4-3.6 4.6-3.4 4.6-2.8 4.9-2.3 4.6-1.7 4.8-1.1 4.8-0.6 4.5 0.1 4.4 0.6 4.4 1.3M447.8 320.8l-3.5-5.4-3.8-5.4-7.6-9.5-8.1-8.8-9.3-8.6-5.9-4.9-5.8-4.5-6.1-4.3-6.6-4.5-7.5-4.7-5.6-3.2-4.9-2.5-4.7-2M298.5 310.4l12.3-18 5.1-6.7 5-6.3 4.7-5.4 4.3-4.4 4.4-4 4.3-3.4 4.7-3 4.9-2.5 4.5-1.8 4.9-1.2 4.8-0.6 4.5 0.1 4.4 0.7 4.4 1.4M449.4 322.3l-3.4-5.6-3.8-5.6-3.8-5.2-3.7-4.8-4.1-4.7-4.1-4.4-4.3-4.3-5-4.6-5.5-4.7-5.6-4.3-5.7-4.2-6.1-4.1-6.8-4.3-6-3.3-4.9-2.5-4.4-1.7M296.8 312.4l12.3-19.3 5-7.3 4.7-6.4 4.7-5.8 4.4-4.8 4-3.9 4.4-3.7 4.6-3.2 4.6-2.5 4.6-1.9 4.5-1.2 4.8-0.5 4.5 0.1 4.5 0.7 4.4 1.5M451.1 323.9l-3.5-5.8-3.7-5.8-3.8-5.4-3.7-5-4.1-4.9-4.1-4.5-4.3-4.5-5-4.7-5.2-4.6-5.2-4.2-5.5-4.1-5.4-3.7-6.3-3.9-5.9-3.3-4.7-2.3-4.4-1.7M295.2 314.5l12.6-21.2 4.9-7.8 4.4-6.4 4.4-5.8 4-4.9 4.1-4.3 4-3.6 4.3-3.3 4.6-2.7 4.3-1.9 4.6-1.4 4.5-0.6 4.5 0 4.5 0.8 4.1 1.3M452.7 325.5l-7.2-11.9-3.7-5.6-4.1-5.5-4-5.1-4.1-4.7-4.3-4.6-4.7-4.6-4.9-4.4-5.2-4.3-5.1-3.9-5.2-3.6-5.7-3.5-5.6-3.1-4.7-2.3-4.4-1.7M293.6 316.6l13.1-23.4 4.7-7.8 4.3-6.9 4-5.8 4.1-5.3 3.7-4.2 4-4 4.3-3.4 4.3-2.7 4.3-2 4.3-1.3 4.5-0.6 4.5 0.1 4.5 0.9 4.2 1.5M454.4 327.2l-7.2-12.3-3.7-5.7-4.1-5.7-4-5.3-4.1-4.8-4.3-4.8-4.6-4.7-4.6-4.4-4.9-4.1-4.9-3.8-4.8-3.4-5.1-3.2-5.4-3-4.7-2.2-4.5-1.7M292 318.9l14.3-27 8-14 4-6.3 3.7-5.2 3.4-4.2 3.8-3.9 4-3.5 4.3-3 4-2 4.2-1.4 4.3-0.6 4.5 0.1 4.5 0.9 4.2 1.5M456 328.8l-7.5-12.9-7.7-11.6-4.1-5.4-4-5.1-4.3-4.9-4.3-4.6-4.3-4.2-4.6-4-4.6-3.7-4.5-3.3-4.8-3-4.8-2.7-4.8-2.3-4.1-1.6M290.4 321.3l16.1-31.9 7-13.2 3.7-6.1 3.4-5.1 3.4-4.5 3.4-3.8 4-3.7 4-2.8 4-2.1 4.3-1.3 4.2-0.6 4.3 0.3 4.2 1 4.1 1.7M457.6 330.4l-7.7-13.4-8.1-12.3-8-10.7-4-4.8-4.3-4.7-4-4-4.3-3.9-4.3-3.5-4.2-3.1-4.2-2.8-4.5-2.6-4.5-2.1-4.1-1.7M390.2 260.4l-0.3-0.1M288.8 323.7l5.6-11.1 12.8-27.3 5.6-10.8 3.3-6.1 3.1-4.9 3.1-4.3 3.1-3.7 3.7-3.7 4-3.1 3.6-2.1 4-1.4 4-0.6 4.2 0.2 4.2 1 3.9 1.7M459.3 332l-8.4-14.3-8.4-12.9-8-10.9-7.7-9.1-3.9-4.1-4-3.7-4-3.4-3.9-2.9-3.9-2.7-4.2-2.4-4.2-2-3.8-1.5M394 261.8l-0.3-0.1M287.3 326.2l6.1-12.6 12.8-28.8 5.8-12.3 3-5.8 2.8-4.7 2.8-4.2 2.7-3.6 3.7-4 3.7-3.1 3.7-2.2 3.7-1.4 3.9-0.6 4 0.2 3.9 1 4.2 1.9M460.9 333.6l-9.3-15.6-8.4-13-7.6-10.8-7.4-9-3.7-3.9-3.6-3.6-3.7-3.2-3.9-3.1-3.6-2.4-3.9-2.3-3.6-1.8-3.8-1.6M397.5 263l-0.6-0.2M285.7 328.8l3.4-6.6 3.6-8 13.4-32.2 5.1-11.6 2.7-5.6 2.8-5 2.4-3.9 2.8-3.8 3.4-3.8 3.7-3.2 3.7-2.3 3.6-1.3 3.7-0.5 4 0.4 3.9 1.3 3.9 2M462.5 335.1l-12.1-19.7-7.7-11.9-7-10.1-6.4-8-6.7-7.1-3.4-3.1-3.6-2.9-3.3-2.3-3.6-2.2-3.6-1.9-3.6-1.4" fill="none" stroke="#000" stroke-width="0.55"/></g>
<path d="M374.3 381.9l6.5-17 5.8-14.3 5.5-12.2 4.8-9.4 4.5-7.5 4.4-6 2.2-2.4 2.2-2 2.2-1.6 2.2-1.2 2.1-0.9 2.5-0.6 2.1-0.3 2.4 0.1 2.4 0.3 2.7 0.8 2.7 1.1 2.6 1.4 5.2 3.5 6 4.8 5.5 5.2 13.3 12.9M373.7 381.9l-15.5-39-5.2-11.9-4.8-9.9-4.5-7.9-4.4-6.4-2.2-2.6-2.2-2.2-2.2-1.8-2.5-1.6M327.8 297.4l-1.8-0.6-2.2-0.5-2.1-0.1-2.1 0.1-2 0.4-2.4 0.7-4.3 2.1M310 300l-2.6 1.8M306.9 302.3l-5.1 4.5-5.2 5.9-5.1 7-5.3 8.3M285.7 328.8l-0.5 0.9M285.4 329.3l0.9-1.8M287.2 325.7l2.8-6 3.3-7.9 12-31.3 4.8-11.7 2.8-6 2.4-4.7 2.4-4.2 2.8-4 3.4-4 3.3-3 3.4-2.1 3.7-1.3 3.7-0.4 3.6 0.5 4 1.4 3.9 2.4M464.1 336.6l-22.2-35.1-5.8-8.4-5.2-6.8-6-6.7-3.1-3-3.3-2.8-3-2.3-3.3-2.2-3-1.7-3.3-1.4M405.3 265.9l-0.3-0.1" fill="none" stroke="#000" stroke-width="0.8"/>
<text x="281.1" y="365.1" font-size="7" text-anchor="end" font-weight="bold">50</text>
<text x="280.3" y="343.1" font-size="7" text-anchor="end" font-weight="bold">60</text>
<text x="279.5" y="320.7" font-size="7" text-anchor="end" font-weight="bold">70</text>
<text x="278.7" y="298" font-size="7" text-anchor="end" font-weight="bold">80</text>
<text x="277.9" y="274.9" font-size="7" text-anchor="end" font-weight="bold">90</text>
<text x="277.1" y="251.4" font-size="7" text-anchor="end" font-weight="bold">100</text>
<text x="366.8" y="406.5" font-size="7" text-anchor="middle" font-weight="bold">50</text>
<text x="347.9" y="397.8" font-size="7" text-anchor="middle" font-weight="bold">60</text>
<text x="329.6" y="389.4" font-size="7" text-anchor="middle" font-weight="bold">70</text>
<text x="311.9" y="381.2" font-size="7" text-anchor="middle" font-weight="bold">80</text>
<text x="294.8" y="373.3" font-size="7" text-anchor="middle" font-weight="bold">90</text>
<text x="381" y="410.6" font-size="7" text-anchor="middle" font-weight="bold">10</text>
<text x="400.2" y="401.7" font-size="7" text-anchor="middle" font-weight="bold">11</text>
<text x="418.6" y="393.1" font-size="7" text-anchor="middle" font-weight="bold">12</text>
<text x="436.5" y="384.8" font-size="7" text-anchor="middle" font-weight="bold">13</text>
<text x="453.9" y="376.7" font-size="7" text-anchor="middle" font-weight="bold">14</text>
<text x="470.7" y="368.9" font-size="7" text-anchor="middle" font-weight="bold">15</text>
<rect x="409.7" y="318.5" width="29.6" height="43.8" fill="#fff" stroke="#9a9a9a" stroke-width="0.7"/>
<rect x="413.5" y="323.2" width="10.4" height="3.9" fill="#0a0a80" stroke="#333" stroke-width="0.4"/>
<text x="426.2" y="326.9" font-size="5" font-weight="bold" fill="#222">50</text>
<rect x="413.5" y="329.3" width="10.4" height="3.9" fill="#0a0ae6" stroke="#333" stroke-width="0.4"/>
<text x="426.2" y="333" font-size="5" font-weight="bold" fill="#222">60</text>
<rect x="413.5" y="335.4" width="10.4" height="3.9" fill="#007070" stroke="#333" stroke-width="0.4"/>
<text x="426.2" y="339.1" font-size="5" font-weight="bold" fill="#222">70</text>
<rect x="413.5" y="341.5" width="10.4" height="3.9" fill="#66dd00" stroke="#333" stroke-width="0.4"/>
<text x="426.2" y="345.2" font-size="5" font-weight="bold" fill="#222">80</text>
<rect x="413.5" y="347.6" width="10.4" height="3.9" fill="#ffe000" stroke="#333" stroke-width="0.4"/>
<text x="426.2" y="351.3" font-size="5" font-weight="bold" fill="#222">90</text>
<rect x="413.5" y="353.7" width="10.4" height="3.9" fill="#ff6400" stroke="#333" stroke-width="0.4"/>
<text x="426.2" y="357.4" font-size="5" font-weight="bold" fill="#222">100</text>
<text x="262.1" y="307.2" font-size="11.5" font-weight="bold" text-anchor="middle" textLength="104.7" lengthAdjust="spacingAndGlyphs" transform="rotate(-90 262.1 307.2)">Biodiesel yield., (%)</text>
<text x="318.3" y="403.6" font-size="10" font-weight="bold" text-anchor="middle" textLength="83" lengthAdjust="spacingAndGlyphs" transform="rotate(25 318.3 403.6)">Temperature (°C)</text>
<text x="433.3" y="400.6" font-size="10" font-weight="bold" text-anchor="middle" textLength="81" lengthAdjust="spacingAndGlyphs" transform="rotate(-26 433.3 400.6)">Methanol/oil ratio</text>
<text x="288" y="261.5" font-size="14.8" font-weight="bold">(E)</text></g>
<g><path d="M529.7 363.3L525 249.6M548.6 356L544.9 243.7M567 348.9L564.2 238M584.8 342L582.9 232.5M602.2 335.3L601 227.1M619 328.9L618.6 221.9M529.7 363.3L619 328.9M529.2 349.6L619 316M528.6 335.8L618.9 303M528 321.9L618.9 289.8M527.4 307.8L618.8 276.5M526.9 293.5L618.8 263.1M526.3 279L618.7 249.5M525.7 264.4L618.7 235.8M525 249.6L618.6 221.9M707.5 363.1L711.3 249.7M688.8 355.9L691.7 243.8M670.6 348.8L672.6 238.1M652.9 342L654.1 232.5M635.8 335.3L636.1 227.1M619 328.9L618.6 221.9M707.5 363.1L619 328.9M708 349.5L619 316M708.5 335.8L618.9 303M708.9 321.8L618.9 289.8M709.4 307.7L618.8 276.5M709.9 293.5L618.8 263.1M710.4 279L618.7 249.5M710.8 264.4L618.7 235.8M711.3 249.7L618.6 221.9M615.4 404.3L707.5 363.1M596.6 395.8L688.8 355.9M578.4 387.6L670.6 348.8M560.7 379.6L652.9 342M543.5 371.9L635.8 335.3M526.9 364.4L619 328.9M621.2 404.3L529.7 363.3M640.2 395.8L548.6 356M658.5 387.5L567 348.9M676.4 379.5L584.8 342M693.6 371.8L602.2 335.3M710.4 364.2L619 328.9M529.7 363.3L526.9 364.4M529.2 349.6L526.3 350.7M528.6 335.8L525.7 336.9M528 321.9L525.1 322.9M527.4 307.8L524.5 308.8M526.9 293.5L523.9 294.5M526.3 279L523.3 280M525.7 264.4L522.6 265.4M525 249.6L522 250.5" fill="none" stroke="#8a8a8a" stroke-width="0.75"/>
<defs><path id="sF" d="M618.4 393.4l-13.5-42.8-11-30.7-3.7-8.5-4.5-8.5-4.5-6.3-3.6-3.5-2.7-1.8-2.8-1-4.2-0.3-5 1.6-5.3 3.7-4.6 4.8-6.4 8.8-6.5 10.5-8.1 14.5 22.3-48.5 6.5-12.8 3.8-6 4.5-5.8 5.9-5.4 5.4-2.8 3.7-0.8 2.5 0 34.3 7.5 33.7 9.5 7.3 2.5 6 3 8.8 6.8 4.8 5 5.6 7.2 10.6 16.6 10 19.7-0.1 0.3-6.6-6.3-4.6-3-4.3-2-7.7-2.1-5-0.5-8.8 0.5-6.2 1.8-6.1 3.3-5.2 4.2-4.1 4.3-4.9 6.5-5 8-5.3 10-5.5 12.3-9.9 26.5z"/><clipPath id="cF"><use href="#sF"/></clipPath></defs>
<use href="#sF" fill="#0a0a9a"/>
<g clip-path="url(#cF)"><path d="M724.6 422l-19.5-0.1-5-7-1.4-1.3-78.8-26-3.8 0.2-68.7 21.2-8.5 13-54.8-0.1 0-210.8 240.8 0 0.1 210-0.4 0.9z" fill="#0a0aff" fill-rule="evenodd"/><path d="M724.6 422l-19.5-0.1-7.8-11.8-7.9-14-50.8-21.5-11.5-4.4-7.5-0.4-8 1.1-53.9 16.7 5.3-18.2 1.5-8.3 0.4-4-0.3-2.9-28.4-17.1-4.1-2-1.7 0.7-5-2.5-41.3-23 0-99.2 240.8 0 0.1 210-0.4 0.9z" fill="#0050aa" fill-rule="evenodd"/><path d="M681.1 375.6l-46-23.5-4-1.3-4.7-0.6-7 0.2-7 1.3-48.8 16.4 1.9-15.2 0.6-12.8-28.9-14.5-0.6-3.1-52.6-25.6 0.1-85.8 240.8 0 0.1 93.5-0.4 4.1-21.2 10.9-0.9 4.3-2.3 3.5-21.1 24.7-0.8 1.8 0.2 6.2 1 7 2 8-0.4 0.5z" fill="#22c822" fill-rule="evenodd"/><path d="M678.1 357l-32-25.4-4-1.6-6.2-0.9-12.3 0-11.2 1.9-6.3 2.3-7 4-33 10.9-0.1-4.1 1-15-23.4-15-0.3-2 0.6-4.8-59.8-29.9 0-66.3 240.8 0-0.1 70.8-1.4 1.3-27.2 16.9-2.8 2.3 0.2 4-0.8 2.7-1.8 2.8-4.7 5.2-4.4 22.8-3.6 13.7-0.2 3.4z" fill="#99e600" fill-rule="evenodd"/><path d="M567.6 330.6l-0.4-0.5 0.8-10.5-0.2-3.5-16.7-13.7 0.5-7.8 2.8-8.2 0.2-2.1-36.2-18.2-34.3-16.4 0-38.6 240.8 0 0 21.5-0.5 4.8-45.4 45.5 1 5-0.1 2.5-1.3 2.7-2.5 2.4-3.5 2.2-5 2.2-11.5 3.6-10.7 1.9-29.3 3.7-11.2 2.5-6.8 3.1-5 4.9-25.5 11z" fill="#fff000" fill-rule="evenodd"/><path d="M569.1 310.9l-0.5-1.5 0.4-3.8-0.4-1.5-6.4-11.7 0.7-0.2 2-2.3 0.7-1.8-1.9-8.5 1.3-9-0.6-3.7-79.3-52.9-0.7-0.8 0.2-1.8 11.8-0.4 144.7 0 11.5 0.6-11.5 40.5-2.5 10.3 0.2 1.5 7 3.2 2.9 2.3 1.1 2.5-1 2.7-2.4 2.1-3.8 2.2-11 4-13.7 3.3-23.3 4-7.5 2.3-2.2 1.4-1 1.5-0.2 1.7 0.5 3.3-0.3 0.7-14.8 9.8z" fill="#ffa000" fill-rule="evenodd"/></g>
<g opacity="0.7"><path d="M616.3 387.7l5.8-13.7 5.4-11.8 5.5-10.6 5.1-8.9 5.1-7.6 5-6.4 5-5 5-3.8 3-1.9 3.1-1.4 3.3-1.3 3.4-0.8 3.5-0.6 3.9-0.3 4.1 0.1 3.5 0.3 3.1 0.7 2.9 0.9 2.8 1.3 2.5 1.4 2.5 1.8 2.4 2.2 2.5 2.5 2.1 2.6M620.2 388.4l-13.3-38-5.2-14.3-5.5-13.9-4.8-10.7-2.6-4.8-2.2-3.8-2.6-3.6-2.5-3-2.5-2.3-2.8-2-2.5-1.2-2.7-0.7M570.4 290.1l-0.3-0.1M568 290.1l-0.9 0.1M566.5 290.3l-2.1 0.6-2.1 0.9-4 2.7-4.3 3.9-4.5 5.2-4.6 6.5-4.5 7.4-4.7 8.7-5.1 10.3M614.4 381.2l7.7-14.8 6.1-11.2 5.7-9.8 5.1-7.8 4.7-6.4 4.7-5.5 4.7-4.4 5-3.6 3-1.8 3.1-1.5 3.3-1.2 3.3-1 3.9-0.7 4.1-0.5 3.5-0.1 3.2 0.2 2.9 0.5 2.6 0.8 2.5 1 2.5 1.5 2.5 1.8 2.2 2 2.1 2.3 2.2 2.7M622.1 383l-5.8-14.1-14.2-36.5-4.2-9.9-3.6-7.7-4.1-7.8-4.2-6.4-4.1-4.8-1.8-1.7-2.2-1.6-2.5-1.4-2.7-1-2.4-0.4-2.7 0.1-2.7 0.5-2.7 1-2.6 1.5-2.8 2-2.6 2.3-2.8 2.9-2.8 3.3-2.7 3.8-2.7 4.3-2.6 4.6-5.2 10.5M533.9 329.9l-1.5 3.6M612.4 374.8l19.6-30.7 4.4-6.6 4.1-5.7 4.4-5.3 4.4-4.5 4.7-4 4.6-3.1 3-1.7 3.4-1.5 3.3-1.3 3.3-0.9 3.9-0.8 3.5-0.5 3.2-0.2 2.9 0.2 2.6 0.4 2.5 0.8 2.3 1 2.2 1.3 2.2 1.6 2.2 2 2.2 2.4 1.8 2.4M624 377.8l-3.2-6.4-3.2-7-15.8-37-3.9-8.4-3.2-6.4-3.8-6.8-3.8-5.5-3.8-4.4-4-3.4-2.5-1.6-2.4-1.1-2.4-0.6-2.8-0.3-2.6 0.2-2.7 0.7-2.6 1-2.6 1.5-2.6 1.8-2.5 2.2-2.5 2.7-2.2 2.7-2.5 3.4-2.4 3.9-4.4 8.5M538.5 319.7l-0.2 0.6M535.5 327l-1.2 3.2M610.5 368.4l3.5-4 4.2-5.4 16.6-23.4 7.3-9.3 4-4.4 4.1-3.7 4.3-3.4 4.6-2.9 6.4-3.1 6.9-2.2 3.5-0.8 2.9-0.5 3-0.2 2.6 0.2 2.3 0.4 2.2 0.6 2.3 1 2.2 1.3 2.2 1.7 1.9 1.8 3.8 4.5M626 372.8l-3.9-6.4-4.2-8-4.5-9.5-11.9-26.2-3.5-7.2-3.2-5.9-3.8-6.1-3.8-5.1-3.7-4-3.8-3-2.4-1.5-2.8-1.2-2.4-0.6-2.7-0.3-2.7 0.1-2.6 0.6-2.6 0.9-2.6 1.4-2.6 1.7-2.2 1.9-2.5 2.6-2.2 2.7-2.2 3.1-2.2 3.5-4.1 8.3M536.3 326l-0.2 0.7M608.5 362.1l2.3-1.7 2.6-2.4 5.1-5.5 5.2-6.3 12.7-16.8 6.6-7.7 4-3.9 4-3.4 4.3-3.1 4.3-2.5 6.4-2.9 6.8-2.3 5.6-1.1 2.6-0.1 2.3 0.1 2.3 0.4 2 0.6 2.3 0.9 1.9 1.2 2 1.4 1.9 1.7 3.8 4.5M627.9 368l-2.3-2.9-2.2-3.3-4.9-8.3-4.8-9.5-11.8-24.6-3.5-6.7-2.9-5-3.5-5.4-3.7-4.9-3.8-3.9-3.7-3-2.5-1.5-2.4-1.2-2.4-0.8-2.7-0.5-2.7-0.1-2.7 0.3-2.6 0.7-2.3 1-2.3 1.3-2.3 1.6-2.2 2.1-2.2 2.4-2.2 2.9-1.9 2.9-3.9 7.4M606.6 355.9l2.6-1.2 2.9-1.9 2.9-2.4 2.9-2.8 5.8-6.6 13.3-16.5 3.4-3.9 3.4-3.4 4.1-3.5 4-3.1 4-2.6 4.2-2.4 6.1-2.7 6.5-2.1 5-0.9 2.3-0.2 2.3 0.2 2.3 0.4 2 0.6 2 0.8 1.9 1.2 3.6 2.9 3.5 4.1M629.8 363.5l-2.3-2.3-2.5-3.2-2.6-3.8-2.6-4.2-5.1-9.4-12.5-24.6-3.1-5.7-3.2-5.2-3.5-5-3.4-4.2-3.5-3.5-3.7-3.1-2.4-1.5-2.4-1.3-2.5-0.9-2.7-0.6-2.3-0.2-2.7 0.1-2.6 0.5-2.4 0.8-2.3 1.1-1.9 1.3-2.3 1.9-1.9 1.9-3.9 5.1-3.7 6.5M604.6 349.8l2.6-0.5 2.7-1 2.5-1.5 2.9-2.3 2.9-2.6 3.2-3.4 13.9-16.4 3.5-3.7 3.4-3.4 4.4-3.7 4.6-3.5 4.9-3 4.8-2.5 6-2.5 5.7-1.8 4.7-0.7 4 0.1 4 0.9 3.7 1.9 3.6 2.9 3.2 3.6M631.7 359.2l-2.6-2.1-2.5-2.8-2.6-3.3-2.9-4.3-5.4-9.4-13.1-24.7-3.2-5.4-3.1-4.8-3.5-4.7-3.4-4-3.4-3.3-3.7-2.9-2.5-1.5-2.4-1.2-2.4-0.9-2.7-0.6-2.7-0.2-2.6 0.1-2.4 0.4-2.3 0.8-2.3 1.1-2 1.3-1.9 1.7-2 2-1.9 2.4-1.9 2.7-3.4 6.2M602.7 343.9l2.6 0.1 2.9-0.6 3-1.3 3.2-2.1 2.9-2.4 3.2-3.1 13.9-15.7 3.4-3.5 3.8-3.5 4.6-3.7 4.9-3.5 5.2-3 5.2-2.5 5.9-2.3 4.8-1.4 4.3-0.6 3.8 0.2 3.7 1 3.4 1.6 3.3 2.6 3.3 3.5M633.6 355.1l-2.5-1.6-2.9-2.6-2.9-3.4-2.9-4.1-5.8-9.5-13-23.6-3.5-5.7-3.1-4.6-3.5-4.4-3.4-3.8-3.4-3.2-3.7-2.8-2.4-1.5-2.5-1.2-2.4-0.9-2.7-0.6-2.6-0.3-2.4 0-2.3 0.3-2.1 0.6-2 0.9-2 1.2-1.9 1.5-2 1.9-3.5 4.5-3.5 5.9M600.7 338.1l3 0.8 2.9-0.2 3.3-1 3.5-2.1 2.9-2.2 3.2-3 13.9-14.9 3.8-3.6 4-3.5 5-3.8 4.9-3.2 5.1-2.8 5.5-2.5 5.3-1.9 4.4-1.2 3.8-0.4 3.8 0.2 3.4 0.8 3.4 1.6 3.3 2.5 3 3M635.6 351.2l-2.3-1-2.6-1.8-2.6-2.5-2.5-3.1-2.9-4-3.2-5-13.3-23.4-3.2-5.1-3.2-4.7-4-5.4-4.1-4.5-4-3.8-4-2.9-2.4-1.5-2.4-1.2-2.5-0.8-2.3-0.7-2.4-0.3-2.4-0.1-2.3 0.3-2 0.5-2.1 0.8-1.9 1.1-2 1.4-1.7 1.6-3.6 4.2-3.5 5.7M598.8 332.6l2.9 1.2 1.7 0.3 1.6 0 1.7-0.2 1.9-0.6 3.6-1.8 2.8-2.1 3.2-2.7 13.9-14.3 4.1-3.7 4.4-3.5 4.9-3.6 5.2-3.1 5.5-2.8 5.7-2.4 4.7-1.6 4.1-1 3.8-0.3 3.5 0.3 3.4 0.9 3.1 1.5 3.1 2.2 2.7 2.6M637.5 347.6l-2.3-0.8-2.6-1.5-2.6-2.2-2.8-3.2-2.9-3.8-3.2-4.8-14-23.6-3.4-5.3-3.2-4.5-4-5.1-4.4-4.6-4.3-3.8-4.3-2.9-2.4-1.3-2.7-1.2-2.4-0.7-2.7-0.5-2.4-0.2-2 0.1-2.3 0.4-2 0.7-2 1-2 1.4-2 1.6-1.6 1.8-3.6 4.7-3.4 6.2M596.8 327.3l1.7 1.1 1.6 0.7 1.7 0.4 1.6 0.2 1.7-0.1 1.9-0.4 3.6-1.6 2.9-1.9 3.1-2.5 14.3-13.9 4.3-3.7 4.4-3.4 5.2-3.5 5.2-3 5.8-2.7 5.7-2.3 4.1-1.3 3.8-0.7 3.5-0.3 3.5 0.2 3.1 0.8 3.1 1.4 3.1 2 2.8 2.4M639.4 344.2l-2.6-0.7-2.6-1.4-2.6-2.1-2.8-3-2.9-3.6-3.2-4.6-14.3-23.3-3.4-5.2-3.5-4.7-4.4-5.2-4.3-4.4-4.3-3.6-4.3-2.8-2.4-1.3-2.7-1.1-2.7-0.8-2.4-0.4-2.3-0.2-2.1 0.2-2.3 0.4-2 0.7-2 1.1-2 1.3-3.6 3.4-3.5 4.8-3.5 6.1M550.2 294.9l-0.5 1.1M594.8 322.3l1.7 1.2 1.7 0.9 1.6 0.6 1.7 0.4 1.6 0 2-0.2 1.9-0.6 2-0.8 2.9-1.8 3.2-2.4 14.2-13.1 4.4-3.6 4.6-3.4 5.2-3.3 5.5-3 5.8-2.6 6-2.2 4.1-1.1 3.5-0.6 3.5-0.2 3.2 0.3 3.1 0.7 2.9 1.2 2.8 1.7 2.7 2.2M641.3 341l-2.6-0.5-2.6-1.2-2.9-2.2-2.9-2.9-2.8-3.5-3.2-4.4-14.6-23.1-3.5-5-3.7-4.9-4.7-5.3-4.6-4.5-4.6-3.5-4.6-2.8-2.4-1.1-2.7-0.9-2.7-0.7-2.3-0.3-2.4 0-2 0.2-2.3 0.7-2 0.8-2 1.2-2 1.5-1.9 1.8-1.9 2.2-3.5 5.1-3.5 6.5M592.9 317.5l1.7 1.4 1.6 1.1 1.7 0.7 2 0.6 1.6 0.1 2-0.2 1.9-0.5 2-0.7 2.9-1.6 3.2-2.3 14.5-12.7 4.4-3.4 4.6-3.2 5.3-3.1 5.5-2.8 5.7-2.4 6-2.1 3.8-1 3.6-0.6 3.4-0.1 3.2 0.3 3.2 0.7 2.8 1.1 2.8 1.6 2.5 1.8M643.2 338l-2.6-0.4-2.9-1.3-2.9-2.1-2.9-2.8-2.9-3.4-3.1-4.3-14.3-21.9-3.8-5.3-3.7-4.7-4.4-4.9-4.6-4.5-4.6-3.6-4.6-2.8-5.1-2.2-2.6-0.8-2.4-0.4-2.4-0.1-2 0.2-2.3 0.5-2 0.7-2 1-2 1.2-1.9 1.7-2 1.9-3.5 4.6-3.5 5.8M590.9 313.1l1.7 1.5 1.7 1.2 1.7 0.8 2 0.7 1.9 0.2 2-0.1 2-0.4 1.9-0.7 2.9-1.5 3.2-2.1 14.2-11.9 4.7-3.4 4.7-3.1 5.5-3.1 5.5-2.6 5.7-2.2 6-1.9 3.5-0.9 3.6-0.5 3.2-0.1 3.2 0.2 3.1 0.6 2.8 1 2.8 1.5 2.5 1.6M645.1 335.2l-2.6-0.3-2.9-1.2-2.9-2-2.9-2.7-3.2-3.7-3.2-4.1-14.2-21.3-3.8-5.1-3.7-4.6-4.4-4.8-4.6-4.4-4.6-3.5-4.5-2.8-5.2-2.3-4.7-1.2-2.4-0.2-2 0-2.3 0.4-2 0.5-2 0.9-2 1.1-2 1.3-1.9 1.7-3.6 4-3.5 5.2M589 309l1.7 1.6 2 1.5 1.7 0.8 2 0.7 2 0.2 1.9 0 2-0.4 1.9-0.7 2.9-1.4 3.2-2 13.9-11.1 4.7-3.2 4.7-2.9 5.5-2.9 5.5-2.5 5.7-2.1 6-1.8 3.6-0.8 3.5-0.5 3.2-0.1 3.2 0.1 3.1 0.6 2.9 0.9 2.8 1.3 2.5 1.5M647 332.7l-2.6-0.3-2.9-1.2-2.9-1.9-3.2-3-2.9-3.2-3.2-4-14.2-20.6-3.4-4.6-3.8-4.6-4.3-4.7-4.7-4.4-4.6-3.6-4.5-2.9-5.1-2.4-4.8-1.4-4.4-0.4-2.3 0.2-2.1 0.4-4 1.5-3.9 2.5-3.9 3.7-3.5 4.5M587.1 305.4l1.7 1.6 2 1.4 1.7 0.9 2 0.7 1.9 0.4 2-0.1 2-0.3 1.9-0.6 2.9-1.3 3.2-1.9 14.3-10.7 4.6-3.1 4.7-2.7 5.2-2.6 5.5-2.3 5.8-2 6-1.7 3.5-0.7 3.5-0.4 3.2-0.2 3.2 0.2 3.2 0.5 2.8 0.8 2.8 1.1 2.6 1.3M648.9 330.3l-2.6-0.3-2.9-1.1-2.9-1.9-3.2-2.9-2.9-3.1-3.2-4-14.2-20-3.8-4.8-3.7-4.5-4.4-4.6-4.6-4.2-4.3-3.4-4.5-2.9-5.1-2.4-4.8-1.5-4.4-0.6-4.4 0.3-4 1.2-3.9 2.1-3.9 3.1-3.6 3.8M585.2 302.1l1.7 1.6 2 1.5 1.7 0.8 2 0.8 1.9 0.3 2 0 2-0.2 1.9-0.6 2.9-1.2 3.2-1.8 14.3-10.2 4.7-2.9 4.6-2.6 5.3-2.4 5.5-2.2 5.7-1.9 6-1.5 7.1-1.1 3.2-0.2 3.2 0.2 3.1 0.4 2.9 0.8 2.8 1 2.5 1.2M650.8 328.2l-3-0.4-2.9-1.3-2.9-2-3.2-2.8-2.8-3.1-3.2-3.9-13.9-19.1-7.2-8.7-4.3-4.5-4.7-4.3-4.3-3.3-4.5-3-4.9-2.4-4.7-1.7-4.7-0.9-4.4 0.1-4.3 0.9-4 1.6-3.9 2.6-3.6 3.2M583.2 299.2l3.1 2.6 1.7 1 1.6 0.7 3.4 0.7 3.6-0.3 3.5-1.1 4.2-2.1 3.5-2.2 10.2-7.1 7.8-4.6 8-3.7 8.2-2.9 5.4-1.4 4.8-1 4.4-0.6 4.1-0.3 4.1 0.2 3.7 0.6 3.7 1.1 3.4 1.3M652.7 326.3l-3-0.5-2.9-1.3-2.9-2-3.2-2.8-2.9-3.1-3.1-3.7-13.9-18.6-7.2-8.5-4.4-4.5-4.3-3.9-4.3-3.4-4.5-3-4.9-2.5-4.7-1.8-4.5-1-4.4-0.2-4.3 0.4-4 1.2-4.2 2.1-3.9 2.7M581.3 296.8l3.1 2.4 3.4 1.6 3.3 0.6 3.6-0.2 3.5-1.1 4.2-2 3.5-2.2 10.2-6.8 7.5-4.1 7.7-3.5 8.3-2.7 5.1-1.4 5.1-1 4.4-0.6 4.4-0.2 4 0.2 3.8 0.5 3.7 0.9 3.6 1.4M654.5 324.6l-2.9-0.7-2.9-1.3-2.9-2-3.2-2.8-2.9-3-3.2-3.7-13.8-18-6.9-8-4.4-4.4-4.3-3.9-4.3-3.4-4.2-2.9-4.9-2.6-4.8-1.9-4.7-1.3-4.4-0.5-4.3 0.2-4.3 0.8-4.2 1.6-3.9 2.2M579.4 294.7l3.4 2.5 1.7 0.8 2 0.6 2 0.3 2 0 3.9-0.6 2.9-1.1 3.3-1.6 13.9-8.8 4.4-2.4 4.4-2.1 5.2-2.2 5.2-1.8 5.5-1.5 5.4-1.2 7.7-1.1 3.6-0.2 3.5 0.1 3.4 0.3 3.2 0.6 3.1 0.8 2.8 1M656.4 323l-2.9-0.7-2.9-1.4-2.9-2.1-3.2-2.8-2.9-2.9-3.2-3.6-13.6-17.2-6.8-7.9-4.4-4.4-4.3-3.8-4.3-3.4-4.2-2.9-4.6-2.5-4.8-2.1-4.7-1.4-4.4-0.8-4.7-0.1-4.3 0.5-4.2 1-4.2 1.7M577.6 293.1l3.4 2.1 1.6 0.7 2 0.6 2 0.2 2 0 3.9-0.8 3-1 3.2-1.6 13.6-8.3 4.1-2.2 4.4-2.1 4.9-2 5-1.6 5.1-1.5 5.5-1.1 8.3-1.2 7.3-0.2 3.5 0.3 3.4 0.6 3.2 0.8 3.1 1M658.3 321.7l-2.6-0.8-3-1.4-2.9-2-3.2-2.8-6-6.4-13.9-17.2-6.5-7.3-4.1-4-4.3-3.9-4.3-3.4-4.3-2.9-4.5-2.6-4.8-2.2-4.5-1.6-4.7-1-4.3-0.4-4.6 0.1-4.6 0.6-4.5 1.2M575.7 291.8l3.4 1.8 3.7 1 3.6 0.1 3.9-0.8 3-1.1 3.2-1.5 13.3-7.9 8.2-4 4.7-1.9 4.9-1.7 5.2-1.4 5.1-1.1 8.7-1.1 7.6-0.2 3.8 0.2 3.4 0.5 3.5 0.8 3.3 1.1M660.1 320.5l-2.6-0.9-2.9-1.6-2.9-2.1-3.2-2.7-6.1-6.4-13.5-16.4-6.6-7.2-4-4-4.3-3.8-4-3.2-4.3-2.9-4.5-2.7-4.5-2.2-4.5-1.7-4.7-1.2-4.7-0.7-4.6-0.3-4.9 0.3-4.8 0.7M573.8 290.8l0.4 0.2M574.9 291.3l3 1.2 3.3 0.5 3.7-0.2 3.6-0.9 2.9-1.1 3.2-1.5 12.8-7.4 7.5-3.7 4.3-1.8 4.7-1.5 4.6-1.3 4.8-1.1 9.4-1.4 4.4-0.3 4.1 0 4.1 0.3 3.7 0.5 3.7 0.8 3.7 1.1M662 319.5l-2.6-1.1-2.9-1.7-2.9-2.2-2.9-2.5-6.1-6.3-13.5-16-6.6-7.1-4-3.9-4-3.5-4-3.2-4.3-3-4.5-2.7-4.6-2.3-4.4-1.7-4.5-1.4-4.6-0.9-5-0.6-5.1-0.2-5.1 0.3M572 290.2l3 1 3.4 0.4 3.6-0.2 3.6-0.9 3-1.1 3.2-1.5 13.4-7.6 7.2-3.5 4.4-1.7 4.6-1.6 4.6-1.2 4.6-1 4.8-0.8 4.8-0.5 4.5-0.3 4.4 0 4.1 0.3 4 0.6 3.7 0.9 3.7 1.1M663.8 318.6l-2.6-1.3-2.6-1.6-2.9-2.2-2.9-2.5-6-6.2-13.6-15.7-6.2-6.7-4-3.8-4.1-3.6-3.9-3.1-4-2.8-4.3-2.7-4.5-2.4-4.5-1.9-4.7-1.6-4.7-1.2-5-0.8-5.1-0.6-6-0.2M570.8 290.1l3.1 0.5 3 0 3.3-0.5 3.3-1 6.1-2.7 13.1-7.4 6.6-3.2 8.4-3.1 4.3-1.3 4.6-1 4.9-0.8 5.1-0.6 4.8-0.3 4.7 0 4.3 0.3 4.4 0.6 4 0.9 4 1.2M665.6 317.9l-2.6-1.5-2.5-1.7-5.5-4.7-6.1-6.1-13.2-15.1-6.2-6.5-8.1-7.4-4-3.1-4-2.9-4.2-2.6-4.5-2.5-4.2-1.9-4.5-1.6-4.7-1.3-4.9-1.1-5.5-0.9-6.9-0.9M568.4 289.9l1.3 0.1M570.4 290.1l2.6-0.1 2.7-0.4 2.6-0.6 3-1.1 5.8-2.7 12.8-7.3 6-2.9 8.1-3.2 8.7-2.2 5.1-1 5.5-0.6 5-0.3 5.1 0 4.6 0.3 4.4 0.7 4.3 1 4.2 1.3M667.5 317.3l-2.6-1.7-2.9-2.1-6.1-5.5-5.8-6-13.5-15.1-6.8-6.8-6.8-6-6.8-5-4.2-2.8-4.6-2.5-4.2-1.9-4.4-1.8-4.5-1.4-4.9-1.3-13.5-2.6M566.6 290.1l1 0M569.6 289.9l4.9-1.2 5.6-2.2 5.5-2.8 12.5-7.2 6.6-3.2 6.9-2.6 7.4-2 5.2-1 5.4-0.7 5.4-0.3 5.1 0 4.7 0.3 4.6 0.7 4.6 1 4.3 1.4M658.8 270.3l0.3 0.1M669.3 316.8l-5.2-3.9-5.8-5.4-5.7-5.9-12.9-14.2-6.5-6.6-7.2-6.2-7-5.4-4.3-2.7-4.2-2.4-4.2-2.1-4.5-1.8-4.4-1.6-5-1.4-14.7-3.4M564.8 290.7l1.6-0.4M567.1 290.2l5-1.7 5.2-2.4 4.9-2.7 11.8-7 6.3-3.3 6.9-2.8 6.9-2.1 4.9-1.1 5.2-0.8 5.4-0.5 5.1-0.1 4.7 0.1 4.7 0.5 4.4 0.8 4.3 1.2M654.5 268.8l0.3 0.1M671.1 316.5l-4.8-4.1-5.5-5.2-17.7-18.9-6.6-6.6-7.4-6.6-7.4-5.6-4.2-2.8-4.3-2.5-4.2-2.1-4.5-1.9-8.8-3-16.2-4.3M563.3 291.4l4.7-2 4.9-2.6 17.1-10.4 6-3.3 6.9-3.1 6.9-2.3 4.9-1.2 5.2-0.9 5.2-0.6 5.4-0.3 5 0.1 4.8 0.5 4.6 0.8 4.3 1.1M650.4 267.6l0.6 0.1M672.9 316.2l-4.2-3.8-4.8-4.7-17.1-18.3-6.6-6.6-7.7-7-8-6.1-4.3-2.8-4.2-2.5-4.2-2.2-4.5-1.9-8.9-3.1-17-4.9M561.6 292.3l6.9-4.1 15.5-10.2 7-4.3 7.6-3.8 7.5-2.8 5-1.3 5.2-1 5.5-0.7 5.4-0.2 5.1 0 5 0.5 4.6 0.8 4.4 1.1M674.7 316.1l-6.8-6.8-16.4-17.7-7.3-7.4-8.3-7.6-8.4-6.4-4.2-2.8-4.6-2.7-4.5-2.4-4.5-2-8.9-3.2-17.6-5.2M559.5 293.8l16.6-12.5 9-6.1 4.1-2.5 4.1-2.2 4.1-1.9 4.4-1.7 5-1.5 5.2-1.2 5.2-0.8 5.5-0.4 5.4 0 5 0.4 4.7 0.7 4.7 1.1M676.5 316l-19.1-20.9-9.2-9.4-9-8.2-4.3-3.5-4.6-3.5-4.6-3-4.6-2.7-4.5-2.4-4.8-2.1-8.8-3.2-18-5.3M557.8 295.2l12-10.7 5.1-4.1 5.2-3.9 4.7-3.2 4.5-2.6 4.4-2.2 4.4-1.9 5-1.6 4.9-1.3 5.3-0.9 5.4-0.5 5.5-0.2 5 0.3 5.1 0.7 4.6 1.1M678.2 316l-14.3-16.5-11-11.7-5-4.8-5-4.4-5-4.1-4.9-3.6-4.6-3.1-4.8-2.9-4.9-2.5-4.7-2.1-9.5-3.4-17.6-5M556 296.9l5.2-5.7 4.9-4.8 4.8-4.5 4.8-4 4.8-3.6 4.8-3.1 4.7-2.6 4.7-2.2 5-1.8 5-1.4 5.2-1.1 5.2-0.6 5.8-0.2 5.4 0.3 5 0.7 4.7 1.1M636.6 263.5l0.2 0.1M680 316.1l-11.8-14.4-5.7-6.4-5.6-5.9-5.4-5.2-5.3-4.8-5.2-4.3-5.3-3.9-4.8-3.2-5.2-3-4.8-2.5-5.1-2.3-5.1-1.9-5.3-1.6-16.7-4.5M554.3 298.7l4.5-5.8 4.5-5.1 4.5-4.7 4.5-4.2 4.5-3.7 4.8-3.4 4.7-2.9 4.8-2.4 5-2.1 4.9-1.6 5.3-1.2 5.2-0.7 5.8-0.3 5.4 0.1 5 0.6 5 1.2M681.8 316.2l-4.8-6.4-5.1-6.4-5-6-5.1-5.5-5.3-5.4-5.3-4.9-5.3-4.4-5.3-4-4.9-3.4-5.2-3.3-5.1-2.8-5.1-2.4-5.1-2-5.6-1.9-5.9-1.6-7.2-1.8M595.9 253.9l-0.5-0.1M594.8 253.7l-0.3-0.1M552.6 300.6l3.9-5.6 4.1-5.4 4.2-4.9 4.5-4.7 4.4-4 4.5-3.5 4.4-3 4.8-2.7 5-2.4 5-1.8 4.9-1.3 5.3-0.9 5.5-0.5 5.7 0 5.1 0.5 5 1M629.5 261.6l0.3 0M683.5 316.4l-4.1-5.9-4.4-6-4.5-5.5-4.7-5.3-4.7-5-5-4.8-5-4.3-5.3-4.2-4.9-3.6-5.2-3.4-5.2-3-5.1-2.6-5.1-2.2-5.4-1.9-5.6-1.7-5.8-1.4M602.9 255.4l-0.5-0.1M601.5 255.1l-0.3 0M599.5 254.7l-0.3 0M551 302.8l3.8-6.3 3.8-5.6 4.1-5.3 4.2-4.8 4.1-4.1 4.5-3.8 4.4-3.2 4.7-2.9 5.1-2.6 5-1.9 4.9-1.5 5.3-1 5.5-0.5 5.7-0.1 5.1 0.5 5 1M685.3 316.7l-3.8-5.8-4.1-5.9-4.1-5.3-4.1-4.8-4.5-4.8-4.3-4.3-4.7-4.3-5.3-4.3-5.3-3.9-5.2-3.5-5.2-3.1-5.1-2.7-5.1-2.3-5.4-2.1-5.3-1.7-5.6-1.4M607.6 256.4l-0.5-0.1M606.5 256.2l-0.3-0.1M549.3 305l3.5-6.3 3.8-6.1 3.8-5.5 4.1-5.2 4.1-4.4 4.2-3.9 4.4-3.5 4.4-3 4.7-2.6 5-2.2 5-1.7 5.3-1.2 5.5-0.7 5.4-0.1 5.4 0.4 5.1 0.9M623.6 260l0.6 0.2M687 317.1l-3.5-5.7-3.4-5.2-3.8-5.2-3.8-4.8-4.1-4.6-4.1-4.2-4.4-4.1-4.6-3.9-5-3.9-5.2-3.7-5.2-3.3-5.2-2.8-5.1-2.5-5.4-2.2-5.1-1.8-5.3-1.4M613.2 257.6l-0.3 0M612.4 257.4l-0.6-0.1M611.2 257.2l-0.3-0.1M547.7 307.3l3.4-6.7 3.5-6.1 3.7-5.9 3.8-5.2 3.8-4.6 4.2-4.2 4.1-3.6 4.4-3.3 4.7-2.9 4.7-2.4 5-1.9 4.9-1.3 5.3-0.9 5.1-0.3 5.5 0.2 5 0.7M619.4 259l0.3 0.1M620.6 259.3l0.6 0.2M688.7 317.5l-3.1-5.5-3.5-5.4-3.4-5-3.5-4.5-3.8-4.5-3.7-4-4.1-3.9-4.7-4.1-5-3.9-5.2-3.8-5.2-3.3-5.2-3-5.2-2.5-5.4-2.3-5.3-1.9-5-1.4M616.8 258.4l-0.3-0.1M546 309.8l3.4-7.2 3.5-6.5 3.4-5.8 3.8-5.6 3.8-4.9 4.1-4.5 4.1-3.9 4.4-3.5 4.7-3.2 4.7-2.5 5-2.1 5-1.4 5.2-1 5.2-0.3 5.4 0.2 5.1 0.8M617.4 258.5l0.3 0.1M690.4 318l-3.1-5.7-3.1-5.2-3.5-5.2-3.4-4.6-3.5-4.2-3.8-4.2-4-3.9-4.1-3.6-5-4-4.9-3.6-5.2-3.4-5.2-2.9-5.2-2.6-5.4-2.3-5.4-1.9-5-1.4M544.4 312.3l3.4-7.6 3.4-6.8 3.4-6.1 3.8-5.9 3.8-5.2 3.8-4.5 4.1-4.2 4.4-3.8 4.4-3.2 4.6-2.8 4.7-2.1 5-1.7 4.9-1.1 5.2-0.4 5.1 0.1 4.8 0.6M613.8 257.7l0.9 0.3M692.1 318.6l-2.8-5.3-3.1-5.5-3.1-4.9-3.5-4.9-3.4-4.3-3.5-3.9-3.7-3.9-4.1-3.7-4.6-3.8-5-3.6-4.9-3.3-5.2-3-5.2-2.6-5.1-2.2-5.1-1.9-5-1.5M624.2 260.2l-0.6-0.2M542.8 314.9l3.4-7.9 3.4-7.1 3.7-7 3.7-6.1 3.8-5.4 3.8-4.7 4-4.5 4.4-4 4.4-3.4 4.7-2.9 4.7-2.3 4.9-1.7 4.9-1.1 4.9-0.5 4.9 0.1 4.8 0.8M611.8 257.3l0.6 0.2M693.8 319.3l-5.6-10.6-3.1-5.1-3.1-4.6-3.1-4.1-3.5-4.1-3.4-3.7-3.8-3.6-4.3-3.7-5-3.8-4.6-3.1-4.9-3-4.9-2.6-4.8-2.2-5.1-1.9-5.1-1.6M628.9 261.4l-0.6-0.1M541.2 317.6l3.3-8.1 3.4-7.4 3.4-6.7 3.8-6.5 3.7-5.7 4.1-5.5 4-4.7 4.1-4.1 4.4-3.7 4.3-3 4.4-2.5 4.6-1.9 4.7-1.3 4.6-0.6 4.8-0.1 4.8 0.6M608.2 256.5l0.6 0.2M695.5 320.2l-5.5-10.9-2.9-4.8-3.1-4.7-3.1-4.3-3.1-3.9-3.5-3.8-3.7-3.7-4.1-3.5-4.6-3.6-4.6-3.3-4.6-2.8-4.6-2.5-4.6-2.1-4.8-2-4.8-1.5M632.7 262.5l-0.6-0.2M539.6 320.3l3.3-8.2 3.7-8.2 3.7-7.4 3.7-6.7 3.8-6 3.7-5.3 4-5 4.1-4.3 4.4-4 4.3-3.2 4.4-2.6 4.3-2 4.3-1.3 4.6-0.7 4.6-0.1 4.5 0.6M605.9 256l0.3 0.1M697.2 321.1l-5.6-11.1-2.8-4.9-3.1-4.9-3.1-4.4-3.1-3.9-3.4-3.9-3.5-3.4-4-3.6-4.3-3.5-4.4-3.1-4.6-2.9-4.6-2.5-4.5-2.1-4.8-1.9-4.8-1.5M635.4 263.2l-0.3-0.1M538 323l3.7-8.9 3.6-8.2 3.7-7.6 4-7.4 3.7-6.2 4.1-6 4-5.2 4-4.6 4.1-3.9 4.3-3.4 4-2.6 4.4-2 4.3-1.4 4.3-0.7 4.2-0.1 4.6 0.6M603.6 255.6l0.6 0.1M698.9 322.1l-5.6-11.3-2.8-4.9-3.1-5-3.1-4.5-3.1-4.1-3.1-3.6-3.4-3.5-3.8-3.5-4.3-3.6-4.3-3.1-4.3-2.8-4.3-2.3-4.6-2.2-4.5-1.8-4.5-1.4M536.4 325.8l4-9.5 3.9-8.9 4-8.2 4-7.6 4-6.9 4-6.1 4-5.5 3.8-4.4 3.7-3.8 4-3.5 4-2.7 4-2 4-1.5 4.3-0.8 4-0.1 4.2 0.6M700.5 323.3l-5.5-11.5-2.8-5-3.1-5.1-3.1-4.6-3.1-4.1-3.1-3.7-3.4-3.7-3.7-3.6-4.1-3.4-4-3-4-2.6-4-2.3-4.2-2-4.3-1.7-4.5-1.5M534.9 328.5l5.4-12.6 4.9-10.6M545.8 304l7-13.7 6.5-10.9 3.4-5 3.1-4.1 3-3.6 3.1-3.2 3.1-2.7 3.4-2.4 3.1-1.8 3.4-1.4 3-0.9 3.4-0.4 3.4 0 3.3 0.5M598.9 254.6l0.3 0.1M702.2 324.6l-5.5-11.5-5.9-10.3-5.9-8.6-3.1-3.9-3.4-3.8-3.4-3.4-3.7-3.3-3.7-3-4-2.7-3.7-2.2-4-2.1-3.9-1.6-4.2-1.4M646 266.3l-0.3-0.1M533.3 331.2l5.2-11.4M550.6 294.2l6.1-11.3 5.5-8.9 5.3-6.9 2.7-3.1 2.8-2.7 2.8-2.3 2.7-1.9 2.8-1.5 3.1-1.2 2.7-0.7 3.1-0.4 2.7 0.1 3.1 0.5M596.6 254.1l0.6 0.1M703.8 326.1l-5.5-11.6-5.9-10.4-3-4.9-3.1-4.3-3.1-4-3.4-4-3.4-3.5-3.4-3.1-3.7-3-3.7-2.7-3.7-2.2-3.6-1.9-4-1.7-3.9-1.2M532.1 333.3l2.1-4.3M550 295.5l6-12 5.5-9.4 5.2-7.4 2.5-2.9 2.7-2.9 2.5-2.1 2.7-2.1 2.8-1.6 2.8-1.2 2.7-0.7 2.8-0.4 2.7 0.1 2.7 0.5M705.4 327.7l-5.5-11.6-5.8-10.5-6.2-9.5-6.1-7.9-3.1-3.4-3.4-3.3-3.4-3-3.4-2.6-3.3-2.2-3.7-2-3.3-1.5-3.7-1.4M530.3 336.6l4.5-8.4M549.6 296.2l6-12.6 5.2-9.5 4.8-7.4 2.5-3.1 2.4-2.7 2.5-2.4 2.7-2.2 2.5-1.5 2.7-1.3 2.5-0.8 2.7-0.4 2.8 0.1 2.7 0.5M707 329.4l-6.1-12.6-6.1-11-6.1-9.6-6.2-8-3.1-3.5-3-3.1-3.1-2.7-3.4-2.7-3-2-3.4-1.9-3.3-1.5-3.4-1.2" fill="none" stroke="#000" stroke-width="0.55"/></g>
<path d="M618.6 393.1l4.8-13.6 4.8-12.3 4.8-10.8 5.1-10 4.8-7.9 5.1-7 2.5-3 2.5-2.5 2.5-2.2 2.5-1.9 3.1-1.9 3-1.5 3.1-1.1 3.3-0.8 3.3-0.5 3.6-0.1 4.1 0.2 3.8 0.5 3.4 0.8 3.2 1 3.1 1.4 2.8 1.5 2.7 1.9 2.8 2.3 2.6 2.6 2.4 2.7M618 393l-8.5-27.7-5.9-18.5-5.2-15.1-4.9-12.6-4.5-10.1-2.2-4.2-2.3-3.7-2.2-3.1-2.2-2.6-2.2-2.1-2.2-1.5M574.1 290.9l-3-0.9-3-0.1M567.5 290l-2.1 0.5-2.1 0.8M562.7 291.6l-1.2 0.7M559.8 293.5l-0.3 0.3M558.9 294.2l-2.6 2.4-2.8 3-2.8 3.5-3 4.2-6.3 9.8-9.3 16.4M531.3 334.9l-2.3 3.9M529.1 338.8l3.3-5.3 4-7.4M550.4 294.2l5.7-12.6 4.5-8.6 4.6-7.2 2.4-3.2 2.5-2.8 2.4-2.4 2.5-1.9 2.4-1.6 2.4-1.1 2.5-0.7 2.4-0.3 2.5 0.1 2.4 0.5M708.3 330.6l-6.1-12.3-6.1-11.1-6.1-9.8-5.8-8-5.6-6.3-2.7-2.7-3.1-2.6-2.7-2-3.1-1.9-3-1.6-3.1-1.3M659.4 270.5l-0.3-0.1" fill="none" stroke="#000" stroke-width="0.8"/>
<text x="525.7" y="366.9" font-size="7" text-anchor="end" font-weight="bold">55</text>
<text x="525.1" y="353.2" font-size="7" text-anchor="end" font-weight="bold">60</text>
<text x="524.5" y="339.4" font-size="7" text-anchor="end" font-weight="bold">65</text>
<text x="523.9" y="325.4" font-size="7" text-anchor="end" font-weight="bold">70</text>
<text x="523.3" y="311.3" font-size="7" text-anchor="end" font-weight="bold">75</text>
<text x="522.7" y="297" font-size="7" text-anchor="end" font-weight="bold">80</text>
<text x="522.1" y="282.5" font-size="7" text-anchor="end" font-weight="bold">85</text>
<text x="521.4" y="267.9" font-size="7" text-anchor="end" font-weight="bold">90</text>
<text x="520.8" y="253" font-size="7" text-anchor="end" font-weight="bold">95</text>
<text x="611.1" y="407.4" font-size="7" text-anchor="middle" font-weight="bold">1.5</text>
<text x="592.3" y="398.9" font-size="7" text-anchor="middle" font-weight="bold">2.0</text>
<text x="574.1" y="390.7" font-size="7" text-anchor="middle" font-weight="bold">2.5</text>
<text x="556.5" y="382.7" font-size="7" text-anchor="middle" font-weight="bold">3.0</text>
<text x="539.3" y="375" font-size="7" text-anchor="middle" font-weight="bold">3.5</text>
<text x="625.2" y="411.5" font-size="7" text-anchor="middle" font-weight="bold">10</text>
<text x="644.3" y="402.8" font-size="7" text-anchor="middle" font-weight="bold">11</text>
<text x="662.8" y="394.4" font-size="7" text-anchor="middle" font-weight="bold">12</text>
<text x="680.7" y="386.3" font-size="7" text-anchor="middle" font-weight="bold">13</text>
<text x="698" y="378.4" font-size="7" text-anchor="middle" font-weight="bold">14</text>
<text x="714.9" y="370.8" font-size="7" text-anchor="middle" font-weight="bold">15</text>
<rect x="552.6" y="305.8" width="29.9" height="59.7" fill="#fff" stroke="#9a9a9a" stroke-width="0.7"/>
<rect x="556.6" y="310.3" width="10.1" height="3.8" fill="#14147a" stroke="#333" stroke-width="0.4"/>
<text x="569.6" y="314.3" font-size="5.6" fill="#444">50</text>
<rect x="556.6" y="316.4" width="10.1" height="3.8" fill="#0a0a9a" stroke="#333" stroke-width="0.4"/>
<text x="569.6" y="320.4" font-size="5.6" fill="#444">60</text>
<rect x="556.6" y="322.6" width="10.1" height="3.8" fill="#0a0aff" stroke="#333" stroke-width="0.4"/>
<text x="569.6" y="326.5" font-size="5.6" fill="#444">70</text>
<rect x="556.6" y="328.7" width="10.1" height="3.8" fill="#0050aa" stroke="#333" stroke-width="0.4"/>
<text x="569.6" y="332.7" font-size="5.6" fill="#444">80</text>
<rect x="556.6" y="334.9" width="10.1" height="3.8" fill="#22c822" stroke="#333" stroke-width="0.4"/>
<text x="569.6" y="338.8" font-size="5.6" fill="#444">90</text>
<rect x="556.6" y="341" width="10.1" height="3.8" fill="#99e600" stroke="#333" stroke-width="0.4"/>
<text x="569.6" y="345" font-size="5.6" fill="#444">100</text>
<rect x="556.6" y="347.1" width="10.1" height="3.8" fill="#fff000" stroke="#333" stroke-width="0.4"/>
<text x="569.6" y="351.1" font-size="5.6" fill="#444">85</text>
<rect x="556.6" y="353.3" width="10.1" height="3.8" fill="#ffa000" stroke="#333" stroke-width="0.4"/>
<text x="569.6" y="357.2" font-size="5.6" fill="#444">90</text>
<rect x="556.6" y="359.4" width="10.1" height="3.8" fill="#ff5000" stroke="#333" stroke-width="0.4"/>
<text x="569.6" y="363.4" font-size="5.6" fill="#444">95</text>
<text x="510.3" y="308.2" font-size="11.5" font-weight="bold" text-anchor="middle" textLength="104.7" lengthAdjust="spacingAndGlyphs" transform="rotate(-90 510.3 308.2)">Biodiesel yield., (%)</text>
<text x="566" y="403.6" font-size="10" font-weight="bold" text-anchor="middle" textLength="78" lengthAdjust="spacingAndGlyphs" transform="rotate(25 566 403.6)">Loading (wt., %)</text>
<text x="677.5" y="401.6" font-size="10" font-weight="bold" text-anchor="middle" textLength="81" lengthAdjust="spacingAndGlyphs" transform="rotate(-26 677.5 401.6)">Methanol/oil ratio</text>
<text x="533.7" y="265" font-size="14.8" font-weight="bold">(F)</text></g>
</svg></body></html>
